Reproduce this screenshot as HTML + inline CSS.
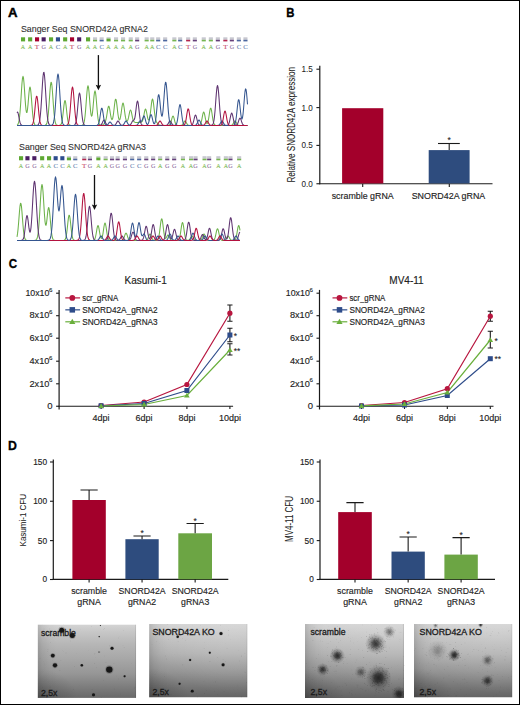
<!DOCTYPE html>
<html><head><meta charset="utf-8"><style>
html,body{margin:0;padding:0;background:#fff;}
svg{display:block;font-family:"Liberation Sans",sans-serif;}
</style></head><body>
<svg width="520" height="705" viewBox="0 0 520 705" font-family="Liberation Sans, sans-serif">
<defs><linearGradient id="bg" x1="0" x2="0" y1="0" y2="1"><stop offset="0" stop-color="rgb(212,212,212)"/><stop offset="0.1" stop-color="rgb(199,199,199)"/><stop offset="0.26" stop-color="rgb(183,183,183)"/><stop offset="0.48" stop-color="rgb(166,166,166)"/><stop offset="0.67" stop-color="rgb(150,150,150)"/><stop offset="0.88" stop-color="rgb(121,121,121)"/><stop offset="1" stop-color="rgb(105,105,105)"/></linearGradient><linearGradient id="vl" x1="0" x2="1" y1="0" y2="0"><stop offset="0" stop-color="#000" stop-opacity="0.14"/><stop offset="0.05" stop-color="#000" stop-opacity="0.07"/><stop offset="0.12" stop-color="#000" stop-opacity="0.02"/><stop offset="0.2" stop-color="#000" stop-opacity="0"/><stop offset="0.985" stop-color="#000" stop-opacity="0"/><stop offset="1" stop-color="#000" stop-opacity="0.15"/></linearGradient><radialGradient id="vbl" cx="0" cy="1" r="0.4"><stop offset="0" stop-color="#000" stop-opacity="0.2"/><stop offset="1" stop-color="#000" stop-opacity="0"/></radialGradient><radialGradient id="vr" cx="0.85" cy="0.2" r="0.75"><stop offset="0" stop-color="#fff" stop-opacity="0.12"/><stop offset="0.6" stop-color="#fff" stop-opacity="0.06"/><stop offset="1" stop-color="#fff" stop-opacity="0"/></radialGradient><filter id="blur1" x="-1" y="-1" width="3" height="3"><feGaussianBlur stdDeviation="1.6"/></filter><filter id="blur2" x="-1" y="-1" width="3" height="3"><feGaussianBlur stdDeviation="0.5"/></filter><linearGradient id="vb" x1="0" x2="0" y1="0" y2="1"><stop offset="0" stop-color="#fff" stop-opacity="0.25"/><stop offset="0.04" stop-color="#fff" stop-opacity="0"/><stop offset="0.93" stop-color="#000" stop-opacity="0"/><stop offset="1" stop-color="#000" stop-opacity="0.12"/></linearGradient><linearGradient id="bg2" x1="0" x2="0" y1="0" y2="1"><stop offset="0" stop-color="rgb(212,212,212)"/><stop offset="0.25" stop-color="rgb(190,190,190)"/><stop offset="0.4" stop-color="rgb(178,178,178)"/><stop offset="0.65" stop-color="rgb(148,148,148)"/><stop offset="0.88" stop-color="rgb(115,115,115)"/><stop offset="1" stop-color="rgb(100,100,100)"/></linearGradient><radialGradient id="col"><stop offset="0" stop-color="#1e1e1e" stop-opacity="0.95"/><stop offset="0.3" stop-color="#222" stop-opacity="0.8"/><stop offset="0.6" stop-color="#333" stop-opacity="0.35"/><stop offset="1" stop-color="#444" stop-opacity="0"/></radialGradient><filter id="blur3" x="-1" y="-1" width="3" height="3"><feGaussianBlur stdDeviation="1.0"/></filter><clipPath id="clip37"><rect x="37.6" y="624.4" width="98.6" height="73.5"/></clipPath><clipPath id="clip149"><rect x="149.1" y="623.9" width="98.4" height="73.6"/></clipPath><clipPath id="clip305"><rect x="305" y="624" width="99" height="74"/></clipPath><clipPath id="clip414"><rect x="414" y="624" width="98.4" height="73.5"/></clipPath></defs>
<rect x="0" y="0" width="520" height="705" fill="#fff"/>
<text x="8.1" y="17.3" font-size="13.2" font-weight="bold" fill="#000" stroke="#000" stroke-width="0.45" >A</text><text x="21" y="32.1" font-size="9.6" textLength="126.8" lengthAdjust="spacingAndGlyphs" fill="#303030" stroke="#303030" stroke-width="0.1" >Sanger Seq SNORD42A gRNA2</text><text x="19" y="150.1" font-size="9.6" textLength="127" lengthAdjust="spacingAndGlyphs" fill="#303030" stroke="#303030" stroke-width="0.1" >Sanger Seq SNORD42A gRNA3</text><rect x="21" y="37.3" width="4.1" height="4.1" fill="#5ea832"/><text x="23.05" y="48.7" font-family="Liberation Serif, serif" font-size="6.5" text-anchor="middle" textLength="4.4" lengthAdjust="spacingAndGlyphs" fill="#86c060" stroke="#86c060" stroke-width="0.12">A</text><rect x="28.1" y="37.3" width="4.1" height="4.1" fill="#5ea832"/><text x="30.150000000000002" y="48.7" font-family="Liberation Serif, serif" font-size="6.5" text-anchor="middle" textLength="4.4" lengthAdjust="spacingAndGlyphs" fill="#86c060" stroke="#86c060" stroke-width="0.12">A</text><rect x="35" y="37.3" width="4.1" height="4.1" fill="#a6002f"/><text x="37.05" y="48.7" font-family="Liberation Serif, serif" font-size="6.5" text-anchor="middle" textLength="4.4" lengthAdjust="spacingAndGlyphs" fill="#c8506e" stroke="#c8506e" stroke-width="0.12">T</text><rect x="41.6" y="37.3" width="4.1" height="4.1" fill="#4a1d63"/><text x="43.65" y="48.7" font-family="Liberation Serif, serif" font-size="6.5" text-anchor="middle" textLength="4.4" lengthAdjust="spacingAndGlyphs" fill="#8e6ea0" stroke="#8e6ea0" stroke-width="0.12">G</text><rect x="49" y="37.3" width="4.1" height="4.1" fill="#5ea832"/><text x="51.05" y="48.7" font-family="Liberation Serif, serif" font-size="6.5" text-anchor="middle" textLength="4.4" lengthAdjust="spacingAndGlyphs" fill="#86c060" stroke="#86c060" stroke-width="0.12">A</text><rect x="55.9" y="37.3" width="4.1" height="4.1" fill="#2d4c8e"/><text x="57.949999999999996" y="48.7" font-family="Liberation Serif, serif" font-size="6.5" text-anchor="middle" textLength="4.4" lengthAdjust="spacingAndGlyphs" fill="#6680b0" stroke="#6680b0" stroke-width="0.12">C</text><rect x="63.1" y="37.3" width="4.1" height="4.1" fill="#5ea832"/><text x="65.15" y="48.7" font-family="Liberation Serif, serif" font-size="6.5" text-anchor="middle" textLength="4.4" lengthAdjust="spacingAndGlyphs" fill="#86c060" stroke="#86c060" stroke-width="0.12">A</text><rect x="70" y="37.3" width="4.1" height="4.1" fill="#a6002f"/><text x="72.05" y="48.7" font-family="Liberation Serif, serif" font-size="6.5" text-anchor="middle" textLength="4.4" lengthAdjust="spacingAndGlyphs" fill="#c8506e" stroke="#c8506e" stroke-width="0.12">T</text><rect x="77.1" y="37.3" width="4.1" height="4.1" fill="#4a1d63"/><text x="79.14999999999999" y="48.7" font-family="Liberation Serif, serif" font-size="6.5" text-anchor="middle" textLength="4.4" lengthAdjust="spacingAndGlyphs" fill="#8e6ea0" stroke="#8e6ea0" stroke-width="0.12">G</text><rect x="86" y="37.3" width="4.1" height="4.1" fill="#5ea832"/><text x="88.05" y="48.7" font-family="Liberation Serif, serif" font-size="6.5" text-anchor="middle" textLength="4.4" lengthAdjust="spacingAndGlyphs" fill="#86c060" stroke="#86c060" stroke-width="0.12">A</text><rect x="93" y="37.3" width="4.1" height="2.5" fill="#c8c8d0"/><rect x="93" y="39.8" width="4.1" height="1.6" fill="#5ea832" opacity="0.85"/><text x="95.05" y="48.7" font-family="Liberation Serif, serif" font-size="6.5" text-anchor="middle" textLength="4.4" lengthAdjust="spacingAndGlyphs" fill="#86c060" stroke="#86c060" stroke-width="0.12">A</text><rect x="99.6" y="37.3" width="4.1" height="2.5" fill="#c8c8d0"/><rect x="99.6" y="39.8" width="4.1" height="1.6" fill="#2d4c8e" opacity="0.85"/><text x="101.64999999999999" y="48.7" font-family="Liberation Serif, serif" font-size="6.5" text-anchor="middle" textLength="4.4" lengthAdjust="spacingAndGlyphs" fill="#6680b0" stroke="#6680b0" stroke-width="0.12">C</text><rect x="106.5" y="37.3" width="4.1" height="1.3" fill="#c4c4cc"/><rect x="106.5" y="38.599999999999994" width="4.1" height="2.8" fill="#5ea832"/><text x="108.55" y="48.7" font-family="Liberation Serif, serif" font-size="6.5" text-anchor="middle" textLength="4.4" lengthAdjust="spacingAndGlyphs" fill="#86c060" stroke="#86c060" stroke-width="0.12">A</text><rect x="114" y="37.3" width="4.1" height="2.5" fill="#c8c8d0"/><rect x="114" y="39.8" width="4.1" height="1.6" fill="#5ea832" opacity="0.85"/><text x="116.05" y="48.7" font-family="Liberation Serif, serif" font-size="6.5" text-anchor="middle" textLength="4.4" lengthAdjust="spacingAndGlyphs" fill="#86c060" stroke="#86c060" stroke-width="0.12">A</text><rect x="121" y="37.3" width="4.1" height="2.5" fill="#c8c8d0"/><rect x="121" y="39.8" width="4.1" height="1.6" fill="#5ea832" opacity="0.85"/><text x="123.05" y="48.7" font-family="Liberation Serif, serif" font-size="6.5" text-anchor="middle" textLength="4.4" lengthAdjust="spacingAndGlyphs" fill="#86c060" stroke="#86c060" stroke-width="0.12">A</text><rect x="128.7" y="37.3" width="4.1" height="2.5" fill="#c8c8d0"/><rect x="128.7" y="39.8" width="4.1" height="1.6" fill="#5ea832" opacity="0.85"/><text x="130.75" y="48.7" font-family="Liberation Serif, serif" font-size="6.5" text-anchor="middle" textLength="4.4" lengthAdjust="spacingAndGlyphs" fill="#86c060" stroke="#86c060" stroke-width="0.12">A</text><rect x="135.1" y="37.3" width="4.1" height="2.5" fill="#c8c8d0"/><rect x="135.1" y="39.8" width="4.1" height="1.6" fill="#4a1d63" opacity="0.85"/><text x="137.15" y="48.7" font-family="Liberation Serif, serif" font-size="6.5" text-anchor="middle" textLength="4.4" lengthAdjust="spacingAndGlyphs" fill="#8e6ea0" stroke="#8e6ea0" stroke-width="0.12">G</text><rect x="144.6" y="37.3" width="4.1" height="2.5" fill="#c8c8d0"/><rect x="144.6" y="39.8" width="4.1" height="1.6" fill="#5ea832" opacity="0.85"/><text x="146.65" y="48.7" font-family="Liberation Serif, serif" font-size="6.5" text-anchor="middle" textLength="4.4" lengthAdjust="spacingAndGlyphs" fill="#86c060" stroke="#86c060" stroke-width="0.12">A</text><rect x="150.2" y="37.3" width="4.1" height="2.5" fill="#c8c8d0"/><rect x="150.2" y="39.8" width="4.1" height="1.6" fill="#5ea832" opacity="0.85"/><text x="152.25" y="48.7" font-family="Liberation Serif, serif" font-size="6.5" text-anchor="middle" textLength="4.4" lengthAdjust="spacingAndGlyphs" fill="#86c060" stroke="#86c060" stroke-width="0.12">A</text><rect x="156.1" y="37.3" width="4.1" height="2.5" fill="#c8c8d0"/><rect x="156.1" y="39.8" width="4.1" height="1.6" fill="#2d4c8e" opacity="0.85"/><text x="158.15" y="48.7" font-family="Liberation Serif, serif" font-size="6.5" text-anchor="middle" textLength="4.4" lengthAdjust="spacingAndGlyphs" fill="#6680b0" stroke="#6680b0" stroke-width="0.12">C</text><rect x="163.1" y="37.3" width="4.1" height="2.5" fill="#c8c8d0"/><rect x="163.1" y="39.8" width="4.1" height="1.6" fill="#2d4c8e" opacity="0.85"/><text x="165.15" y="48.7" font-family="Liberation Serif, serif" font-size="6.5" text-anchor="middle" textLength="4.4" lengthAdjust="spacingAndGlyphs" fill="#6680b0" stroke="#6680b0" stroke-width="0.12">C</text><rect x="172.3" y="37.3" width="4.1" height="2.5" fill="#c8c8d0"/><rect x="172.3" y="39.8" width="4.1" height="1.6" fill="#5ea832" opacity="0.85"/><text x="174.35000000000002" y="48.7" font-family="Liberation Serif, serif" font-size="6.5" text-anchor="middle" textLength="4.4" lengthAdjust="spacingAndGlyphs" fill="#86c060" stroke="#86c060" stroke-width="0.12">A</text><rect x="178.1" y="37.3" width="4.1" height="2.5" fill="#c8c8d0"/><rect x="178.1" y="39.8" width="4.1" height="1.6" fill="#2d4c8e" opacity="0.85"/><text x="180.15" y="48.7" font-family="Liberation Serif, serif" font-size="6.5" text-anchor="middle" textLength="4.4" lengthAdjust="spacingAndGlyphs" fill="#6680b0" stroke="#6680b0" stroke-width="0.12">C</text><rect x="186.1" y="37.3" width="4.1" height="2.5" fill="#c8c8d0"/><rect x="186.1" y="39.8" width="4.1" height="1.6" fill="#a6002f" opacity="0.85"/><text x="188.15" y="48.7" font-family="Liberation Serif, serif" font-size="6.5" text-anchor="middle" textLength="4.4" lengthAdjust="spacingAndGlyphs" fill="#c8506e" stroke="#c8506e" stroke-width="0.12">T</text><rect x="192.8" y="37.3" width="4.1" height="2.5" fill="#c8c8d0"/><rect x="192.8" y="39.8" width="4.1" height="1.6" fill="#4a1d63" opacity="0.85"/><text x="194.85000000000002" y="48.7" font-family="Liberation Serif, serif" font-size="6.5" text-anchor="middle" textLength="4.4" lengthAdjust="spacingAndGlyphs" fill="#8e6ea0" stroke="#8e6ea0" stroke-width="0.12">G</text><rect x="201.7" y="37.3" width="4.1" height="2.5" fill="#c8c8d0"/><rect x="201.7" y="39.8" width="4.1" height="1.6" fill="#5ea832" opacity="0.85"/><text x="203.75" y="48.7" font-family="Liberation Serif, serif" font-size="6.5" text-anchor="middle" textLength="4.4" lengthAdjust="spacingAndGlyphs" fill="#86c060" stroke="#86c060" stroke-width="0.12">A</text><rect x="208.8" y="37.3" width="4.1" height="2.5" fill="#c8c8d0"/><rect x="208.8" y="39.8" width="4.1" height="1.6" fill="#5ea832" opacity="0.85"/><text x="210.85000000000002" y="48.7" font-family="Liberation Serif, serif" font-size="6.5" text-anchor="middle" textLength="4.4" lengthAdjust="spacingAndGlyphs" fill="#86c060" stroke="#86c060" stroke-width="0.12">A</text><rect x="215.8" y="37.3" width="4.1" height="2.5" fill="#c8c8d0"/><rect x="215.8" y="39.8" width="4.1" height="1.6" fill="#4a1d63" opacity="0.85"/><text x="217.85000000000002" y="48.7" font-family="Liberation Serif, serif" font-size="6.5" text-anchor="middle" textLength="4.4" lengthAdjust="spacingAndGlyphs" fill="#8e6ea0" stroke="#8e6ea0" stroke-width="0.12">G</text><rect x="223.3" y="37.3" width="4.1" height="2.5" fill="#c8c8d0"/><rect x="223.3" y="39.8" width="4.1" height="1.6" fill="#a6002f" opacity="0.85"/><text x="225.35000000000002" y="48.7" font-family="Liberation Serif, serif" font-size="6.5" text-anchor="middle" textLength="4.4" lengthAdjust="spacingAndGlyphs" fill="#c8506e" stroke="#c8506e" stroke-width="0.12">T</text><rect x="229.8" y="37.3" width="4.1" height="2.5" fill="#c8c8d0"/><rect x="229.8" y="39.8" width="4.1" height="1.6" fill="#4a1d63" opacity="0.85"/><text x="231.85000000000002" y="48.7" font-family="Liberation Serif, serif" font-size="6.5" text-anchor="middle" textLength="4.4" lengthAdjust="spacingAndGlyphs" fill="#8e6ea0" stroke="#8e6ea0" stroke-width="0.12">G</text><rect x="236.8" y="37.3" width="4.1" height="2.5" fill="#c8c8d0"/><rect x="236.8" y="39.8" width="4.1" height="1.6" fill="#2d4c8e" opacity="0.85"/><text x="238.85000000000002" y="48.7" font-family="Liberation Serif, serif" font-size="6.5" text-anchor="middle" textLength="4.4" lengthAdjust="spacingAndGlyphs" fill="#6680b0" stroke="#6680b0" stroke-width="0.12">C</text><rect x="243.4" y="37.3" width="4.1" height="2.5" fill="#c8c8d0"/><rect x="243.4" y="39.8" width="4.1" height="1.6" fill="#2d4c8e" opacity="0.85"/><text x="245.45000000000002" y="48.7" font-family="Liberation Serif, serif" font-size="6.5" text-anchor="middle" textLength="4.4" lengthAdjust="spacingAndGlyphs" fill="#6680b0" stroke="#6680b0" stroke-width="0.12">C</text><rect x="19" y="156.2" width="4.1" height="4.1" fill="#5ea832"/><text x="21.05" y="167.7" font-family="Liberation Serif, serif" font-size="6.5" text-anchor="middle" textLength="4.4" lengthAdjust="spacingAndGlyphs" fill="#86c060" stroke="#86c060" stroke-width="0.12">A</text><rect x="25.4" y="156.2" width="4.1" height="4.1" fill="#4a1d63"/><text x="27.45" y="167.7" font-family="Liberation Serif, serif" font-size="6.5" text-anchor="middle" textLength="4.4" lengthAdjust="spacingAndGlyphs" fill="#8e6ea0" stroke="#8e6ea0" stroke-width="0.12">G</text><rect x="32.3" y="156.2" width="4.1" height="4.1" fill="#4a1d63"/><text x="34.349999999999994" y="167.7" font-family="Liberation Serif, serif" font-size="6.5" text-anchor="middle" textLength="4.4" lengthAdjust="spacingAndGlyphs" fill="#8e6ea0" stroke="#8e6ea0" stroke-width="0.12">G</text><rect x="40.1" y="156.2" width="4.1" height="4.1" fill="#5ea832"/><text x="42.15" y="167.7" font-family="Liberation Serif, serif" font-size="6.5" text-anchor="middle" textLength="4.4" lengthAdjust="spacingAndGlyphs" fill="#86c060" stroke="#86c060" stroke-width="0.12">A</text><rect x="47" y="156.2" width="4.1" height="4.1" fill="#5ea832"/><text x="49.05" y="167.7" font-family="Liberation Serif, serif" font-size="6.5" text-anchor="middle" textLength="4.4" lengthAdjust="spacingAndGlyphs" fill="#86c060" stroke="#86c060" stroke-width="0.12">A</text><rect x="53.6" y="156.2" width="4.1" height="4.1" fill="#2d4c8e"/><text x="55.65" y="167.7" font-family="Liberation Serif, serif" font-size="6.5" text-anchor="middle" textLength="4.4" lengthAdjust="spacingAndGlyphs" fill="#6680b0" stroke="#6680b0" stroke-width="0.12">C</text><rect x="60.3" y="156.2" width="4.1" height="4.1" fill="#2d4c8e"/><text x="62.349999999999994" y="167.7" font-family="Liberation Serif, serif" font-size="6.5" text-anchor="middle" textLength="4.4" lengthAdjust="spacingAndGlyphs" fill="#6680b0" stroke="#6680b0" stroke-width="0.12">C</text><rect x="66.9" y="156.2" width="4.1" height="1.3" fill="#c4c4cc"/><rect x="66.9" y="157.5" width="4.1" height="2.8" fill="#5ea832"/><text x="68.95" y="167.7" font-family="Liberation Serif, serif" font-size="6.5" text-anchor="middle" textLength="4.4" lengthAdjust="spacingAndGlyphs" fill="#86c060" stroke="#86c060" stroke-width="0.12">A</text><rect x="73.2" y="156.2" width="4.1" height="2.5" fill="#c8c8d0"/><rect x="73.2" y="158.7" width="4.1" height="1.6" fill="#2d4c8e" opacity="0.85"/><text x="75.25" y="167.7" font-family="Liberation Serif, serif" font-size="6.5" text-anchor="middle" textLength="4.4" lengthAdjust="spacingAndGlyphs" fill="#6680b0" stroke="#6680b0" stroke-width="0.12">C</text><rect x="82.2" y="156.2" width="4.1" height="2.5" fill="#c8c8d0"/><rect x="82.2" y="158.7" width="4.1" height="1.6" fill="#a6002f" opacity="0.85"/><text x="84.25" y="167.7" font-family="Liberation Serif, serif" font-size="6.5" text-anchor="middle" textLength="4.4" lengthAdjust="spacingAndGlyphs" fill="#c8506e" stroke="#c8506e" stroke-width="0.12">T</text><rect x="87.9" y="156.2" width="4.1" height="2.5" fill="#c8c8d0"/><rect x="87.9" y="158.7" width="4.1" height="1.6" fill="#4a1d63" opacity="0.85"/><text x="89.95" y="167.7" font-family="Liberation Serif, serif" font-size="6.5" text-anchor="middle" textLength="4.4" lengthAdjust="spacingAndGlyphs" fill="#8e6ea0" stroke="#8e6ea0" stroke-width="0.12">G</text><rect x="96.3" y="156.2" width="4.1" height="1.3" fill="#c4c4cc"/><rect x="96.3" y="157.5" width="4.1" height="2.8" fill="#5ea832"/><text x="98.35" y="167.7" font-family="Liberation Serif, serif" font-size="6.5" text-anchor="middle" textLength="4.4" lengthAdjust="spacingAndGlyphs" fill="#86c060" stroke="#86c060" stroke-width="0.12">A</text><rect x="103.6" y="156.2" width="4.1" height="2.5" fill="#c8c8d0"/><rect x="103.6" y="158.7" width="4.1" height="1.6" fill="#5ea832" opacity="0.85"/><text x="105.64999999999999" y="167.7" font-family="Liberation Serif, serif" font-size="6.5" text-anchor="middle" textLength="4.4" lengthAdjust="spacingAndGlyphs" fill="#86c060" stroke="#86c060" stroke-width="0.12">A</text><rect x="110" y="156.2" width="4.1" height="2.5" fill="#c8c8d0"/><rect x="110" y="158.7" width="4.1" height="1.6" fill="#4a1d63" opacity="0.85"/><text x="112.05" y="167.7" font-family="Liberation Serif, serif" font-size="6.5" text-anchor="middle" textLength="4.4" lengthAdjust="spacingAndGlyphs" fill="#8e6ea0" stroke="#8e6ea0" stroke-width="0.12">G</text><rect x="115.6" y="156.2" width="4.1" height="2.5" fill="#c8c8d0"/><rect x="115.6" y="158.7" width="4.1" height="1.6" fill="#4a1d63" opacity="0.85"/><text x="117.64999999999999" y="167.7" font-family="Liberation Serif, serif" font-size="6.5" text-anchor="middle" textLength="4.4" lengthAdjust="spacingAndGlyphs" fill="#8e6ea0" stroke="#8e6ea0" stroke-width="0.12">G</text><rect x="122.9" y="156.2" width="4.1" height="2.5" fill="#c8c8d0"/><rect x="122.9" y="158.7" width="4.1" height="1.6" fill="#4a1d63" opacity="0.85"/><text x="124.95" y="167.7" font-family="Liberation Serif, serif" font-size="6.5" text-anchor="middle" textLength="4.4" lengthAdjust="spacingAndGlyphs" fill="#8e6ea0" stroke="#8e6ea0" stroke-width="0.12">G</text><rect x="130.1" y="156.2" width="4.1" height="2.5" fill="#c8c8d0"/><rect x="130.1" y="158.7" width="4.1" height="1.6" fill="#2d4c8e" opacity="0.85"/><text x="132.15" y="167.7" font-family="Liberation Serif, serif" font-size="6.5" text-anchor="middle" textLength="4.4" lengthAdjust="spacingAndGlyphs" fill="#6680b0" stroke="#6680b0" stroke-width="0.12">C</text><rect x="137.1" y="156.2" width="4.1" height="2.5" fill="#c8c8d0"/><rect x="137.1" y="158.7" width="4.1" height="1.6" fill="#2d4c8e" opacity="0.85"/><text x="139.15" y="167.7" font-family="Liberation Serif, serif" font-size="6.5" text-anchor="middle" textLength="4.4" lengthAdjust="spacingAndGlyphs" fill="#6680b0" stroke="#6680b0" stroke-width="0.12">C</text><rect x="144.2" y="156.2" width="4.1" height="2.5" fill="#c8c8d0"/><rect x="144.2" y="158.7" width="4.1" height="1.6" fill="#4a1d63" opacity="0.85"/><text x="146.25" y="167.7" font-family="Liberation Serif, serif" font-size="6.5" text-anchor="middle" textLength="4.4" lengthAdjust="spacingAndGlyphs" fill="#8e6ea0" stroke="#8e6ea0" stroke-width="0.12">G</text><rect x="151.1" y="156.2" width="4.1" height="2.5" fill="#c8c8d0"/><rect x="151.1" y="158.7" width="4.1" height="1.6" fill="#4a1d63" opacity="0.85"/><text x="153.15" y="167.7" font-family="Liberation Serif, serif" font-size="6.5" text-anchor="middle" textLength="4.4" lengthAdjust="spacingAndGlyphs" fill="#8e6ea0" stroke="#8e6ea0" stroke-width="0.12">G</text><rect x="158.1" y="156.2" width="4.1" height="2.5" fill="#c8c8d0"/><rect x="158.1" y="158.7" width="4.1" height="1.6" fill="#5ea832" opacity="0.85"/><text x="160.15" y="167.7" font-family="Liberation Serif, serif" font-size="6.5" text-anchor="middle" textLength="4.4" lengthAdjust="spacingAndGlyphs" fill="#86c060" stroke="#86c060" stroke-width="0.12">A</text><rect x="165.2" y="156.2" width="4.1" height="2.5" fill="#c8c8d0"/><rect x="165.2" y="158.7" width="4.1" height="1.6" fill="#4a1d63" opacity="0.85"/><text x="167.25" y="167.7" font-family="Liberation Serif, serif" font-size="6.5" text-anchor="middle" textLength="4.4" lengthAdjust="spacingAndGlyphs" fill="#8e6ea0" stroke="#8e6ea0" stroke-width="0.12">G</text><rect x="172.1" y="156.2" width="4.1" height="2.5" fill="#c8c8d0"/><rect x="172.1" y="158.7" width="4.1" height="1.6" fill="#4a1d63" opacity="0.85"/><text x="174.15" y="167.7" font-family="Liberation Serif, serif" font-size="6.5" text-anchor="middle" textLength="4.4" lengthAdjust="spacingAndGlyphs" fill="#8e6ea0" stroke="#8e6ea0" stroke-width="0.12">G</text><rect x="180.9" y="156.2" width="4.1" height="2.5" fill="#c8c8d0"/><rect x="180.9" y="158.7" width="4.1" height="1.6" fill="#5ea832" opacity="0.85"/><text x="182.95000000000002" y="167.7" font-family="Liberation Serif, serif" font-size="6.5" text-anchor="middle" textLength="4.4" lengthAdjust="spacingAndGlyphs" fill="#86c060" stroke="#86c060" stroke-width="0.12">A</text><rect x="189" y="156.2" width="4.1" height="2.5" fill="#c8c8d0"/><rect x="189" y="158.7" width="4.1" height="1.6" fill="#5ea832" opacity="0.85"/><text x="191.05" y="167.7" font-family="Liberation Serif, serif" font-size="6.5" text-anchor="middle" textLength="4.4" lengthAdjust="spacingAndGlyphs" fill="#86c060" stroke="#86c060" stroke-width="0.12">A</text><rect x="193.5" y="156.2" width="4.1" height="2.5" fill="#c8c8d0"/><rect x="193.5" y="158.7" width="4.1" height="1.6" fill="#4a1d63" opacity="0.85"/><text x="195.55" y="167.7" font-family="Liberation Serif, serif" font-size="6.5" text-anchor="middle" textLength="4.4" lengthAdjust="spacingAndGlyphs" fill="#8e6ea0" stroke="#8e6ea0" stroke-width="0.12">G</text><rect x="202.5" y="156.2" width="4.1" height="2.5" fill="#c8c8d0"/><rect x="202.5" y="158.7" width="4.1" height="1.6" fill="#5ea832" opacity="0.85"/><text x="204.55" y="167.7" font-family="Liberation Serif, serif" font-size="6.5" text-anchor="middle" textLength="4.4" lengthAdjust="spacingAndGlyphs" fill="#86c060" stroke="#86c060" stroke-width="0.12">A</text><rect x="207.1" y="156.2" width="4.1" height="2.5" fill="#c8c8d0"/><rect x="207.1" y="158.7" width="4.1" height="1.6" fill="#4a1d63" opacity="0.85"/><text x="209.15" y="167.7" font-family="Liberation Serif, serif" font-size="6.5" text-anchor="middle" textLength="4.4" lengthAdjust="spacingAndGlyphs" fill="#8e6ea0" stroke="#8e6ea0" stroke-width="0.12">G</text><rect x="216.3" y="156.2" width="4.1" height="2.5" fill="#c8c8d0"/><rect x="216.3" y="158.7" width="4.1" height="1.6" fill="#5ea832" opacity="0.85"/><text x="218.35000000000002" y="167.7" font-family="Liberation Serif, serif" font-size="6.5" text-anchor="middle" textLength="4.4" lengthAdjust="spacingAndGlyphs" fill="#86c060" stroke="#86c060" stroke-width="0.12">A</text><rect x="223.8" y="156.2" width="4.1" height="2.5" fill="#c8c8d0"/><rect x="223.8" y="158.7" width="4.1" height="1.6" fill="#5ea832" opacity="0.85"/><text x="225.85000000000002" y="167.7" font-family="Liberation Serif, serif" font-size="6.5" text-anchor="middle" textLength="4.4" lengthAdjust="spacingAndGlyphs" fill="#86c060" stroke="#86c060" stroke-width="0.12">A</text><rect x="228.4" y="156.2" width="4.1" height="2.5" fill="#c8c8d0"/><rect x="228.4" y="158.7" width="4.1" height="1.6" fill="#4a1d63" opacity="0.85"/><text x="230.45000000000002" y="167.7" font-family="Liberation Serif, serif" font-size="6.5" text-anchor="middle" textLength="4.4" lengthAdjust="spacingAndGlyphs" fill="#8e6ea0" stroke="#8e6ea0" stroke-width="0.12">G</text><rect x="237.1" y="156.2" width="4.1" height="2.5" fill="#c8c8d0"/><rect x="237.1" y="158.7" width="4.1" height="1.6" fill="#5ea832" opacity="0.85"/><text x="239.15" y="167.7" font-family="Liberation Serif, serif" font-size="6.5" text-anchor="middle" textLength="4.4" lengthAdjust="spacingAndGlyphs" fill="#86c060" stroke="#86c060" stroke-width="0.12">A</text><polyline points="17.0,125.2 17.5,124.8 18.0,124.2 18.5,122.9 19.0,120.8 19.5,117.4 20.0,112.4 20.5,105.9 21.0,98.2 21.5,90.2 22.0,83.0 22.5,78.1 23.0,76.3 23.5,78.0 24.0,83.0 24.5,89.9 25.0,97.6 25.5,104.6 26.0,109.8 26.5,112.5 27.0,112.4 27.5,109.5 28.0,104.6 28.5,98.6 29.0,92.7 29.5,88.5 30.0,87.0 30.5,88.6 31.0,93.0 31.5,99.1 32.0,105.8 32.5,112.0 33.0,117.0 33.5,120.5 34.0,122.8 34.5,124.1 35.0,124.8 35.5,125.2 36.0,125.3 36.5,125.4 37.0,125.4 37.5,125.4 38.0,125.4 38.5,125.4 39.0,125.4 39.5,125.4 40.0,125.4 40.5,125.4 41.0,125.4 41.5,125.4 42.0,125.4 42.5,125.4 43.0,125.4 43.5,125.4 44.0,125.4 44.5,125.4 45.0,125.3 45.5,125.1 46.0,124.8 46.5,124.1 47.0,122.7 47.5,120.4 48.0,116.8 48.5,111.7 49.0,105.2 49.5,97.9 50.0,90.8 50.5,85.2 51.0,82.3 51.5,82.6 52.0,86.2 52.5,92.2 53.0,99.4 53.5,106.6 54.0,112.9 54.5,117.7 55.0,121.0 55.5,123.1 56.0,124.3 56.5,124.9 57.0,125.2 57.5,125.3 58.0,125.4 58.5,125.4 59.0,125.4 59.5,125.3 60.0,125.2 60.5,125.0 61.0,124.4 61.5,123.3 62.0,121.4 62.5,118.3 63.0,114.3 63.5,109.6 64.0,105.1 64.5,101.7 65.0,100.5 65.5,101.7 66.0,105.1 66.5,109.6 67.0,114.3 67.5,118.3 68.0,121.4 68.5,123.3 69.0,124.4 69.5,125.0 70.0,125.2 70.5,125.3 71.0,125.4 71.5,125.4 72.0,125.4 72.5,125.4 73.0,125.4 73.5,125.4 74.0,125.4 74.5,125.4 75.0,125.4 75.5,125.4 76.0,125.4 76.5,125.4 77.0,125.4 77.5,125.4 78.0,125.4 78.5,125.4 79.0,125.4 79.5,125.4 80.0,125.4 80.5,125.4 81.0,125.4 81.5,125.4 82.0,125.3 82.5,125.1 83.0,124.8 83.5,124.0 84.0,122.6 84.5,120.2 85.0,116.5 85.5,111.3 86.0,104.9 86.5,98.1 87.0,91.8 87.5,87.3 88.0,85.7 88.5,87.3 89.0,91.7 89.5,97.9 90.0,104.5 90.5,110.4 91.0,114.4 91.5,116.2 92.0,115.6 92.5,112.6 93.0,107.7 93.5,101.9 94.0,96.3 94.5,92.3 95.0,90.8 95.5,92.3 96.0,96.4 96.5,102.2 97.0,108.4 97.5,114.0 98.0,118.4 98.5,121.4 99.0,123.4 99.5,124.4 100.0,125.0 100.5,125.2 101.0,125.3 101.5,125.2 102.0,125.1 102.5,125.0 103.0,124.7 103.5,124.3 104.0,123.8 104.5,123.2 105.0,122.4 105.5,121.2 106.0,119.5 106.5,117.1 107.0,114.0 107.5,110.6 108.0,107.8 108.5,106.2 109.0,106.3 109.5,108.2 110.0,111.2 110.5,114.5 111.0,117.2 111.5,119.0 112.0,119.6 112.5,119.0 113.0,117.0 113.5,113.7 114.0,109.5 114.5,105.0 115.0,101.2 115.5,99.2 116.0,99.4 116.5,101.9 117.0,105.9 117.5,110.4 118.0,114.5 118.5,117.5 119.0,119.3 119.5,119.9 120.0,119.2 120.5,117.2 121.0,114.2 121.5,110.5 122.0,106.8 122.5,104.0 123.0,103.0 123.5,104.0 124.0,106.8 124.5,110.5 125.0,114.3 125.5,117.4 126.0,119.6 126.5,120.8 127.0,121.2 127.5,120.8 128.0,119.6 128.5,117.7 129.0,115.2 129.5,112.7 130.0,110.7" fill="none" stroke="#6db24a" stroke-width="1.05" stroke-linejoin="round"/><polyline points="17.0,112.8 17.5,112.0 18.0,112.8 18.5,114.8 19.0,117.6 19.5,120.2 20.0,122.4 20.5,123.8 21.0,124.7 21.5,125.1 22.0,125.3 22.5,125.4 23.0,125.4 23.5,125.4 24.0,125.4 24.5,125.4 25.0,125.4 25.5,125.4 26.0,125.4 26.5,125.4 27.0,125.4 27.5,125.4 28.0,125.4 28.5,125.4 29.0,125.4 29.5,125.4 30.0,125.4 30.5,125.4 31.0,125.4 31.5,125.4 32.0,125.4 32.5,125.4 33.0,125.4 33.5,125.4 34.0,125.4 34.5,125.4 35.0,125.4 35.5,125.4 36.0,125.4 36.5,125.4 37.0,125.3 37.5,125.2 38.0,124.9 38.5,124.4 39.0,123.3 39.5,121.4 40.0,118.4 40.5,113.8 41.0,107.6 41.5,100.0 42.0,91.5 42.5,83.3 43.0,76.6 43.5,72.7 44.0,72.3 44.5,75.5 45.0,81.8 45.5,89.8 46.0,98.3 46.5,106.2 47.0,112.7 47.5,117.6 48.0,120.9 48.5,123.0 49.0,124.2 49.5,124.8 50.0,125.2 50.5,125.3 51.0,125.4 51.5,125.4 52.0,125.4 52.5,125.4 53.0,125.4 53.5,125.4 54.0,125.4 54.5,125.4 55.0,125.4 55.5,125.4 56.0,125.4 56.5,125.4 57.0,125.4 57.5,125.4 58.0,125.4 58.5,125.4 59.0,125.4 59.5,125.4 60.0,125.4 60.5,125.4 61.0,125.4 61.5,125.4 62.0,125.4 62.5,125.4 63.0,125.4 63.5,125.4 64.0,125.4 64.5,125.4 65.0,125.4 65.5,125.4 66.0,125.4 66.5,125.4 67.0,125.4 67.5,125.4 68.0,125.4 68.5,125.4 69.0,125.4 69.5,125.4 70.0,125.4 70.5,125.4 71.0,125.4 71.5,125.4 72.0,125.4 72.5,125.4 73.0,125.4 73.5,125.4 74.0,125.3 74.5,125.1 75.0,124.6 75.5,123.6 76.0,121.9 76.5,119.1 77.0,115.0 77.5,109.8 78.0,103.9 78.5,98.4 79.0,94.4 79.5,93.0 80.0,94.4 80.5,98.4 81.0,103.9 81.5,109.8 82.0,115.0 82.5,119.1 83.0,121.9 83.5,123.6 84.0,124.6 84.5,125.1 85.0,125.3 85.5,125.4 86.0,125.4 86.5,125.4 87.0,125.4 87.5,125.4 88.0,125.4 88.5,125.4 89.0,125.4 89.5,125.4 90.0,125.4 90.5,125.4 91.0,125.4 91.5,125.4 92.0,125.4 92.5,125.4 93.0,125.4 93.5,125.4 94.0,125.4 94.5,125.4 95.0,125.4 95.5,125.4 96.0,125.4 96.5,125.4 97.0,125.4 97.5,125.4 98.0,125.4 98.5,125.4 99.0,125.4 99.5,125.4 100.0,125.3 100.5,125.2 101.0,124.9 101.5,124.4 102.0,123.6 102.5,122.5 103.0,121.3 103.5,120.4 104.0,120.0 104.5,120.4 105.0,121.3 105.5,122.5 106.0,123.6 106.5,124.4 107.0,124.9 107.5,125.2 108.0,125.3 108.5,125.4 109.0,125.4 109.5,125.4 110.0,125.4 110.5,125.4 111.0,125.4 111.5,125.4 112.0,125.4 112.5,125.4 113.0,125.4 113.5,125.4 114.0,125.3 114.5,125.2 115.0,125.0 115.5,124.6 116.0,123.9 116.5,123.0 117.0,122.1 117.5,121.3 118.0,121.0 118.5,121.3 119.0,122.1 119.5,123.0 120.0,123.9 120.5,124.6 121.0,125.0 121.5,125.2 122.0,125.3 122.5,125.4 123.0,125.4 123.5,125.4 124.0,125.4 124.5,125.4 125.0,125.4 125.5,125.4 126.0,125.4 126.5,125.4 127.0,125.4 127.5,125.4 128.0,125.4 128.5,125.4 129.0,125.3 129.5,125.2 130.0,125.0" fill="none" stroke="#5e3370" stroke-width="1.05" stroke-linejoin="round"/><polyline points="17.0,125.4 17.5,125.4 18.0,125.4 18.5,125.4 19.0,125.4 19.5,125.4 20.0,125.4 20.5,125.4 21.0,125.4 21.5,125.4 22.0,125.4 22.5,125.4 23.0,125.4 23.5,125.4 24.0,125.4 24.5,125.4 25.0,125.4 25.5,125.4 26.0,125.4 26.5,125.4 27.0,125.4 27.5,125.4 28.0,125.4 28.5,125.4 29.0,125.4 29.5,125.4 30.0,125.4 30.5,125.4 31.0,125.3 31.5,125.2 32.0,125.0 32.5,124.4 33.0,123.2 33.5,121.2 34.0,118.0 34.5,113.7 35.0,108.4 35.5,103.0 36.0,98.6 36.5,96.2 37.0,96.5 37.5,99.4 38.0,104.1 38.5,109.5 39.0,114.6 39.5,118.8 40.0,121.7 40.5,123.5 41.0,124.5 41.5,125.0 42.0,125.3 42.5,125.4 43.0,125.4 43.5,125.4 44.0,125.4 44.5,125.4 45.0,125.4 45.5,125.4 46.0,125.4 46.5,125.4 47.0,125.4 47.5,125.4 48.0,125.4 48.5,125.4 49.0,125.4 49.5,125.4 50.0,125.4 50.5,125.4 51.0,125.4 51.5,125.4 52.0,125.4 52.5,125.4 53.0,125.4 53.5,125.4 54.0,125.4 54.5,125.4 55.0,125.4 55.5,125.4 56.0,125.4 56.5,125.4 57.0,125.4 57.5,125.4 58.0,125.4 58.5,125.4 59.0,125.4 59.5,125.4 60.0,125.4 60.5,125.4 61.0,125.4 61.5,125.4 62.0,125.4 62.5,125.4 63.0,125.4 63.5,125.4 64.0,125.4 64.5,125.4 65.0,125.4 65.5,125.4 66.0,125.4 66.5,125.3 67.0,125.2 67.5,124.8 68.0,124.1 68.5,122.8 69.0,120.5 69.5,117.0 70.0,112.0 70.5,105.8 71.0,99.1 71.5,93.0 72.0,88.6 72.5,87.0 73.0,88.6 73.5,93.0 74.0,99.1 74.5,105.8 75.0,112.0 75.5,117.0 76.0,120.5 76.5,122.8 77.0,124.1 77.5,124.8 78.0,125.2 78.5,125.3 79.0,125.4 79.5,125.4 80.0,125.4 80.5,125.4 81.0,125.4 81.5,125.4 82.0,125.4 82.5,125.4 83.0,125.4 83.5,125.4 84.0,125.4 84.5,125.4 85.0,125.4 85.5,125.4 86.0,125.4 86.5,125.4 87.0,125.4 87.5,125.4 88.0,125.4 88.5,125.4 89.0,125.4 89.5,125.4 90.0,125.4 90.5,125.4 91.0,125.4 91.5,125.4 92.0,125.4 92.5,125.4 93.0,125.4 93.5,125.4 94.0,125.4 94.5,125.4 95.0,125.4 95.5,125.4 96.0,125.4 96.5,125.4 97.0,125.4 97.5,125.4 98.0,125.4 98.5,125.4 99.0,125.4 99.5,125.4 100.0,125.4 100.5,125.4 101.0,125.4 101.5,125.4 102.0,125.4 102.5,125.4 103.0,125.4 103.5,125.4 104.0,125.4 104.5,125.4 105.0,125.4 105.5,125.4 106.0,125.4 106.5,125.4 107.0,125.4 107.5,125.4 108.0,125.4 108.5,125.4 109.0,125.4 109.5,125.4 110.0,125.4 110.5,125.4 111.0,125.4 111.5,125.4 112.0,125.4 112.5,125.4 113.0,125.4 113.5,125.4 114.0,125.4 114.5,125.4 115.0,125.4 115.5,125.4 116.0,125.4 116.5,125.4 117.0,125.4 117.5,125.4 118.0,125.4 118.5,125.4 119.0,125.4 119.5,125.4 120.0,125.4 120.5,125.4 121.0,125.4 121.5,125.4 122.0,125.4 122.5,125.4 123.0,125.4 123.5,125.4 124.0,125.4 124.5,125.4 125.0,125.4 125.5,125.4 126.0,125.4 126.5,125.4 127.0,125.4 127.5,125.4 128.0,125.4 128.5,125.4 129.0,125.4 129.5,125.4 130.0,125.4" fill="none" stroke="#b3123f" stroke-width="1.05" stroke-linejoin="round"/><polyline points="17.0,125.4 17.5,125.4 18.0,125.4 18.5,125.4 19.0,125.4 19.5,125.4 20.0,125.4 20.5,125.4 21.0,125.4 21.5,125.4 22.0,125.4 22.5,125.4 23.0,125.4 23.5,125.4 24.0,125.4 24.5,125.4 25.0,125.4 25.5,125.4 26.0,125.4 26.5,125.4 27.0,125.4 27.5,125.4 28.0,125.4 28.5,125.4 29.0,125.4 29.5,125.4 30.0,125.4 30.5,125.4 31.0,125.4 31.5,125.4 32.0,125.4 32.5,125.4 33.0,125.4 33.5,125.4 34.0,125.4 34.5,125.4 35.0,125.4 35.5,125.4 36.0,125.4 36.5,125.4 37.0,125.4 37.5,125.4 38.0,125.4 38.5,125.4 39.0,125.4 39.5,125.4 40.0,125.4 40.5,125.4 41.0,125.4 41.5,125.4 42.0,125.4 42.5,125.4 43.0,125.4 43.5,125.4 44.0,125.4 44.5,125.4 45.0,125.4 45.5,125.4 46.0,125.4 46.5,125.4 47.0,125.4 47.5,125.4 48.0,125.4 48.5,125.4 49.0,125.4 49.5,125.4 50.0,125.4 50.5,125.4 51.0,125.4 51.5,125.3 52.0,125.1 52.5,124.7 53.0,124.0 53.5,122.6 54.0,120.2 54.5,116.6 55.0,111.3 55.5,104.5 56.0,96.5 56.5,88.2 57.0,80.9 57.5,75.8 58.0,74.0 58.5,75.8 59.0,80.9 59.5,88.2 60.0,96.5 60.5,104.5 61.0,111.3 61.5,116.6 62.0,120.2 62.5,122.6 63.0,124.0 63.5,124.7 64.0,125.1 64.5,125.3 65.0,125.4 65.5,125.4 66.0,125.4 66.5,125.4 67.0,125.4 67.5,125.4 68.0,125.4 68.5,125.4 69.0,125.4 69.5,125.4 70.0,125.4 70.5,125.4 71.0,125.4 71.5,125.4 72.0,125.4 72.5,125.4 73.0,125.4 73.5,125.4 74.0,125.4 74.5,125.4 75.0,125.4 75.5,125.4 76.0,125.4 76.5,125.4 77.0,125.4 77.5,125.4 78.0,125.4 78.5,125.4 79.0,125.4 79.5,125.4 80.0,125.4 80.5,125.4 81.0,125.4 81.5,125.4 82.0,125.4 82.5,125.4 83.0,125.4 83.5,125.4 84.0,125.4 84.5,125.4 85.0,125.4 85.5,125.4 86.0,125.4 86.5,125.4 87.0,125.4 87.5,125.4 88.0,125.4 88.5,125.4 89.0,125.4 89.5,125.4 90.0,125.4 90.5,125.4 91.0,125.4 91.5,125.4 92.0,125.4 92.5,125.4 93.0,125.4 93.5,125.4 94.0,125.4 94.5,125.4 95.0,125.4 95.5,125.4 96.0,125.4 96.5,125.4 97.0,125.3 97.5,125.1 98.0,124.7 98.5,123.9 99.0,122.4 99.5,120.1 100.0,117.0 100.5,113.5 101.0,110.3 101.5,108.3 102.0,108.2 102.5,109.8 103.0,112.8 103.5,116.3 104.0,119.5 104.5,122.0 105.0,123.7 105.5,124.6 106.0,125.0 106.5,125.2 107.0,125.1 107.5,124.8 108.0,124.3 108.5,123.6 109.0,122.8 109.5,122.2 110.0,122.0 110.5,122.2 111.0,122.8 111.5,123.6 112.0,124.3 112.5,124.8 113.0,125.1 113.5,125.3 114.0,125.4 114.5,125.4 115.0,125.4 115.5,125.4 116.0,125.4 116.5,125.4 117.0,125.4 117.5,125.4 118.0,125.4 118.5,125.4 119.0,125.4 119.5,125.4 120.0,125.4 120.5,125.4 121.0,125.4 121.5,125.4 122.0,125.3 122.5,125.2 123.0,125.0 123.5,124.6 124.0,123.9 124.5,123.0 125.0,122.1 125.5,121.3 126.0,121.0 126.5,121.3 127.0,122.1 127.5,123.0 128.0,123.9 128.5,124.6 129.0,125.0 129.5,125.2 130.0,125.3" fill="none" stroke="#34558f" stroke-width="1.05" stroke-linejoin="round"/><polyline points="130.0,110.7 130.5,110.0 131.0,110.7 131.5,112.7 132.0,115.2 132.5,117.7 133.0,119.7 133.5,121.0 134.0,121.8 134.5,122.1 135.0,122.3 135.5,122.4 136.0,122.4 136.5,122.4 137.0,122.4 137.5,122.4 138.0,122.4 138.5,122.4 139.0,122.4 139.5,122.4 140.0,122.4 140.5,122.4 141.0,122.3 141.5,122.1 142.0,121.7 142.5,120.8 143.0,119.4 143.5,117.2 144.0,114.6 144.5,111.8 145.0,109.8 145.5,109.0 146.0,109.8 146.5,111.8 147.0,114.5 147.5,117.1 148.0,119.0 148.5,120.0 149.0,119.8 149.5,118.4 150.0,115.8 150.5,112.1 151.0,107.7 151.5,103.4 152.0,100.2 152.5,99.0 153.0,100.2 153.5,103.4 154.0,107.7 154.5,112.2 155.0,116.0 155.5,118.9 156.0,120.8 156.5,122.0 157.0,122.7 157.5,123.3 158.0,123.9 158.5,124.3 159.0,124.7 159.5,125.0 160.0,125.2 160.5,125.3 161.0,125.3 161.5,125.4 162.0,125.4 162.5,125.4 163.0,125.4 163.5,125.4 164.0,125.4 164.5,125.4 165.0,125.4 165.5,125.4 166.0,125.4 166.5,125.4 167.0,125.4 167.5,125.4 168.0,125.4 168.5,125.3 169.0,125.2 169.5,125.0 170.0,124.4 170.5,123.5 171.0,122.0 171.5,120.1 172.0,118.1 172.5,116.6 173.0,116.0 173.5,116.6 174.0,118.1 174.5,120.1 175.0,122.0 175.5,123.5 176.0,124.4 176.5,125.0 177.0,125.2 177.5,125.3 178.0,125.4 178.5,125.4 179.0,125.4 179.5,125.4 180.0,125.4 180.5,125.4 181.0,125.3 181.5,125.2 182.0,125.0 182.5,124.6 183.0,123.9 183.5,123.0 184.0,122.1 184.5,121.3 185.0,121.0 185.5,121.3 186.0,122.1 186.5,123.0 187.0,123.9 187.5,124.6 188.0,125.0 188.5,125.2 189.0,125.3 189.5,125.4 190.0,125.4 190.5,125.4 191.0,125.4 191.5,125.4 192.0,125.4 192.5,125.4 193.0,125.4 193.5,125.4 194.0,125.4 194.5,125.4 195.0,125.4 195.5,125.4 196.0,125.4 196.5,125.4 197.0,125.4 197.5,125.4 198.0,125.4 198.5,125.4 199.0,125.3 199.5,125.2 200.0,124.9 200.5,124.2 201.0,123.0 201.5,121.2 202.0,118.7 202.5,115.9 203.0,113.5 203.5,112.1 204.0,112.3 204.5,113.9 205.0,116.4 205.5,119.2 206.0,121.5 206.5,123.0 207.0,123.6 207.5,123.2 208.0,121.9 208.5,119.5 209.0,116.3 209.5,112.8 210.0,109.8 210.5,108.2 211.0,108.3 211.5,110.3 212.0,113.5 212.5,117.0 213.0,120.1 213.5,122.4 214.0,123.9 214.5,124.7 215.0,125.1 215.5,125.3 216.0,125.4 216.5,125.4 217.0,125.4 217.5,125.4 218.0,125.4 218.5,125.4 219.0,125.4 219.5,125.4 220.0,125.4 220.5,125.4 221.0,125.4 221.5,125.4 222.0,125.4 222.5,125.4 223.0,125.4 223.5,125.4 224.0,125.4 224.5,125.4 225.0,125.4 225.5,125.4 226.0,125.4 226.5,125.4 227.0,125.4 227.5,125.4 228.0,125.4 228.5,125.4 229.0,125.4 229.5,125.4 230.0,125.4 230.5,125.4 231.0,125.3 231.5,125.2 232.0,125.0 232.5,124.6 233.0,123.9 233.5,123.0 234.0,122.1 234.5,121.3 235.0,121.0 235.5,121.3 236.0,122.1 236.5,123.0 237.0,123.9 237.5,124.6 238.0,125.0 238.5,125.2 239.0,125.3 239.5,125.4 240.0,125.4 240.5,125.4 241.0,125.4 241.5,125.4 242.0,125.4 242.5,125.4 243.0,125.4 243.5,125.4 244.0,125.4 244.5,125.4 245.0,125.4 245.5,125.4 246.0,125.4 246.5,125.4 247.0,125.4 247.5,125.4" fill="none" stroke="#6db24a" stroke-width="1.05" stroke-linejoin="round"/><polyline points="130.0,125.0 130.5,124.6 131.0,123.9 131.5,123.0 132.0,122.0 132.5,121.1 133.0,120.6 133.5,120.3 134.0,120.0 134.5,119.1 135.0,117.1 135.5,113.8 136.0,109.6 136.5,105.3 137.0,102.2 137.5,101.0 138.0,102.2 138.5,105.5 139.0,110.0 139.5,114.6 140.0,118.6 140.5,121.5 141.0,123.4 141.5,124.5 142.0,125.0 142.5,125.2 143.0,125.3 143.5,125.4 144.0,125.4 144.5,125.4 145.0,125.4 145.5,125.4 146.0,125.4 146.5,125.4 147.0,125.4 147.5,125.4 148.0,125.4 148.5,125.4 149.0,125.4 149.5,125.4 150.0,125.4 150.5,125.4 151.0,125.4 151.5,125.4 152.0,125.4 152.5,125.4 153.0,125.4 153.5,125.4 154.0,125.4 154.5,125.4 155.0,125.4 155.5,125.4 156.0,125.4 156.5,125.4 157.0,125.4 157.5,125.4 158.0,125.4 158.5,125.4 159.0,125.4 159.5,125.4 160.0,125.4 160.5,125.4 161.0,125.4 161.5,125.4 162.0,125.4 162.5,125.4 163.0,125.4 163.5,125.4 164.0,125.4 164.5,125.4 165.0,125.4 165.5,125.4 166.0,125.3 166.5,125.2 167.0,125.0 167.5,124.6 168.0,123.9 168.5,123.0 169.0,122.1 169.5,121.3 170.0,121.0 170.5,121.3 171.0,122.1 171.5,123.0 172.0,123.9 172.5,124.6 173.0,125.0 173.5,125.2 174.0,125.3 174.5,125.4 175.0,125.4 175.5,125.4 176.0,125.4 176.5,125.4 177.0,125.4 177.5,125.4 178.0,125.4 178.5,125.4 179.0,125.4 179.5,125.4 180.0,125.4 180.5,125.4 181.0,125.4 181.5,125.4 182.0,125.4 182.5,125.4 183.0,125.4 183.5,125.4 184.0,125.4 184.5,125.4 185.0,125.4 185.5,125.4 186.0,125.4 186.5,125.4 187.0,125.4 187.5,125.4 188.0,125.4 188.5,125.4 189.0,125.4 189.5,125.4 190.0,125.4 190.5,125.4 191.0,125.3 191.5,125.2 192.0,124.9 192.5,124.3 193.0,123.2 193.5,121.6 194.0,119.5 194.5,117.3 195.0,115.6 195.5,115.0 196.0,115.6 196.5,117.3 197.0,119.5 197.5,121.6 198.0,123.2 198.5,124.3 199.0,124.9 199.5,125.2 200.0,125.3 200.5,125.4 201.0,125.4 201.5,125.4 202.0,125.4 202.5,125.4 203.0,125.4 203.5,125.4 204.0,125.4 204.5,125.4 205.0,125.4 205.5,125.4 206.0,125.4 206.5,125.4 207.0,125.4 207.5,125.4 208.0,125.4 208.5,125.4 209.0,125.4 209.5,125.4 210.0,125.4 210.5,125.4 211.0,125.4 211.5,125.3 212.0,125.1 212.5,124.8 213.0,124.0 213.5,122.6 214.0,120.1 214.5,116.4 215.0,111.2 215.5,104.8 216.0,97.9 216.5,91.6 217.0,87.1 217.5,85.5 218.0,87.1 218.5,91.6 219.0,97.9 219.5,104.8 220.0,111.2 220.5,116.4 221.0,120.1 221.5,122.6 222.0,124.0 222.5,124.8 223.0,125.1 223.5,125.3 224.0,125.4 224.5,125.4 225.0,125.4 225.5,125.4 226.0,125.4 226.5,125.4 227.0,125.3 227.5,125.2 228.0,125.0 228.5,124.4 229.0,123.3 229.5,121.6 230.0,119.2 230.5,116.7 231.0,114.4 231.5,113.1 232.0,113.3 232.5,114.8 233.0,117.2 233.5,119.7 234.0,122.0 234.5,123.5 235.0,124.5 235.5,125.0 236.0,125.1 236.5,125.1 237.0,124.7 237.5,124.0 238.0,122.8 238.5,121.3 239.0,119.7 239.5,118.5 240.0,118.0 240.5,118.5 241.0,119.7 241.5,121.3 242.0,122.8 242.5,124.0 243.0,124.7 243.5,125.1 244.0,125.3 244.5,125.4 245.0,125.4 245.5,125.4 246.0,125.4 246.5,125.4 247.0,125.4 247.5,125.4" fill="none" stroke="#5e3370" stroke-width="1.05" stroke-linejoin="round"/><polyline points="130.0,125.3 130.5,125.4 131.0,125.4 131.5,125.4 132.0,125.4 132.5,125.4 133.0,125.4 133.5,125.4 134.0,125.4 134.5,125.4 135.0,125.4 135.5,125.4 136.0,125.3 136.5,125.2 137.0,125.0 137.5,124.6 138.0,123.9 138.5,123.0 139.0,122.0 139.5,121.2 140.0,120.8 140.5,120.9 141.0,121.1 141.5,121.1 142.0,120.5 142.5,119.3 143.0,117.7 143.5,116.4 144.0,115.9 144.5,116.6 145.0,118.1 145.5,120.1 146.0,122.0 146.5,123.4 147.0,124.2 147.5,124.5 148.0,124.1 148.5,123.0 149.0,121.3 149.5,119.2 150.0,116.9 150.5,115.2 151.0,114.5 151.5,115.2 152.0,116.9 152.5,119.1 153.0,121.3 153.5,122.9 154.0,123.7 154.5,123.7 155.0,122.8 155.5,120.7 156.0,117.4 156.5,112.8 157.0,107.3 157.5,101.8 158.0,97.2 158.5,94.7 159.0,95.0 159.5,97.9 160.0,102.6 160.5,107.9 161.0,112.5 161.5,115.5 162.0,116.3 162.5,114.7 163.0,110.7 163.5,104.8 164.0,97.8 164.5,90.8 165.0,85.2 165.5,82.3 166.0,82.6 166.5,86.2 167.0,92.2 167.5,99.4 168.0,106.6 168.5,112.9 169.0,117.7 169.5,121.0 170.0,123.1 170.5,124.3 171.0,124.9 171.5,125.2 172.0,125.3 172.5,125.4 173.0,125.4 173.5,125.4 174.0,125.4 174.5,125.4 175.0,125.3 175.5,125.1 176.0,124.7 176.5,123.9 177.0,122.3 177.5,119.9 178.0,116.5 178.5,112.5 179.0,108.5 179.5,105.6 180.0,104.5 180.5,105.6 181.0,108.5 181.5,112.5 182.0,116.5 182.5,119.9 183.0,122.3 183.5,123.9 184.0,124.7 184.5,125.1 185.0,125.3 185.5,125.4 186.0,125.4 186.5,125.4 187.0,125.4 187.5,125.4 188.0,125.4 188.5,125.4 189.0,125.4 189.5,125.4 190.0,125.4 190.5,125.4 191.0,125.4 191.5,125.4 192.0,125.4 192.5,125.4 193.0,125.4 193.5,125.4 194.0,125.4 194.5,125.4 195.0,125.3 195.5,125.2 196.0,124.9 196.5,124.4 197.0,123.6 197.5,122.5 198.0,121.3 198.5,120.4 199.0,120.0 199.5,120.4 200.0,121.3 200.5,122.5 201.0,123.6 201.5,124.4 202.0,124.9 202.5,125.2 203.0,125.3 203.5,125.4 204.0,125.4 204.5,125.4 205.0,125.4 205.5,125.4 206.0,125.4 206.5,125.4 207.0,125.4 207.5,125.4 208.0,125.4 208.5,125.4 209.0,125.4 209.5,125.4 210.0,125.4 210.5,125.4 211.0,125.4 211.5,125.4 212.0,125.4 212.5,125.4 213.0,125.4 213.5,125.4 214.0,125.4 214.5,125.4 215.0,125.4 215.5,125.4 216.0,125.4 216.5,125.4 217.0,125.4 217.5,125.4 218.0,125.3 218.5,125.2 219.0,125.0 219.5,124.6 220.0,123.9 220.5,123.0 221.0,122.1 221.5,121.3 222.0,121.0 222.5,121.3 223.0,122.1 223.5,123.0 224.0,123.9 224.5,124.6 225.0,125.0 225.5,125.2 226.0,125.3 226.5,125.4 227.0,125.4 227.5,125.4 228.0,125.4 228.5,125.4 229.0,125.4 229.5,125.4 230.0,125.4 230.5,125.4 231.0,125.4 231.5,125.4 232.0,125.4 232.5,125.4 233.0,125.4 233.5,125.3 234.0,125.1 234.5,124.6 235.0,123.7 235.5,122.0 236.0,119.3 236.5,115.5 237.0,110.8 237.5,106.0 238.0,101.9 238.5,99.7 239.0,99.9 239.5,102.5 240.0,106.8 240.5,111.5 241.0,115.5 241.5,118.2 242.0,119.0 242.5,117.6 243.0,114.3 243.5,109.2 244.0,103.0 244.5,96.7 245.0,91.7 245.5,88.9 246.0,89.3 246.5,92.5 247.0,98.0 247.5,104.4" fill="none" stroke="#34558f" stroke-width="1.05" stroke-linejoin="round"/><polyline points="130.0,125.4 130.5,125.4 131.0,125.4 131.5,125.4 132.0,125.4 132.5,125.4 133.0,125.4 133.5,125.4 134.0,125.4 134.5,125.4 135.0,125.4 135.5,125.4 136.0,125.4 136.5,125.4 137.0,125.4 137.5,125.4 138.0,125.4 138.5,125.4 139.0,125.4 139.5,125.4 140.0,125.4 140.5,125.4 141.0,125.4 141.5,125.4 142.0,125.4 142.5,125.4 143.0,125.4 143.5,125.4 144.0,125.4 144.5,125.4 145.0,125.4 145.5,125.4 146.0,125.4 146.5,125.4 147.0,125.4 147.5,125.4 148.0,125.4 148.5,125.4 149.0,125.4 149.5,125.4 150.0,125.4 150.5,125.4 151.0,125.4 151.5,125.4 152.0,125.4 152.5,125.4 153.0,125.4 153.5,125.4 154.0,125.4 154.5,125.4 155.0,125.4 155.5,125.4 156.0,125.3 156.5,125.2 157.0,125.0 157.5,124.6 158.0,123.9 158.5,123.0 159.0,122.1 159.5,121.3 160.0,121.0 160.5,121.3 161.0,122.1 161.5,123.0 162.0,123.9 162.5,124.6 163.0,125.0 163.5,125.2 164.0,125.3 164.5,125.4 165.0,125.4 165.5,125.4 166.0,125.4 166.5,125.4 167.0,125.4 167.5,125.4 168.0,125.4 168.5,125.4 169.0,125.4 169.5,125.4 170.0,125.4 170.5,125.4 171.0,125.4 171.5,125.4 172.0,125.4 172.5,125.4 173.0,125.4 173.5,125.4 174.0,125.4 174.5,125.4 175.0,125.4 175.5,125.4 176.0,125.4 176.5,125.4 177.0,125.4 177.5,125.4 178.0,125.4 178.5,125.4 179.0,125.4 179.5,125.4 180.0,125.4 180.5,125.4 181.0,125.4 181.5,125.4 182.0,125.4 182.5,125.4 183.0,125.4 183.5,125.3 184.0,125.1 184.5,124.7 185.0,123.8 185.5,122.2 186.0,119.8 186.5,116.7 187.0,113.4 187.5,110.5 188.0,108.9 188.5,109.0 189.0,111.0 189.5,114.0 190.0,117.4 190.5,120.4 191.0,122.6 191.5,124.0 192.0,124.8 192.5,125.1 193.0,125.3 193.5,125.4 194.0,125.4 194.5,125.4 195.0,125.4 195.5,125.4 196.0,125.4 196.5,125.4 197.0,125.4 197.5,125.4 198.0,125.4 198.5,125.4 199.0,125.4 199.5,125.4 200.0,125.4 200.5,125.4 201.0,125.4 201.5,125.4 202.0,125.4 202.5,125.4 203.0,125.3 203.5,125.2 204.0,125.0 204.5,124.6 205.0,123.9 205.5,123.0 206.0,122.1 206.5,121.3 207.0,121.0 207.5,121.3 208.0,122.1 208.5,123.0 209.0,123.9 209.5,124.6 210.0,125.0 210.5,125.2 211.0,125.3 211.5,125.4 212.0,125.4 212.5,125.4 213.0,125.4 213.5,125.4 214.0,125.4 214.5,125.4 215.0,125.4 215.5,125.4 216.0,125.4 216.5,125.4 217.0,125.4 217.5,125.4 218.0,125.4 218.5,125.4 219.0,125.4 219.5,125.4 220.0,125.4 220.5,125.3 221.0,125.1 221.5,124.6 222.0,123.7 222.5,122.1 223.0,119.8 223.5,116.9 224.0,114.0 224.5,111.8 225.0,111.0 225.5,111.8 226.0,114.0 226.5,116.9 227.0,119.8 227.5,122.1 228.0,123.7 228.5,124.6 229.0,125.1 229.5,125.3 230.0,125.4 230.5,125.4 231.0,125.4 231.5,125.4 232.0,125.4 232.5,125.4 233.0,125.4 233.5,125.4 234.0,125.4 234.5,125.4 235.0,125.4 235.5,125.4 236.0,125.4 236.5,125.4 237.0,125.4 237.5,125.4 238.0,125.4 238.5,125.4 239.0,125.4 239.5,125.4 240.0,125.4 240.5,125.4 241.0,125.4 241.5,125.4 242.0,125.4 242.5,125.4 243.0,125.4 243.5,125.4 244.0,125.4 244.5,125.4 245.0,125.4 245.5,125.4 246.0,125.4 246.5,125.4 247.0,125.4 247.5,125.4" fill="none" stroke="#b3123f" stroke-width="1.05" stroke-linejoin="round"/><polyline points="17.0,236.8 17.5,233.9 18.0,229.6 18.5,224.0 19.0,217.6 19.5,211.2 20.0,206.0 20.5,203.3 21.0,203.6 21.5,206.9 22.0,212.4 22.5,218.9 23.0,225.2 23.5,230.6 24.0,234.6 24.5,237.2 25.0,238.8 25.5,239.7 26.0,240.1 26.5,240.3 27.0,240.4 27.5,240.4 28.0,240.4 28.5,240.4 29.0,240.4 29.5,240.4 30.0,240.4 30.5,240.4 31.0,240.4 31.5,240.4 32.0,240.4 32.5,240.4 33.0,240.4 33.5,240.4 34.0,240.4 34.5,240.4 35.0,240.3 35.5,240.2 36.0,240.0 36.5,239.5 37.0,238.6 37.5,236.9 38.0,234.1 38.5,229.9 39.0,224.0 39.5,216.6 40.0,208.0 40.5,199.3 41.0,191.6 41.5,186.4 42.0,184.5 42.5,186.3 43.0,191.5 43.5,199.0 44.0,207.4 44.5,215.2 45.0,221.3 45.5,224.7 46.0,225.3 46.5,223.2 47.0,219.1 47.5,214.1 48.0,209.9 48.5,207.6 49.0,208.0 49.5,211.1 50.0,216.2 50.5,222.1 51.0,227.8 51.5,232.4 52.0,235.8 52.5,238.0 53.0,239.2 53.5,239.9 54.0,240.2 54.5,240.3 55.0,240.4 55.5,240.4 56.0,240.4 56.5,240.4 57.0,240.4 57.5,240.4 58.0,240.4 58.5,240.4 59.0,240.4 59.5,240.4 60.0,240.4 60.5,240.4 61.0,240.4 61.5,240.4 62.0,240.4 62.5,240.4 63.0,240.4 63.5,240.4 64.0,240.3 64.5,240.1 65.0,239.7 65.5,238.8 66.0,237.1 66.5,234.5 67.0,230.8 67.5,226.2 68.0,221.4 68.5,217.4 69.0,215.2 69.5,215.5 70.0,218.1 70.5,222.3 71.0,227.1 71.5,231.6 72.0,235.1 72.5,237.5 73.0,239.0 73.5,239.8 74.0,240.1 74.5,240.3 75.0,240.4 75.5,240.4 76.0,240.4 76.5,240.4 77.0,240.4 77.5,240.4 78.0,240.4 78.5,240.4 79.0,240.4 79.5,240.4 80.0,240.4 80.5,240.4 81.0,240.4 81.5,240.4 82.0,240.4 82.5,240.4 83.0,240.4 83.5,240.4 84.0,240.4 84.5,240.4 85.0,240.4 85.5,240.4 86.0,240.4 86.5,240.4 87.0,240.4 87.5,240.4 88.0,240.4 88.5,240.4 89.0,240.4 89.5,240.4 90.0,240.4 90.5,240.4 91.0,240.4 91.5,240.4 92.0,240.4 92.5,240.4 93.0,240.4 93.5,240.3 94.0,240.0 94.5,239.5 95.0,238.6 95.5,236.9 96.0,234.5 96.5,231.6 97.0,228.6 97.5,226.3 98.0,225.5 98.5,226.3 99.0,228.6 99.5,231.6 100.0,234.5 100.5,236.8 101.0,238.1 101.5,238.4 102.0,237.7 102.5,236.0 103.0,233.3 103.5,229.9 104.0,226.5 104.5,224.0 105.0,223.0 105.5,224.0 106.0,226.5 106.5,229.9 107.0,233.3 107.5,236.1 108.0,238.1 108.5,239.3 109.0,239.9 109.5,240.2 110.0,240.3 110.5,240.4 111.0,240.4 111.5,240.4 112.0,240.4 112.5,240.4 113.0,240.4 113.5,240.4 114.0,240.4 114.5,240.4 115.0,240.4 115.5,240.4 116.0,240.4 116.5,240.4 117.0,240.4 117.5,240.4 118.0,240.4 118.5,240.4 119.0,240.4 119.5,240.4 120.0,240.4 120.5,240.4 121.0,240.4 121.5,240.4 122.0,240.3 122.5,240.1 123.0,239.7 123.5,239.0 124.0,237.8 124.5,236.3 125.0,234.7 125.5,233.5 126.0,233.0 126.5,233.5 127.0,234.7 127.5,236.3 128.0,237.8 128.5,239.0 129.0,239.7 129.5,240.1 130.0,240.3" fill="none" stroke="#6db24a" stroke-width="1.05" stroke-linejoin="round"/><polyline points="17.0,240.4 17.5,240.4 18.0,240.4 18.5,240.4 19.0,240.4 19.5,240.4 20.0,240.4 20.5,240.4 21.0,240.4 21.5,240.3 22.0,240.2 22.5,240.0 23.0,239.4 23.5,238.3 24.0,236.4 24.5,233.3 25.0,229.3 25.5,224.6 26.0,220.0 26.5,216.7 27.0,215.5 27.5,216.6 28.0,219.8 28.5,224.1 29.0,228.2 29.5,231.1 30.0,232.2 30.5,231.1 31.0,227.6 31.5,221.8 32.0,214.2 32.5,205.3 33.0,196.3 33.5,188.5 34.0,183.1 34.5,181.2 35.0,183.1 35.5,188.5 36.0,196.3 36.5,205.4 37.0,214.3 37.5,222.2 38.0,228.6 38.5,233.2 39.0,236.3 39.5,238.2 40.0,239.3 40.5,239.9 41.0,240.2 41.5,240.3 42.0,240.4 42.5,240.4 43.0,240.4 43.5,240.4 44.0,240.4 44.5,240.4 45.0,240.4 45.5,240.4 46.0,240.4 46.5,240.4 47.0,240.4 47.5,240.4 48.0,240.4 48.5,240.4 49.0,240.4 49.5,240.4 50.0,240.4 50.5,240.4 51.0,240.4 51.5,240.4 52.0,240.4 52.5,240.4 53.0,240.4 53.5,240.4 54.0,240.4 54.5,240.4 55.0,240.4 55.5,240.4 56.0,240.4 56.5,240.4 57.0,240.4 57.5,240.4 58.0,240.4 58.5,240.4 59.0,240.4 59.5,240.4 60.0,240.4 60.5,240.4 61.0,240.4 61.5,240.4 62.0,240.4 62.5,240.4 63.0,240.4 63.5,240.4 64.0,240.4 64.5,240.4 65.0,240.4 65.5,240.4 66.0,240.4 66.5,240.4 67.0,240.4 67.5,240.4 68.0,240.4 68.5,240.4 69.0,240.4 69.5,240.4 70.0,240.4 70.5,240.4 71.0,240.4 71.5,240.4 72.0,240.4 72.5,240.4 73.0,240.4 73.5,240.4 74.0,240.4 74.5,240.4 75.0,240.4 75.5,240.4 76.0,240.4 76.5,240.4 77.0,240.4 77.5,240.4 78.0,240.4 78.5,240.4 79.0,240.4 79.5,240.4 80.0,240.4 80.5,240.4 81.0,240.4 81.5,240.4 82.0,240.4 82.5,240.4 83.0,240.4 83.5,240.3 84.0,240.2 84.5,240.0 85.0,239.5 85.5,238.4 86.0,236.5 86.5,233.5 87.0,229.2 87.5,223.6 88.0,217.5 88.5,211.8 89.0,207.7 89.5,206.2 90.0,207.7 90.5,211.8 91.0,217.5 91.5,223.6 92.0,229.2 92.5,233.5 93.0,236.5 93.5,238.4 94.0,239.5 94.5,240.0 95.0,240.2 95.5,240.3 96.0,240.4 96.5,240.4 97.0,240.4 97.5,240.4 98.0,240.4 98.5,240.4 99.0,240.4 99.5,240.4 100.0,240.4 100.5,240.4 101.0,240.4 101.5,240.4 102.0,240.4 102.5,240.4 103.0,240.4 103.5,240.4 104.0,240.4 104.5,240.4 105.0,240.4 105.5,240.4 106.0,240.3 106.5,240.0 107.0,239.5 107.5,238.5 108.0,236.7 108.5,233.8 109.0,229.7 109.5,224.8 110.0,219.7 110.5,215.5 111.0,213.2 111.5,213.5 112.0,216.2 112.5,220.7 113.0,225.8 113.5,230.6 114.0,234.5 114.5,237.1 115.0,238.8 115.5,239.7 116.0,240.1 116.5,240.3 117.0,240.4 117.5,240.4 118.0,240.3 118.5,240.2 119.0,240.0 119.5,239.6 120.0,238.9 120.5,238.0 121.0,237.1 121.5,236.3 122.0,236.0 122.5,236.3 123.0,237.1 123.5,238.0 124.0,238.9 124.5,239.6 125.0,240.0 125.5,240.2 126.0,240.3 126.5,240.4 127.0,240.4 127.5,240.4 128.0,240.4 128.5,240.4 129.0,240.3 129.5,240.0 130.0,239.6" fill="none" stroke="#5e3370" stroke-width="1.05" stroke-linejoin="round"/><polyline points="17.0,240.4 17.5,240.4 18.0,240.4 18.5,240.4 19.0,240.4 19.5,240.4 20.0,240.4 20.5,240.4 21.0,240.4 21.5,240.4 22.0,240.4 22.5,240.4 23.0,240.4 23.5,240.4 24.0,240.4 24.5,240.4 25.0,240.4 25.5,240.4 26.0,240.4 26.5,240.4 27.0,240.4 27.5,240.4 28.0,240.4 28.5,240.4 29.0,240.4 29.5,240.4 30.0,240.4 30.5,240.4 31.0,240.4 31.5,240.4 32.0,240.4 32.5,240.4 33.0,240.4 33.5,240.4 34.0,240.4 34.5,240.4 35.0,240.4 35.5,240.4 36.0,240.4 36.5,240.4 37.0,240.4 37.5,240.4 38.0,240.4 38.5,240.4 39.0,240.4 39.5,240.4 40.0,240.4 40.5,240.4 41.0,240.4 41.5,240.4 42.0,240.4 42.5,240.4 43.0,240.4 43.5,240.4 44.0,240.4 44.5,240.4 45.0,240.4 45.5,240.4 46.0,240.4 46.5,240.4 47.0,240.4 47.5,240.4 48.0,240.4 48.5,240.4 49.0,240.4 49.5,240.4 50.0,240.4 50.5,240.4 51.0,240.4 51.5,240.4 52.0,240.4 52.5,240.4 53.0,240.4 53.5,240.4 54.0,240.4 54.5,240.4 55.0,240.4 55.5,240.4 56.0,240.4 56.5,240.4 57.0,240.4 57.5,240.4 58.0,240.4 58.5,240.4 59.0,240.4 59.5,240.4 60.0,240.4 60.5,240.4 61.0,240.4 61.5,240.4 62.0,240.4 62.5,240.4 63.0,240.4 63.5,240.4 64.0,240.4 64.5,240.4 65.0,240.4 65.5,240.4 66.0,240.4 66.5,240.4 67.0,240.4 67.5,240.4 68.0,240.4 68.5,240.4 69.0,240.4 69.5,240.4 70.0,240.4 70.5,240.4 71.0,240.4 71.5,240.4 72.0,240.4 72.5,240.4 73.0,240.4 73.5,240.4 74.0,240.4 74.5,240.4 75.0,240.4 75.5,240.4 76.0,240.4 76.5,240.4 77.0,240.3 77.5,240.3 78.0,240.1 78.5,239.6 79.0,238.7 79.5,237.1 80.0,234.4 80.5,230.4 81.0,224.7 81.5,217.7 82.0,209.9 82.5,202.4 83.0,196.6 83.5,193.5 84.0,193.8 84.5,197.6 85.0,203.8 85.5,211.5 86.0,219.2 86.5,226.0 87.0,231.3 87.5,235.1 88.0,237.5 88.5,238.9 89.0,239.7 89.5,240.1 90.0,240.3 90.5,240.4 91.0,240.4 91.5,240.4 92.0,240.4 92.5,240.4 93.0,240.4 93.5,240.4 94.0,240.4 94.5,240.4 95.0,240.4 95.5,240.4 96.0,240.4 96.5,240.4 97.0,240.4 97.5,240.4 98.0,240.4 98.5,240.4 99.0,240.4 99.5,240.4 100.0,240.4 100.5,240.4 101.0,240.4 101.5,240.4 102.0,240.4 102.5,240.4 103.0,240.4 103.5,240.4 104.0,240.3 104.5,240.2 105.0,240.0 105.5,239.6 106.0,238.9 106.5,238.0 107.0,237.1 107.5,236.3 108.0,236.0 108.5,236.3 109.0,237.1 109.5,238.0 110.0,238.9 110.5,239.6 111.0,240.0 111.5,240.2 112.0,240.3 112.5,240.4 113.0,240.4 113.5,240.4 114.0,240.3 114.5,240.0 115.0,239.5 115.5,238.4 116.0,236.7 116.5,234.0 117.0,230.5 117.5,226.8 118.0,223.6 118.5,221.9 119.0,222.1 119.5,224.2 120.0,227.5 120.5,231.2 121.0,234.6 121.5,237.1 122.0,238.7 122.5,239.6 123.0,240.1 123.5,240.3 124.0,240.4 124.5,240.4 125.0,240.4 125.5,240.4 126.0,240.4 126.5,240.4 127.0,240.4 127.5,240.4 128.0,240.4 128.5,240.4 129.0,240.4 129.5,240.4 130.0,240.4" fill="none" stroke="#b3123f" stroke-width="1.05" stroke-linejoin="round"/><polyline points="17.0,240.4 17.5,240.4 18.0,240.4 18.5,240.4 19.0,240.4 19.5,240.4 20.0,240.4 20.5,240.4 21.0,240.4 21.5,240.4 22.0,240.4 22.5,240.4 23.0,240.4 23.5,240.4 24.0,240.4 24.5,240.4 25.0,240.4 25.5,240.4 26.0,240.4 26.5,240.4 27.0,240.4 27.5,240.4 28.0,240.4 28.5,240.4 29.0,240.4 29.5,240.4 30.0,240.4 30.5,240.4 31.0,240.4 31.5,240.4 32.0,240.4 32.5,240.4 33.0,240.4 33.5,240.4 34.0,240.4 34.5,240.4 35.0,240.4 35.5,240.4 36.0,240.4 36.5,240.4 37.0,240.4 37.5,240.4 38.0,240.4 38.5,240.4 39.0,240.4 39.5,240.4 40.0,240.4 40.5,240.4 41.0,240.4 41.5,240.4 42.0,240.4 42.5,240.4 43.0,240.4 43.5,240.4 44.0,240.4 44.5,240.4 45.0,240.4 45.5,240.4 46.0,240.4 46.5,240.4 47.0,240.4 47.5,240.4 48.0,240.3 48.5,240.3 49.0,240.1 49.5,239.7 50.0,239.0 50.5,237.6 51.0,235.4 51.5,231.9 52.0,226.7 52.5,219.9 53.0,211.4 53.5,202.0 54.0,192.6 54.5,184.4 55.0,178.9 55.5,176.8 56.0,178.6 56.5,183.6 57.0,190.9 57.5,198.7 58.0,205.4 58.5,209.8 59.0,211.0 59.5,208.8 60.0,203.9 60.5,197.6 61.0,191.3 61.5,186.9 62.0,185.4 62.5,187.4 63.0,192.7 63.5,200.3 64.0,208.9 64.5,217.3 65.0,224.6 65.5,230.3 66.0,234.4 66.5,237.1 67.0,238.7 67.5,239.6 68.0,240.0 68.5,240.2 69.0,240.3 69.5,240.2 70.0,239.9 70.5,239.4 71.0,238.3 71.5,236.4 72.0,233.3 72.5,228.7 73.0,222.6 73.5,215.3 74.0,207.7 74.5,200.8 75.0,195.9 75.5,194.2 76.0,195.9 76.5,200.8 77.0,207.7 77.5,215.3 78.0,222.6 78.5,228.7 79.0,233.3 79.5,236.4 80.0,238.3 80.5,239.4 81.0,239.9 81.5,240.2 82.0,240.3 82.5,240.4 83.0,240.4 83.5,240.4 84.0,240.4 84.5,240.4 85.0,240.4 85.5,240.4 86.0,240.4 86.5,240.4 87.0,240.4 87.5,240.4 88.0,240.4 88.5,240.4 89.0,240.4 89.5,240.4 90.0,240.4 90.5,240.4 91.0,240.4 91.5,240.4 92.0,240.4 92.5,240.4 93.0,240.4 93.5,240.4 94.0,240.4 94.5,240.4 95.0,240.4 95.5,240.4 96.0,240.4 96.5,240.4 97.0,240.3 97.5,240.2 98.0,240.0 98.5,239.6 99.0,238.9 99.5,238.0 100.0,237.1 100.5,236.3 101.0,236.0 101.5,236.3 102.0,237.1 102.5,238.0 103.0,238.9 103.5,239.6 104.0,240.0 104.5,240.2 105.0,240.3 105.5,240.4 106.0,240.4 106.5,240.4 107.0,240.4 107.5,240.4 108.0,240.4 108.5,240.4 109.0,240.4 109.5,240.4 110.0,240.4 110.5,240.4 111.0,240.3 111.5,240.2 112.0,240.0 112.5,239.6 113.0,238.9 113.5,238.0 114.0,237.1 114.5,236.3 115.0,236.0 115.5,236.3 116.0,237.1 116.5,238.0 117.0,238.9 117.5,239.6 118.0,240.0 118.5,240.2 119.0,240.3 119.5,240.4 120.0,240.4 120.5,240.4 121.0,240.4 121.5,240.4 122.0,240.4 122.5,240.4 123.0,240.4 123.5,240.4 124.0,240.4 124.5,240.4 125.0,240.4 125.5,240.4 126.0,240.4 126.5,240.4 127.0,240.4 127.5,240.3 128.0,240.2 128.5,239.9 129.0,239.3 129.5,238.1 130.0,236.1" fill="none" stroke="#34558f" stroke-width="1.05" stroke-linejoin="round"/><polyline points="130.0,240.3 130.5,240.4 131.0,240.4 131.5,240.4 132.0,240.4 132.5,240.4 133.0,240.4 133.5,240.4 134.0,240.4 134.5,240.4 135.0,240.4 135.5,240.4 136.0,240.4 136.5,240.4 137.0,240.4 137.5,240.4 138.0,240.4 138.5,240.4 139.0,240.4 139.5,240.4 140.0,240.4 140.5,240.4 141.0,240.4 141.5,240.4 142.0,240.4 142.5,240.4 143.0,240.4 143.5,240.4 144.0,240.4 144.5,240.4 145.0,240.4 145.5,240.4 146.0,240.3 146.5,240.2 147.0,239.8 147.5,239.2 148.0,238.2 148.5,236.9 149.0,235.5 149.5,234.4 150.0,234.0 150.5,234.4 151.0,235.5 151.5,236.9 152.0,238.2 152.5,239.2 153.0,239.8 153.5,240.2 154.0,240.3 154.5,240.4 155.0,240.4 155.5,240.4 156.0,240.4 156.5,240.3 157.0,240.2 157.5,239.9 158.0,239.2 158.5,237.9 159.0,235.7 159.5,232.6 160.0,228.6 160.5,224.4 161.0,220.8 161.5,218.9 162.0,219.1 162.5,221.4 163.0,225.2 163.5,229.4 164.0,233.2 164.5,236.1 165.0,237.8 165.5,238.4 166.0,238.1 166.5,237.3 167.0,236.2 167.5,235.3 168.0,235.0 168.5,235.4 169.0,236.3 169.5,237.5 170.0,238.6 170.5,239.4 171.0,239.9 171.5,240.2 172.0,240.3 172.5,240.4 173.0,240.4 173.5,240.4 174.0,240.4 174.5,240.4 175.0,240.4 175.5,240.4 176.0,240.4 176.5,240.4 177.0,240.4 177.5,240.3 178.0,240.2 178.5,239.9 179.0,239.2 179.5,238.0 180.0,236.0 180.5,233.1 181.0,229.6 181.5,226.1 182.0,223.5 182.5,222.5 183.0,223.5 183.5,226.1 184.0,229.6 184.5,233.1 185.0,236.0 185.5,238.0 186.0,239.2 186.5,239.9 187.0,240.2 187.5,240.3 188.0,240.3 188.5,240.2 189.0,240.0 189.5,239.6 190.0,238.9 190.5,238.0 191.0,237.1 191.5,236.3 192.0,236.0 192.5,236.3 193.0,237.1 193.5,238.0 194.0,238.9 194.5,239.6 195.0,240.0 195.5,240.2 196.0,240.3 196.5,240.4 197.0,240.4 197.5,240.4 198.0,240.4 198.5,240.4 199.0,240.4 199.5,240.4 200.0,240.3 200.5,240.2 201.0,239.8 201.5,239.2 202.0,238.2 202.5,236.9 203.0,235.5 203.5,234.4 204.0,234.0 204.5,234.4 205.0,235.5 205.5,236.9 206.0,238.2 206.5,239.2 207.0,239.8 207.5,240.2 208.0,240.3 208.5,240.4 209.0,240.4 209.5,240.4 210.0,240.4 210.5,240.4 211.0,240.4 211.5,240.4 212.0,240.4 212.5,240.4 213.0,240.3 213.5,240.2 214.0,239.8 214.5,239.1 215.0,237.9 215.5,236.0 216.0,233.7 216.5,231.2 217.0,229.4 217.5,228.7 218.0,229.4 218.5,231.2 219.0,233.7 219.5,236.0 220.0,237.9 220.5,239.1 221.0,239.8 221.5,240.2 222.0,240.3 222.5,240.4 223.0,240.4 223.5,240.4 224.0,240.3 224.5,240.2 225.0,240.0 225.5,239.6 226.0,238.9 226.5,238.0 227.0,237.1 227.5,236.3 228.0,236.0 228.5,236.3 229.0,237.1 229.5,238.0 230.0,238.9 230.5,239.6 231.0,240.0 231.5,240.2 232.0,240.3 232.5,240.4 233.0,240.4 233.5,240.4 234.0,240.3 234.5,240.2 235.0,239.8 235.5,239.0 236.0,237.7 236.5,235.6 237.0,232.8 237.5,229.8 238.0,227.1 238.5,225.6 239.0,225.8 239.5,227.6 240.0,230.4" fill="none" stroke="#6db24a" stroke-width="1.05" stroke-linejoin="round"/><polyline points="130.0,239.6 130.5,238.7 131.0,237.4 131.5,235.7 132.0,233.9 132.5,232.5 133.0,232.0 133.5,232.5 134.0,233.9 134.5,235.7 135.0,237.4 135.5,238.7 136.0,239.6 136.5,240.0 137.0,240.3 137.5,240.4 138.0,240.4 138.5,240.4 139.0,240.4 139.5,240.4 140.0,240.4 140.5,240.4 141.0,240.4 141.5,240.3 142.0,240.2 142.5,239.8 143.0,239.1 143.5,237.9 144.0,235.9 144.5,233.2 145.0,230.3 145.5,227.7 146.0,226.3 146.5,226.5 147.0,228.2 147.5,230.9 148.0,233.8 148.5,236.2 149.0,237.9 149.5,238.6 150.0,238.4 150.5,237.2 151.0,235.1 151.5,232.2 152.0,229.0 152.5,226.2 153.0,224.6 153.5,224.8 154.0,226.7 154.5,229.6 155.0,232.8 155.5,235.7 156.0,237.8 156.5,239.1 157.0,239.8 157.5,240.2 158.0,240.3 158.5,240.4 159.0,240.4 159.5,240.4 160.0,240.4 160.5,240.4 161.0,240.4 161.5,240.4 162.0,240.4 162.5,240.3 163.0,240.2 163.5,240.0 164.0,239.4 164.5,238.4 165.0,236.6 165.5,234.1 166.0,230.9 166.5,227.8 167.0,225.4 167.5,224.5 168.0,225.4 168.5,227.8 169.0,230.9 169.5,234.0 170.0,236.5 170.5,238.2 171.0,238.9 171.5,238.8 172.0,237.9 172.5,236.2 173.0,234.0 173.5,231.6 174.0,229.9 174.5,229.2 175.0,229.9 175.5,231.6 176.0,234.0 176.5,236.2 177.0,238.0 177.5,239.2 178.0,239.9 178.5,240.2 179.0,240.3 179.5,240.4 180.0,240.4 180.5,240.4 181.0,240.4 181.5,240.4 182.0,240.4 182.5,240.4 183.0,240.4 183.5,240.4 184.0,240.3 184.5,240.0 185.0,239.5 185.5,238.5 186.0,236.7 186.5,234.1 187.0,230.7 187.5,227.0 188.0,223.9 188.5,222.2 189.0,222.4 189.5,224.4 190.0,227.7 190.5,231.4 191.0,234.7 191.5,237.2 192.0,238.8 192.5,239.6 193.0,240.1 193.5,240.3 194.0,240.4 194.5,240.4 195.0,240.4 195.5,240.4 196.0,240.4 196.5,240.4 197.0,240.4 197.5,240.4 198.0,240.4 198.5,240.3 199.0,240.2 199.5,239.9 200.0,239.3 200.5,238.4 201.0,237.2 201.5,235.9 202.0,234.9 202.5,234.5 203.0,234.9 203.5,235.9 204.0,237.2 204.5,238.4 205.0,239.2 205.5,239.6 206.0,239.6 206.5,239.0 207.0,237.7 207.5,235.8 208.0,233.3 208.5,230.8 209.0,228.9 209.5,228.2 210.0,228.9 210.5,230.8 211.0,233.3 211.5,235.8 212.0,237.7 212.5,239.0 213.0,239.8 213.5,240.2 214.0,240.3 214.5,240.4 215.0,240.4 215.5,240.4 216.0,240.4 216.5,240.4 217.0,240.4 217.5,240.4 218.0,240.4 218.5,240.3 219.0,240.2 219.5,240.0 220.0,239.4 220.5,238.4 221.0,236.8 221.5,234.6 222.0,232.2 222.5,230.0 223.0,228.8 223.5,229.0 224.0,230.4 224.5,232.7 225.0,235.1 225.5,237.1 226.0,238.5 226.5,239.0 227.0,238.7 227.5,237.5 228.0,235.3 228.5,232.0 229.0,227.8 229.5,223.4 230.0,219.7 230.5,217.7 231.0,217.9 231.5,220.3 232.0,224.3 232.5,228.7 233.0,232.8 233.5,235.9 234.0,238.0 234.5,239.3 235.0,239.9 235.5,240.2 236.0,240.2 236.5,240.0 237.0,239.6 237.5,238.7 238.0,237.4 238.5,235.7 239.0,233.9 239.5,232.5 240.0,232.0" fill="none" stroke="#5e3370" stroke-width="1.05" stroke-linejoin="round"/><polyline points="130.0,236.1 130.5,233.3 131.0,229.9 131.5,226.5 132.0,224.0 132.5,223.0 133.0,223.9 133.5,226.5 134.0,229.8 134.5,233.1 135.0,235.6 135.5,236.9 136.0,236.9 136.5,235.5 137.0,232.9 137.5,229.5 138.0,226.1 138.5,223.5 139.0,222.5 139.5,223.4 140.0,226.0 140.5,229.3 141.0,232.5 141.5,234.8 142.0,235.8 142.5,235.7 143.0,235.0 143.5,234.2 144.0,233.9 144.5,234.4 145.0,235.5 145.5,236.9 146.0,238.2 146.5,239.2 147.0,239.8 147.5,240.2 148.0,240.3 148.5,240.4 149.0,240.4 149.5,240.4 150.0,240.4 150.5,240.4 151.0,240.4 151.5,240.4 152.0,240.4 152.5,240.4 153.0,240.4 153.5,240.4 154.0,240.3 154.5,240.2 155.0,240.0 155.5,239.6 156.0,238.9 156.5,238.0 157.0,237.1 157.5,236.3 158.0,236.0 158.5,236.3 159.0,237.1 159.5,238.0 160.0,238.9 160.5,239.6 161.0,240.0 161.5,240.2 162.0,240.3 162.5,240.4 163.0,240.4 163.5,240.4 164.0,240.4 164.5,240.4 165.0,240.4 165.5,240.4 166.0,240.3 166.5,240.2 167.0,239.8 167.5,239.2 168.0,238.2 168.5,236.9 169.0,235.5 169.5,234.4 170.0,234.0 170.5,234.4 171.0,235.5 171.5,236.9 172.0,238.2 172.5,239.2 173.0,239.8 173.5,240.1 174.0,240.3 174.5,240.2 175.0,240.0 175.5,239.6 176.0,238.9 176.5,238.0 177.0,237.1 177.5,236.3 178.0,236.0 178.5,236.3 179.0,237.1 179.5,238.0 180.0,238.9 180.5,239.6 181.0,240.0 181.5,240.2 182.0,240.3 182.5,240.4 183.0,240.4 183.5,240.4 184.0,240.4 184.5,240.4 185.0,240.4 185.5,240.4 186.0,240.4 186.5,240.4 187.0,240.4 187.5,240.4 188.0,240.4 188.5,240.4 189.0,240.3 189.5,240.1 190.0,239.7 190.5,239.0 191.0,237.8 191.5,236.3 192.0,234.7 192.5,233.5 193.0,233.0 193.5,233.5 194.0,234.7 194.5,236.3 195.0,237.8 195.5,239.0 196.0,239.7 196.5,240.1 197.0,240.3 197.5,240.4 198.0,240.4 198.5,240.4 199.0,240.4 199.5,240.4 200.0,240.4 200.5,240.4 201.0,240.3 201.5,240.2 202.0,240.0 202.5,239.6 203.0,238.9 203.5,238.0 204.0,237.1 204.5,236.3 205.0,236.0 205.5,236.3 206.0,237.1 206.5,238.0 207.0,238.9 207.5,239.6 208.0,240.0 208.5,240.2 209.0,240.3 209.5,240.4 210.0,240.4 210.5,240.4 211.0,240.4 211.5,240.4 212.0,240.4 212.5,240.4 213.0,240.4 213.5,240.4 214.0,240.4 214.5,240.4 215.0,240.4 215.5,240.4 216.0,240.4 216.5,240.4 217.0,240.4 217.5,240.4 218.0,240.3 218.5,240.2 219.0,239.8 219.5,239.2 220.0,238.2 220.5,236.9 221.0,235.5 221.5,234.4 222.0,234.0 222.5,234.4 223.0,235.5 223.5,236.9 224.0,238.2 224.5,239.2 225.0,239.8 225.5,240.2 226.0,240.3 226.5,240.4 227.0,240.4 227.5,240.4 228.0,240.4 228.5,240.4 229.0,240.4 229.5,240.4 230.0,240.4 230.5,240.4 231.0,240.4 231.5,240.4 232.0,240.3 232.5,240.2 233.0,240.0 233.5,239.6 234.0,238.9 234.5,238.0 235.0,237.1 235.5,236.3 236.0,236.0 236.5,236.3 237.0,237.1 237.5,238.0 238.0,238.9 238.5,239.6 239.0,240.0 239.5,240.2 240.0,240.3" fill="none" stroke="#34558f" stroke-width="1.05" stroke-linejoin="round"/><polyline points="130.0,240.4 130.5,240.4 131.0,240.4 131.5,240.4 132.0,240.4 132.5,240.4 133.0,240.3 133.5,240.2 134.0,240.0 134.5,239.6 135.0,238.9 135.5,238.0 136.0,237.1 136.5,236.3 137.0,236.0 137.5,236.3 138.0,237.1 138.5,238.0 139.0,238.9 139.5,239.6 140.0,240.0 140.5,240.2 141.0,240.3 141.5,240.4 142.0,240.4 142.5,240.4 143.0,240.4 143.5,240.4 144.0,240.4 144.5,240.4 145.0,240.4 145.5,240.4 146.0,240.4 146.5,240.4 147.0,240.4 147.5,240.4 148.0,240.4 148.5,240.4 149.0,240.3 149.5,240.2 150.0,240.0 150.5,239.6 151.0,238.9 151.5,238.0 152.0,237.1 152.5,236.3 153.0,236.0 153.5,236.3 154.0,237.1 154.5,238.0 155.0,238.9 155.5,239.6 156.0,240.0 156.5,240.1 157.0,240.0 157.5,239.6 158.0,238.9 158.5,238.0 159.0,237.1 159.5,236.3 160.0,236.0 160.5,236.3 161.0,237.1 161.5,238.0 162.0,238.9 162.5,239.6 163.0,240.0 163.5,240.2 164.0,240.3 164.5,240.4 165.0,240.4 165.5,240.4 166.0,240.4 166.5,240.4 167.0,240.4 167.5,240.4 168.0,240.4 168.5,240.4 169.0,240.4 169.5,240.4 170.0,240.4 170.5,240.4 171.0,240.4 171.5,240.4 172.0,240.4 172.5,240.4 173.0,240.4 173.5,240.4 174.0,240.4 174.5,240.4 175.0,240.4 175.5,240.4 176.0,240.4 176.5,240.4 177.0,240.3 177.5,240.2 178.0,240.0 178.5,239.6 179.0,238.9 179.5,238.0 180.0,237.1 180.5,236.3 181.0,236.0 181.5,236.3 182.0,237.1 182.5,238.0 183.0,238.9 183.5,239.6 184.0,240.0 184.5,240.2 185.0,240.3 185.5,240.4 186.0,240.4 186.5,240.4 187.0,240.4 187.5,240.4 188.0,240.4 188.5,240.4 189.0,240.4 189.5,240.4 190.0,240.4 190.5,240.4 191.0,240.4 191.5,240.3 192.0,240.2 192.5,240.0 193.0,239.4 193.5,238.3 194.0,236.6 194.5,234.4 195.0,231.8 195.5,229.6 196.0,228.3 196.5,228.5 197.0,230.0 197.5,232.3 198.0,234.8 198.5,237.0 199.0,238.6 199.5,239.5 200.0,240.0 200.5,240.3 201.0,240.4 201.5,240.4 202.0,240.4 202.5,240.4 203.0,240.4 203.5,240.4 204.0,240.4 204.5,240.4 205.0,240.4 205.5,240.4 206.0,240.3 206.5,240.2 207.0,240.0 207.5,239.6 208.0,238.9 208.5,238.0 209.0,237.1 209.5,236.3 210.0,236.0 210.5,236.3 211.0,237.1 211.5,238.0 212.0,238.9 212.5,239.6 213.0,240.0 213.5,240.2 214.0,240.3 214.5,240.4 215.0,240.4 215.5,240.4 216.0,240.3 216.5,240.2 217.0,240.0 217.5,239.6 218.0,238.9 218.5,238.0 219.0,237.1 219.5,236.3 220.0,236.0 220.5,236.3 221.0,237.1 221.5,238.0 222.0,238.9 222.5,239.6 223.0,240.0 223.5,240.2 224.0,240.3 224.5,240.4 225.0,240.4 225.5,240.4 226.0,240.4 226.5,240.4 227.0,240.4 227.5,240.4 228.0,240.4 228.5,240.4 229.0,240.4 229.5,240.4 230.0,240.4 230.5,240.4 231.0,240.4 231.5,240.4 232.0,240.4 232.5,240.4 233.0,240.4 233.5,240.4 234.0,240.4 234.5,240.4 235.0,240.4 235.5,240.4 236.0,240.4 236.5,240.4 237.0,240.4 237.5,240.4 238.0,240.4 238.5,240.4 239.0,240.4 239.5,240.4 240.0,240.4" fill="none" stroke="#b3123f" stroke-width="1.05" stroke-linejoin="round"/><line x1="98.4" y1="55.1" x2="98.4" y2="87.2" stroke="#111" stroke-width="1.3"/><path d="M95.7,84.7 L98.4,85.7 L101.10000000000001,84.7 L98.4,90.2 Z" fill="#111"/><line x1="94.5" y1="175" x2="94.5" y2="207" stroke="#111" stroke-width="1.3"/><path d="M91.8,204.5 L94.5,205.5 L97.2,204.5 L94.5,210 Z" fill="#111"/><text x="286.3" y="17.4" font-size="13.2" font-weight="bold" textLength="8.2" lengthAdjust="spacingAndGlyphs" fill="#000" stroke="#000" stroke-width="0.35" >B</text><line x1="319.8" y1="65.8" x2="319.8" y2="184.35" stroke="#1a1a1a" stroke-width="1.2"/><line x1="316.40000000000003" y1="69.2" x2="319.8" y2="69.2" stroke="#1a1a1a" stroke-width="1.1"/><text x="312.8" y="72.12400000000001" font-size="8.6" text-anchor="end" textLength="11.3" lengthAdjust="spacingAndGlyphs" fill="#222" stroke="#222" stroke-width="0.05" >1.5</text><line x1="316.40000000000003" y1="107.6" x2="319.8" y2="107.6" stroke="#1a1a1a" stroke-width="1.1"/><text x="312.8" y="110.524" font-size="8.6" text-anchor="end" textLength="11.3" lengthAdjust="spacingAndGlyphs" fill="#222" stroke="#222" stroke-width="0.05" >1.0</text><line x1="316.40000000000003" y1="145.4" x2="319.8" y2="145.4" stroke="#1a1a1a" stroke-width="1.1"/><text x="312.8" y="148.324" font-size="8.6" text-anchor="end" textLength="11.3" lengthAdjust="spacingAndGlyphs" fill="#222" stroke="#222" stroke-width="0.05" >0.5</text><line x1="316.40000000000003" y1="183.75" x2="319.8" y2="183.75" stroke="#1a1a1a" stroke-width="1.1"/><text x="312.8" y="186.674" font-size="8.6" text-anchor="end" textLength="11.3" lengthAdjust="spacingAndGlyphs" fill="#222" stroke="#222" stroke-width="0.05" >0.0</text><line x1="319.2" y1="183.75" x2="492.5" y2="183.75" stroke="#1a1a1a" stroke-width="1.2"/><line x1="362.7" y1="183.75" x2="362.7" y2="187" stroke="#1a1a1a" stroke-width="1.1"/><line x1="449.3" y1="183.75" x2="449.3" y2="187" stroke="#1a1a1a" stroke-width="1.1"/><rect x="342.1" y="108.2" width="41.2" height="75.2" fill="#a3002b"/><rect x="428.7" y="150.1" width="40.9" height="33.3" fill="#2e4c7e"/><line x1="449.2" y1="143.5" x2="449.2" y2="150.1" stroke="#1a1a1a" stroke-width="1.1"/><line x1="438" y1="143.5" x2="459.8" y2="143.5" stroke="#1a1a1a" stroke-width="1.1"/><text x="449.2" y="142.6" font-size="8.4" text-anchor="middle" fill="#222" stroke="#222" stroke-width="0.1" >*</text><text x="295.3" y="124.8" font-size="10.8" text-anchor="middle" textLength="115.5" lengthAdjust="spacingAndGlyphs" fill="#222" stroke="#222" stroke-width="0.05" transform="rotate(-90 295.3 124.8)">Relative SNORD42A expression</text><text x="362.7" y="198.6" font-size="9" text-anchor="middle" textLength="62" lengthAdjust="spacingAndGlyphs" fill="#222" stroke="#222" stroke-width="0.14" >scramble gRNA</text><text x="448.5" y="198.6" font-size="9" text-anchor="middle" textLength="73.6" lengthAdjust="spacingAndGlyphs" fill="#222" stroke="#222" stroke-width="0.14" >SNORD42A gRNA</text><text x="8.8" y="268.1" font-size="13.6" font-weight="bold" textLength="8.4" lengthAdjust="spacingAndGlyphs" fill="#000" stroke="#000" stroke-width="0.35" >C</text><line x1="59.1" y1="289.9" x2="59.1" y2="409.5" stroke="#1a1a1a" stroke-width="1.2"/><line x1="56.1" y1="293.2" x2="59.1" y2="293.2" stroke="#1a1a1a" stroke-width="1.1"/><text x="49.4" y="295.9" font-size="9.5" text-anchor="end" textLength="24" lengthAdjust="spacingAndGlyphs" fill="#222" stroke="#222" stroke-width="0.14" >10x10</text><text x="49.0" y="291.7" font-size="6.2" fill="#222" stroke="#222" stroke-width="0.1" >6</text><line x1="56.1" y1="315.7" x2="59.1" y2="315.7" stroke="#1a1a1a" stroke-width="1.1"/><text x="49.4" y="318.4" font-size="9.5" text-anchor="end" textLength="19.9" lengthAdjust="spacingAndGlyphs" fill="#222" stroke="#222" stroke-width="0.14" >8x10</text><text x="49.0" y="314.2" font-size="6.2" fill="#222" stroke="#222" stroke-width="0.1" >6</text><line x1="56.1" y1="338.2" x2="59.1" y2="338.2" stroke="#1a1a1a" stroke-width="1.1"/><text x="49.4" y="340.9" font-size="9.5" text-anchor="end" textLength="19.9" lengthAdjust="spacingAndGlyphs" fill="#222" stroke="#222" stroke-width="0.14" >6x10</text><text x="49.0" y="336.7" font-size="6.2" fill="#222" stroke="#222" stroke-width="0.1" >6</text><line x1="56.1" y1="361.2" x2="59.1" y2="361.2" stroke="#1a1a1a" stroke-width="1.1"/><text x="49.4" y="363.9" font-size="9.5" text-anchor="end" textLength="19.9" lengthAdjust="spacingAndGlyphs" fill="#222" stroke="#222" stroke-width="0.14" >4x10</text><text x="49.0" y="359.7" font-size="6.2" fill="#222" stroke="#222" stroke-width="0.1" >6</text><line x1="56.1" y1="383.8" x2="59.1" y2="383.8" stroke="#1a1a1a" stroke-width="1.1"/><text x="49.4" y="386.5" font-size="9.5" text-anchor="end" textLength="19.9" lengthAdjust="spacingAndGlyphs" fill="#222" stroke="#222" stroke-width="0.14" >2x10</text><text x="49.0" y="382.3" font-size="6.2" fill="#222" stroke="#222" stroke-width="0.1" >6</text><line x1="56.1" y1="406.25" x2="59.1" y2="406.25" stroke="#1a1a1a" stroke-width="1.1"/><text x="52.6" y="409.15" font-size="9.5" text-anchor="end" fill="#222" stroke="#222" stroke-width="0.14" >0</text><line x1="58.5" y1="406.25" x2="233.1" y2="406.25" stroke="#1a1a1a" stroke-width="1.2"/><line x1="101.1" y1="406.25" x2="101.1" y2="409" stroke="#1a1a1a" stroke-width="1.1"/><text x="101.1" y="420.5" font-size="9" text-anchor="middle" fill="#222" stroke="#222" stroke-width="0.14" >4dpi</text><line x1="144.1" y1="406.25" x2="144.1" y2="409" stroke="#1a1a1a" stroke-width="1.1"/><text x="144.1" y="420.5" font-size="9" text-anchor="middle" fill="#222" stroke="#222" stroke-width="0.14" >6dpi</text><line x1="186.9" y1="406.25" x2="186.9" y2="409" stroke="#1a1a1a" stroke-width="1.1"/><text x="186.9" y="420.5" font-size="9" text-anchor="middle" fill="#222" stroke="#222" stroke-width="0.14" >8dpi</text><line x1="229.9" y1="406.25" x2="229.9" y2="409" stroke="#1a1a1a" stroke-width="1.1"/><text x="229.9" y="420.5" font-size="9" text-anchor="middle" fill="#222" stroke="#222" stroke-width="0.14" >10dpi</text><text x="145.6" y="283.75" font-size="10" text-anchor="middle" fill="#222" stroke="#222" stroke-width="0.14" >Kasumi-1</text><polyline points="101.1,405.5 144.1,402 186.9,384.5 229.9,313.2" fill="none" stroke="#b8163f" stroke-width="1.2"/><polyline points="101.1,405.8 144.1,403.5 186.9,390.5 229.9,335" fill="none" stroke="#2e4c8a" stroke-width="1.2"/><polyline points="101.1,406 144.1,404.5 186.9,395.5 229.9,350" fill="none" stroke="#6aaf3c" stroke-width="1.2"/><path d="M229.9,305 V321.3 M227.3,305 H232.5 M227.3,321.3 H232.5" stroke="#1a1a1a" stroke-width="1.1" fill="none"/><path d="M229.9,328.3 V341.8 M227.3,328.3 H232.5 M227.3,341.8 H232.5" stroke="#1a1a1a" stroke-width="1.1" fill="none"/><path d="M229.9,343.8 V355 M227.3,343.8 H232.5 M227.3,355 H232.5" stroke="#1a1a1a" stroke-width="1.1" fill="none"/><circle cx="101.1" cy="405.5" r="2.6" fill="#b8163f"/><circle cx="144.1" cy="402" r="2.6" fill="#b8163f"/><circle cx="186.9" cy="384.5" r="2.6" fill="#b8163f"/><circle cx="229.9" cy="313.2" r="2.6" fill="#b8163f"/><rect x="98.6" y="403.3" width="5.0" height="5.0" fill="#2e4c8a"/><rect x="141.6" y="401.0" width="5.0" height="5.0" fill="#2e4c8a"/><rect x="184.4" y="388.0" width="5.0" height="5.0" fill="#2e4c8a"/><rect x="227.4" y="332.5" width="5.0" height="5.0" fill="#2e4c8a"/><path d="M101.1,403.2 L103.89999999999999,408.1 L98.3,408.1 Z" fill="#6aaf3c"/><path d="M144.1,401.7 L146.9,406.6 L141.29999999999998,406.6 Z" fill="#6aaf3c"/><path d="M186.9,392.7 L189.70000000000002,397.6 L184.1,397.6 Z" fill="#6aaf3c"/><path d="M229.9,347.2 L232.70000000000002,352.1 L227.1,352.1 Z" fill="#6aaf3c"/><text x="233.8" y="338.7" font-size="8.4" fill="#222" stroke="#222" stroke-width="0.1" >*</text><text x="233.8" y="353.7" font-size="8.4" fill="#222" stroke="#222" stroke-width="0.1" >**</text><line x1="65.3" y1="297.9" x2="80.1" y2="297.9" stroke="#b8163f" stroke-width="1.2"/><circle cx="72.3" cy="297.9" r="2.8600000000000003" fill="#b8163f"/><text x="82.19999999999999" y="300.79999999999995" font-size="8.3" textLength="36" lengthAdjust="spacingAndGlyphs" fill="#222" stroke="#222" stroke-width="0.14" >scr_gRNA</text><line x1="65.3" y1="309.84999999999997" x2="80.1" y2="309.84999999999997" stroke="#2e4c8a" stroke-width="1.2"/><rect x="69.55" y="307.09999999999997" width="5.5" height="5.5" fill="#2e4c8a"/><text x="82.19999999999999" y="312.74999999999994" font-size="8.3" textLength="75.5" lengthAdjust="spacingAndGlyphs" fill="#222" stroke="#222" stroke-width="0.14" >SNORD42A_gRNA2</text><line x1="65.3" y1="321.79999999999995" x2="80.1" y2="321.79999999999995" stroke="#6aaf3c" stroke-width="1.2"/><path d="M72.3,318.71999999999997 L75.38,324.10999999999996 L69.22,324.10999999999996 Z" fill="#6aaf3c"/><text x="82.19999999999999" y="324.69999999999993" font-size="8.3" textLength="75.5" lengthAdjust="spacingAndGlyphs" fill="#222" stroke="#222" stroke-width="0.14" >SNORD42A_gRNA3</text><line x1="319.5" y1="289.9" x2="319.5" y2="409.5" stroke="#1a1a1a" stroke-width="1.2"/><line x1="316.5" y1="293.2" x2="319.5" y2="293.2" stroke="#1a1a1a" stroke-width="1.1"/><text x="309.8" y="295.9" font-size="9.5" text-anchor="end" textLength="24" lengthAdjust="spacingAndGlyphs" fill="#222" stroke="#222" stroke-width="0.14" >10x10</text><text x="309.4" y="291.7" font-size="6.2" fill="#222" stroke="#222" stroke-width="0.1" >6</text><line x1="316.5" y1="315.7" x2="319.5" y2="315.7" stroke="#1a1a1a" stroke-width="1.1"/><text x="309.8" y="318.4" font-size="9.5" text-anchor="end" textLength="19.9" lengthAdjust="spacingAndGlyphs" fill="#222" stroke="#222" stroke-width="0.14" >8x10</text><text x="309.4" y="314.2" font-size="6.2" fill="#222" stroke="#222" stroke-width="0.1" >6</text><line x1="316.5" y1="338.2" x2="319.5" y2="338.2" stroke="#1a1a1a" stroke-width="1.1"/><text x="309.8" y="340.9" font-size="9.5" text-anchor="end" textLength="19.9" lengthAdjust="spacingAndGlyphs" fill="#222" stroke="#222" stroke-width="0.14" >6x10</text><text x="309.4" y="336.7" font-size="6.2" fill="#222" stroke="#222" stroke-width="0.1" >6</text><line x1="316.5" y1="361.2" x2="319.5" y2="361.2" stroke="#1a1a1a" stroke-width="1.1"/><text x="309.8" y="363.9" font-size="9.5" text-anchor="end" textLength="19.9" lengthAdjust="spacingAndGlyphs" fill="#222" stroke="#222" stroke-width="0.14" >4x10</text><text x="309.4" y="359.7" font-size="6.2" fill="#222" stroke="#222" stroke-width="0.1" >6</text><line x1="316.5" y1="383.8" x2="319.5" y2="383.8" stroke="#1a1a1a" stroke-width="1.1"/><text x="309.8" y="386.5" font-size="9.5" text-anchor="end" textLength="19.9" lengthAdjust="spacingAndGlyphs" fill="#222" stroke="#222" stroke-width="0.14" >2x10</text><text x="309.4" y="382.3" font-size="6.2" fill="#222" stroke="#222" stroke-width="0.1" >6</text><line x1="316.5" y1="406.25" x2="319.5" y2="406.25" stroke="#1a1a1a" stroke-width="1.1"/><text x="313.0" y="409.15" font-size="9.5" text-anchor="end" fill="#222" stroke="#222" stroke-width="0.14" >0</text><line x1="318.9" y1="406.25" x2="493.5" y2="406.25" stroke="#1a1a1a" stroke-width="1.2"/><line x1="361.5" y1="406.25" x2="361.5" y2="409" stroke="#1a1a1a" stroke-width="1.1"/><text x="361.5" y="420.5" font-size="9" text-anchor="middle" fill="#222" stroke="#222" stroke-width="0.14" >4dpi</text><line x1="404.5" y1="406.25" x2="404.5" y2="409" stroke="#1a1a1a" stroke-width="1.1"/><text x="404.5" y="420.5" font-size="9" text-anchor="middle" fill="#222" stroke="#222" stroke-width="0.14" >6dpi</text><line x1="447.3" y1="406.25" x2="447.3" y2="409" stroke="#1a1a1a" stroke-width="1.1"/><text x="447.3" y="420.5" font-size="9" text-anchor="middle" fill="#222" stroke="#222" stroke-width="0.14" >8dpi</text><line x1="490.3" y1="406.25" x2="490.3" y2="409" stroke="#1a1a1a" stroke-width="1.1"/><text x="490.3" y="420.5" font-size="9" text-anchor="middle" fill="#222" stroke="#222" stroke-width="0.14" >10dpi</text><text x="406.5" y="283.75" font-size="10" text-anchor="middle" fill="#222" stroke="#222" stroke-width="0.14" >MV4-11</text><polyline points="361.5,405.5 404.5,402.5 447.3,388.7 490.3,316.2" fill="none" stroke="#b8163f" stroke-width="1.2"/><polyline points="361.5,406 404.5,405 447.3,395.5 490.3,358.7" fill="none" stroke="#2e4c8a" stroke-width="1.2"/><polyline points="361.5,405.8 404.5,404 447.3,392.5 490.3,340" fill="none" stroke="#6aaf3c" stroke-width="1.2"/><path d="M490.3,311.2 V321.2 M487.7,311.2 H492.90000000000003 M487.7,321.2 H492.90000000000003" stroke="#1a1a1a" stroke-width="1.1" fill="none"/><path d="M490.3,331.2 V348 M487.7,331.2 H492.90000000000003 M487.7,348 H492.90000000000003" stroke="#1a1a1a" stroke-width="1.1" fill="none"/><circle cx="361.5" cy="405.5" r="2.6" fill="#b8163f"/><circle cx="404.5" cy="402.5" r="2.6" fill="#b8163f"/><circle cx="447.3" cy="388.7" r="2.6" fill="#b8163f"/><circle cx="490.3" cy="316.2" r="2.6" fill="#b8163f"/><rect x="359.0" y="403.5" width="5.0" height="5.0" fill="#2e4c8a"/><rect x="402.0" y="402.5" width="5.0" height="5.0" fill="#2e4c8a"/><rect x="444.8" y="393.0" width="5.0" height="5.0" fill="#2e4c8a"/><rect x="487.8" y="356.2" width="5.0" height="5.0" fill="#2e4c8a"/><path d="M361.5,403.0 L364.3,407.90000000000003 L358.7,407.90000000000003 Z" fill="#6aaf3c"/><path d="M404.5,401.2 L407.3,406.1 L401.7,406.1 Z" fill="#6aaf3c"/><path d="M447.3,389.7 L450.1,394.6 L444.5,394.6 Z" fill="#6aaf3c"/><path d="M490.3,337.2 L493.1,342.1 L487.5,342.1 Z" fill="#6aaf3c"/><text x="494.5" y="343.7" font-size="8.4" fill="#222" stroke="#222" stroke-width="0.1" >*</text><text x="494.5" y="362.2" font-size="8.4" fill="#222" stroke="#222" stroke-width="0.1" >**</text><line x1="332.5" y1="297.9" x2="347.3" y2="297.9" stroke="#b8163f" stroke-width="1.2"/><circle cx="339.5" cy="297.9" r="2.8600000000000003" fill="#b8163f"/><text x="349.4" y="300.79999999999995" font-size="8.3" textLength="36" lengthAdjust="spacingAndGlyphs" fill="#222" stroke="#222" stroke-width="0.14" >scr_gRNA</text><line x1="332.5" y1="309.84999999999997" x2="347.3" y2="309.84999999999997" stroke="#2e4c8a" stroke-width="1.2"/><rect x="336.75" y="307.09999999999997" width="5.5" height="5.5" fill="#2e4c8a"/><text x="349.4" y="312.74999999999994" font-size="8.3" textLength="75.5" lengthAdjust="spacingAndGlyphs" fill="#222" stroke="#222" stroke-width="0.14" >SNORD42A_gRNA2</text><line x1="332.5" y1="321.79999999999995" x2="347.3" y2="321.79999999999995" stroke="#6aaf3c" stroke-width="1.2"/><path d="M339.5,318.71999999999997 L342.58,324.10999999999996 L336.42,324.10999999999996 Z" fill="#6aaf3c"/><text x="349.4" y="324.69999999999993" font-size="8.3" textLength="75.5" lengthAdjust="spacingAndGlyphs" fill="#222" stroke="#222" stroke-width="0.14" >SNORD42A_gRNA3</text><text x="8.0" y="450.3" font-size="13.2" font-weight="bold" textLength="8.9" lengthAdjust="spacingAndGlyphs" fill="#000" stroke="#000" stroke-width="0.3" >D</text><line x1="53.3" y1="459.5" x2="53.3" y2="580" stroke="#1a1a1a" stroke-width="1.2"/><line x1="50.0" y1="462" x2="53.3" y2="462" stroke="#1a1a1a" stroke-width="1.1"/><text x="47.099999999999994" y="464.9" font-size="8.4" text-anchor="end" textLength="13.9" lengthAdjust="spacingAndGlyphs" fill="#222" stroke="#222" stroke-width="0.14" >150</text><line x1="50.0" y1="501.25" x2="53.3" y2="501.25" stroke="#1a1a1a" stroke-width="1.1"/><text x="47.099999999999994" y="504.15" font-size="8.4" text-anchor="end" textLength="13.9" lengthAdjust="spacingAndGlyphs" fill="#222" stroke="#222" stroke-width="0.14" >100</text><line x1="50.0" y1="540.6" x2="53.3" y2="540.6" stroke="#1a1a1a" stroke-width="1.1"/><text x="47.099999999999994" y="543.5" font-size="8.4" text-anchor="end" textLength="9.3" lengthAdjust="spacingAndGlyphs" fill="#222" stroke="#222" stroke-width="0.14" >50</text><line x1="50.0" y1="579.5" x2="53.3" y2="579.5" stroke="#1a1a1a" stroke-width="1.1"/><text x="47.099999999999994" y="582.4" font-size="8.4" text-anchor="end" textLength="4.6" lengthAdjust="spacingAndGlyphs" fill="#222" stroke="#222" stroke-width="0.14" >0</text><line x1="52.699999999999996" y1="579.3" x2="228.3" y2="579.3" stroke="#1a1a1a" stroke-width="1.2"/><text x="26.2" y="520.2" font-size="9.8" text-anchor="middle" textLength="52.5" lengthAdjust="spacingAndGlyphs" fill="#222" stroke="#222" stroke-width="0.05" transform="rotate(-90 26.2 520.2)">Kasumi-1 CFU</text><rect x="72.4" y="500" width="33.39999999999999" height="79.29999999999995" fill="#a3002b"/><path d="M89.1,500 V490 M80.5,490 H97.69999999999999" stroke="#1a1a1a" stroke-width="1.1" fill="none"/><line x1="89.1" y1="579.3" x2="89.1" y2="582.5" stroke="#1a1a1a" stroke-width="1.1"/><text x="89.1" y="594.1" font-size="9.2" text-anchor="middle" textLength="35.8" lengthAdjust="spacingAndGlyphs" fill="#222" stroke="#222" stroke-width="0.14" >scramble</text><text x="89.1" y="604.8" font-size="9.2" text-anchor="middle" textLength="23.7" lengthAdjust="spacingAndGlyphs" fill="#222" stroke="#222" stroke-width="0.14" >gRNA</text><rect x="125.4" y="539.2" width="33.29999999999998" height="40.09999999999991" fill="#2e4c7e"/><path d="M142.05,539.2 V536 M133.45000000000002,536 H150.65" stroke="#1a1a1a" stroke-width="1.1" fill="none"/><line x1="142.05" y1="579.3" x2="142.05" y2="582.5" stroke="#1a1a1a" stroke-width="1.1"/><text x="142.05" y="536.2" font-size="8.4" text-anchor="middle" fill="#222" stroke="#222" stroke-width="0.1" >*</text><text x="142.05" y="594.1" font-size="9.2" text-anchor="middle" textLength="47" lengthAdjust="spacingAndGlyphs" fill="#222" stroke="#222" stroke-width="0.14" >SNORD42A</text><text x="142.05" y="604.8" font-size="9.2" text-anchor="middle" textLength="28.2" lengthAdjust="spacingAndGlyphs" fill="#222" stroke="#222" stroke-width="0.14" >gRNA2</text><rect x="178.3" y="533.3" width="33.69999999999999" height="46.0" fill="#6ca544"/><path d="M195.15,533.3 V523.5 M186.55,523.5 H203.75" stroke="#1a1a1a" stroke-width="1.1" fill="none"/><line x1="195.15" y1="579.3" x2="195.15" y2="582.5" stroke="#1a1a1a" stroke-width="1.1"/><text x="195.15" y="523.7" font-size="8.4" text-anchor="middle" fill="#222" stroke="#222" stroke-width="0.1" >*</text><text x="195.15" y="594.1" font-size="9.2" text-anchor="middle" textLength="47" lengthAdjust="spacingAndGlyphs" fill="#222" stroke="#222" stroke-width="0.14" >SNORD42A</text><text x="195.15" y="604.8" font-size="9.2" text-anchor="middle" textLength="28.2" lengthAdjust="spacingAndGlyphs" fill="#222" stroke="#222" stroke-width="0.14" >gRNA3</text><line x1="320" y1="459.5" x2="320" y2="580" stroke="#1a1a1a" stroke-width="1.2"/><line x1="316.7" y1="462" x2="320" y2="462" stroke="#1a1a1a" stroke-width="1.1"/><text x="313.8" y="464.9" font-size="8.4" text-anchor="end" textLength="13.9" lengthAdjust="spacingAndGlyphs" fill="#222" stroke="#222" stroke-width="0.14" >150</text><line x1="316.7" y1="501.25" x2="320" y2="501.25" stroke="#1a1a1a" stroke-width="1.1"/><text x="313.8" y="504.15" font-size="8.4" text-anchor="end" textLength="13.9" lengthAdjust="spacingAndGlyphs" fill="#222" stroke="#222" stroke-width="0.14" >100</text><line x1="316.7" y1="540.6" x2="320" y2="540.6" stroke="#1a1a1a" stroke-width="1.1"/><text x="313.8" y="543.5" font-size="8.4" text-anchor="end" textLength="9.3" lengthAdjust="spacingAndGlyphs" fill="#222" stroke="#222" stroke-width="0.14" >50</text><line x1="316.7" y1="579.5" x2="320" y2="579.5" stroke="#1a1a1a" stroke-width="1.1"/><text x="313.8" y="582.4" font-size="8.4" text-anchor="end" textLength="4.6" lengthAdjust="spacingAndGlyphs" fill="#222" stroke="#222" stroke-width="0.14" >0</text><line x1="319.4" y1="579.3" x2="495" y2="579.3" stroke="#1a1a1a" stroke-width="1.2"/><text x="292.5" y="519.0" font-size="10.6" text-anchor="middle" textLength="46.0" lengthAdjust="spacingAndGlyphs" fill="#222" stroke="#222" stroke-width="0.05" transform="rotate(-90 292.5 519.0)">MV4-11 CFU</text><rect x="338.2" y="512.1" width="33.60000000000002" height="67.19999999999993" fill="#a3002b"/><path d="M355.0,512.1 V502.6 M346.4,502.6 H363.6" stroke="#1a1a1a" stroke-width="1.1" fill="none"/><line x1="355.0" y1="579.3" x2="355.0" y2="582.5" stroke="#1a1a1a" stroke-width="1.1"/><text x="355.0" y="594.1" font-size="9.2" text-anchor="middle" textLength="35.8" lengthAdjust="spacingAndGlyphs" fill="#222" stroke="#222" stroke-width="0.14" >scramble</text><text x="355.0" y="604.8" font-size="9.2" text-anchor="middle" textLength="23.7" lengthAdjust="spacingAndGlyphs" fill="#222" stroke="#222" stroke-width="0.14" >gRNA</text><rect x="391.5" y="551.6" width="33.30000000000001" height="27.699999999999932" fill="#2e4c7e"/><path d="M408.15,551.6 V537 M399.54999999999995,537 H416.75" stroke="#1a1a1a" stroke-width="1.1" fill="none"/><line x1="408.15" y1="579.3" x2="408.15" y2="582.5" stroke="#1a1a1a" stroke-width="1.1"/><text x="408.15" y="537.2" font-size="8.4" text-anchor="middle" fill="#222" stroke="#222" stroke-width="0.1" >*</text><text x="408.15" y="594.1" font-size="9.2" text-anchor="middle" textLength="47" lengthAdjust="spacingAndGlyphs" fill="#222" stroke="#222" stroke-width="0.14" >SNORD42A</text><text x="408.15" y="604.8" font-size="9.2" text-anchor="middle" textLength="28.2" lengthAdjust="spacingAndGlyphs" fill="#222" stroke="#222" stroke-width="0.14" >gRNA2</text><rect x="444.4" y="554.6" width="33.400000000000034" height="24.699999999999932" fill="#6ca544"/><path d="M461.1,554.6 V537.6 M452.5,537.6 H469.70000000000005" stroke="#1a1a1a" stroke-width="1.1" fill="none"/><line x1="461.1" y1="579.3" x2="461.1" y2="582.5" stroke="#1a1a1a" stroke-width="1.1"/><text x="461.1" y="537.8000000000001" font-size="8.4" text-anchor="middle" fill="#222" stroke="#222" stroke-width="0.1" >*</text><text x="461.1" y="594.1" font-size="9.2" text-anchor="middle" textLength="47" lengthAdjust="spacingAndGlyphs" fill="#222" stroke="#222" stroke-width="0.14" >SNORD42A</text><text x="461.1" y="604.8" font-size="9.2" text-anchor="middle" textLength="28.2" lengthAdjust="spacingAndGlyphs" fill="#222" stroke="#222" stroke-width="0.14" >gRNA3</text><g clip-path="url(#clip37)"><rect x="37.6" y="624.4" width="98.6" height="73.5" fill="url(#bg)"/><rect x="37.6" y="624.4" width="98.6" height="73.5" fill="url(#vl)"/><rect x="37.6" y="624.4" width="98.6" height="73.5" fill="url(#vbl)"/><circle cx="61.7" cy="630.2" r="3.375" fill="#555" opacity="0.35" filter="url(#blur2)"/><circle cx="61.7" cy="630.2" r="2.5" fill="#141414" filter="url(#blur2)"/><circle cx="72.3" cy="635.5" r="3.375" fill="#555" opacity="0.35" filter="url(#blur2)"/><circle cx="72.3" cy="635.5" r="2.5" fill="#141414" filter="url(#blur2)"/><circle cx="52.8" cy="655.6" r="2.565" fill="#555" opacity="0.35" filter="url(#blur2)"/><circle cx="52.8" cy="655.6" r="1.9" fill="#141414" filter="url(#blur2)"/><circle cx="55" cy="665.3" r="2.8350000000000004" fill="#555" opacity="0.35" filter="url(#blur2)"/><circle cx="55" cy="665.3" r="2.1" fill="#141414" filter="url(#blur2)"/><circle cx="81.8" cy="665.3" r="1.62" fill="#555" opacity="0.35" filter="url(#blur2)"/><circle cx="81.8" cy="665.3" r="1.2" fill="#141414" filter="url(#blur2)"/><circle cx="112" cy="648.2" r="2.0250000000000004" fill="#555" opacity="0.35" filter="url(#blur2)"/><circle cx="112" cy="648.2" r="1.5" fill="#141414" filter="url(#blur2)"/><circle cx="109.3" cy="669.6" r="4.32" fill="#555" opacity="0.35" filter="url(#blur2)"/><circle cx="109.3" cy="669.6" r="3.2" fill="#141414" filter="url(#blur2)"/><circle cx="124.6" cy="676.3" r="1.35" fill="#555" opacity="0.35" filter="url(#blur2)"/><circle cx="124.6" cy="676.3" r="1" fill="#141414" filter="url(#blur2)"/><circle cx="93.5" cy="694.8" r="2.0250000000000004" fill="#555" opacity="0.35" filter="url(#blur2)"/><circle cx="93.5" cy="694.8" r="1.5" fill="#141414" filter="url(#blur2)"/><circle cx="99.2" cy="636.6" r="0.945" fill="#555" opacity="0.35" filter="url(#blur2)"/><circle cx="99.2" cy="636.6" r="0.7" fill="#141414" filter="url(#blur2)"/><circle cx="100.4" cy="625.6" r="0.675" fill="#555" opacity="0.35" filter="url(#blur2)"/><circle cx="100.4" cy="625.6" r="0.5" fill="#141414" filter="url(#blur2)"/><circle cx="99" cy="652" r="0.675" fill="#555" opacity="0.35" filter="url(#blur2)"/><circle cx="99" cy="652" r="0.5" fill="#141414" filter="url(#blur2)"/></g><text x="40.9" y="635.8" font-size="8.6" textLength="35" lengthAdjust="spacingAndGlyphs" fill="#1a1a1a" stroke="#1a1a1a" stroke-width="0.3" >scramble</text><text x="40.9" y="695.6" font-size="8.8" textLength="16.5" lengthAdjust="spacingAndGlyphs" fill="#1a1a1a" stroke="#1a1a1a" stroke-width="0.3" >2,5x</text><path d="M69.5,635.5h0.5v0.5h-0.5zM44.7,663.8h0.4v0.4h-0.4zM43.3,661.7h0.3v0.3h-0.3zM80.4,629.5h0.3v0.3h-0.3zM79.5,685.2h0.3v0.3h-0.3zM59.6,670.5h0.6v0.6h-0.6zM94.5,653.6h0.6v0.6h-0.6zM42.2,687.5h0.4v0.4h-0.4zM51.8,633.1h0.4v0.4h-0.4zM118.1,637.7h0.5v0.5h-0.5zM100.6,651.8h0.5v0.5h-0.5zM43.8,628.8h0.4v0.4h-0.4zM104.7,655.8h0.4v0.4h-0.4zM95.3,657.7h0.4v0.4h-0.4zM115.9,675.8h0.4v0.4h-0.4zM94.2,663.0h0.6v0.6h-0.6zM109.5,645.6h0.6v0.6h-0.6zM49.2,655.1h0.5v0.5h-0.5zM52.6,660.3h0.3v0.3h-0.3zM103.5,680.6h0.5v0.5h-0.5zM123.9,647.5h0.5v0.5h-0.5zM96.2,667.0h0.4v0.4h-0.4zM120.4,693.8h0.4v0.4h-0.4zM103.1,628.9h0.5v0.5h-0.5zM101.4,697.4h0.5v0.5h-0.5zM65.7,652.8h0.5v0.5h-0.5zM39.8,658.3h0.4v0.4h-0.4zM49.1,628.7h0.5v0.5h-0.5zM50.4,642.6h0.4v0.4h-0.4zM123.5,630.3h0.4v0.4h-0.4zM91.8,689.3h0.5v0.5h-0.5zM122.8,644.9h0.4v0.4h-0.4zM73.0,689.4h0.6v0.6h-0.6zM52.5,637.4h0.4v0.4h-0.4zM60.6,660.0h0.5v0.5h-0.5zM63.5,624.7h0.4v0.4h-0.4zM74.0,666.0h0.6v0.6h-0.6zM105.7,662.3h0.5v0.5h-0.5zM104.3,628.4h0.6v0.6h-0.6zM114.5,688.7h0.5v0.5h-0.5zM76.3,653.7h0.3v0.3h-0.3zM100.1,629.0h0.3v0.3h-0.3zM58.2,636.3h0.4v0.4h-0.4zM42.8,624.4h0.3v0.3h-0.3zM47.6,651.1h0.3v0.3h-0.3zM123.8,669.5h0.3v0.3h-0.3zM62.5,649.9h0.4v0.4h-0.4zM49.7,686.8h0.6v0.6h-0.6zM83.5,660.0h0.3v0.3h-0.3zM47.7,649.6h0.4v0.4h-0.4zM119.3,636.3h0.3v0.3h-0.3zM131.4,663.2h0.3v0.3h-0.3zM91.2,626.4h0.5v0.5h-0.5zM134.1,687.9h0.5v0.5h-0.5zM63.3,651.4h0.4v0.4h-0.4zM113.7,663.5h0.5v0.5h-0.5zM70.1,640.8h0.5v0.5h-0.5zM134.7,687.1h0.5v0.5h-0.5zM118.3,678.8h0.4v0.4h-0.4zM88.6,650.5h0.3v0.3h-0.3z" fill="#333" opacity="0.25"/><g clip-path="url(#clip149)"><rect x="149.1" y="623.9" width="98.4" height="73.6" fill="url(#bg2)"/><rect x="149.1" y="623.9" width="98.4" height="73.6" fill="url(#vl)"/><rect x="149.1" y="623.9" width="98.4" height="73.6" fill="url(#vbl)"/><rect x="149.1" y="623.9" width="98.4" height="73.6" fill="url(#vr)"/><circle cx="221" cy="633.6" r="2.0250000000000004" fill="#555" opacity="0.35" filter="url(#blur2)"/><circle cx="221" cy="633.6" r="1.5" fill="#141414" filter="url(#blur2)"/><circle cx="177.7" cy="636.8" r="1.62" fill="#555" opacity="0.35" filter="url(#blur2)"/><circle cx="177.7" cy="636.8" r="1.2" fill="#141414" filter="url(#blur2)"/><circle cx="209.8" cy="652.7" r="1.35" fill="#555" opacity="0.35" filter="url(#blur2)"/><circle cx="209.8" cy="652.7" r="1" fill="#141414" filter="url(#blur2)"/><circle cx="190.1" cy="660" r="1.4850000000000003" fill="#555" opacity="0.35" filter="url(#blur2)"/><circle cx="190.1" cy="660" r="1.1" fill="#141414" filter="url(#blur2)"/><circle cx="223.1" cy="664.7" r="2.0250000000000004" fill="#555" opacity="0.35" filter="url(#blur2)"/><circle cx="223.1" cy="664.7" r="1.5" fill="#141414" filter="url(#blur2)"/><circle cx="179.6" cy="683.8" r="1.4850000000000003" fill="#555" opacity="0.35" filter="url(#blur2)"/><circle cx="179.6" cy="683.8" r="1.1" fill="#141414" filter="url(#blur2)"/><circle cx="192.3" cy="691.2" r="1.89" fill="#555" opacity="0.35" filter="url(#blur2)"/><circle cx="192.3" cy="691.2" r="1.4" fill="#141414" filter="url(#blur2)"/></g><text x="152.4" y="635.3" font-size="8.6" textLength="62.3" lengthAdjust="spacingAndGlyphs" fill="#1a1a1a" stroke="#1a1a1a" stroke-width="0.3" >SNORD42A KO</text><text x="152.4" y="695.1" font-size="8.8" textLength="16.5" lengthAdjust="spacingAndGlyphs" fill="#1a1a1a" stroke="#1a1a1a" stroke-width="0.3" >2,5x</text><path d="M151.8,644.5h0.4v0.4h-0.4zM217.2,694.3h0.4v0.4h-0.4zM241.3,696.6h0.6v0.6h-0.6zM185.0,640.1h0.4v0.4h-0.4zM168.5,638.9h0.5v0.5h-0.5zM237.7,685.8h0.4v0.4h-0.4zM213.4,682.8h0.3v0.3h-0.3zM214.1,690.9h0.5v0.5h-0.5zM222.9,659.1h0.4v0.4h-0.4zM226.8,648.4h0.5v0.5h-0.5zM244.7,653.0h0.4v0.4h-0.4zM242.3,677.2h0.4v0.4h-0.4zM161.6,635.0h0.6v0.6h-0.6zM228.5,634.7h0.5v0.5h-0.5zM245.6,672.3h0.4v0.4h-0.4zM203.1,633.5h0.3v0.3h-0.3zM244.6,671.7h0.5v0.5h-0.5zM241.0,655.8h0.6v0.6h-0.6zM230.4,639.4h0.4v0.4h-0.4zM177.9,641.6h0.5v0.5h-0.5zM174.6,654.7h0.3v0.3h-0.3zM238.6,649.9h0.4v0.4h-0.4zM206.5,690.5h0.4v0.4h-0.4zM239.4,660.8h0.5v0.5h-0.5zM200.6,625.3h0.4v0.4h-0.4zM167.1,624.2h0.5v0.5h-0.5zM166.1,658.7h0.5v0.5h-0.5zM203.9,647.9h0.5v0.5h-0.5zM203.8,681.6h0.3v0.3h-0.3zM204.2,642.2h0.4v0.4h-0.4zM225.1,661.3h0.5v0.5h-0.5zM223.9,691.1h0.4v0.4h-0.4zM209.4,661.1h0.5v0.5h-0.5zM217.3,657.2h0.5v0.5h-0.5zM196.1,693.2h0.5v0.5h-0.5zM235.4,693.2h0.4v0.4h-0.4zM204.2,693.3h0.6v0.6h-0.6zM162.6,632.9h0.4v0.4h-0.4zM156.2,641.6h0.3v0.3h-0.3zM215.0,681.6h0.6v0.6h-0.6zM164.3,676.6h0.5v0.5h-0.5zM163.2,688.9h0.6v0.6h-0.6zM170.7,694.0h0.4v0.4h-0.4zM197.0,696.8h0.5v0.5h-0.5zM165.0,655.7h0.5v0.5h-0.5zM182.5,638.3h0.4v0.4h-0.4zM220.2,625.3h0.5v0.5h-0.5zM192.4,625.2h0.4v0.4h-0.4zM210.5,661.6h0.3v0.3h-0.3zM246.0,681.9h0.6v0.6h-0.6zM159.4,643.4h0.3v0.3h-0.3zM225.8,643.8h0.3v0.3h-0.3zM190.6,691.0h0.5v0.5h-0.5zM174.5,634.9h0.6v0.6h-0.6zM205.2,675.5h0.3v0.3h-0.3zM154.8,674.6h0.4v0.4h-0.4zM156.2,693.0h0.5v0.5h-0.5zM228.0,630.1h0.6v0.6h-0.6zM155.7,687.4h0.4v0.4h-0.4zM182.5,664.6h0.6v0.6h-0.6z" fill="#333" opacity="0.25"/><g clip-path="url(#clip305)"><rect x="305" y="624" width="99" height="74" fill="url(#bg2)"/><rect x="305" y="624" width="99" height="74" fill="url(#vl)"/><rect x="305" y="624" width="99" height="74" fill="url(#vbl)"/><rect x="305" y="624" width="99" height="74" fill="url(#vr)"/><circle cx="337.3" cy="655.7" r="7.800000000000001" fill="url(#col)" opacity="0.9"/><path d="M336.9,659.0h0.4v0.4h-0.4zM340.0,657.9h0.4v0.4h-0.4zM338.3,656.0h0.5v0.5h-0.5zM337.5,652.5h0.5v0.5h-0.5zM335.7,655.7h0.4v0.4h-0.4zM337.3,658.9h0.4v0.4h-0.4zM337.0,653.3h0.5v0.5h-0.5zM338.0,655.4h0.4v0.4h-0.4zM339.0,651.9h0.6v0.6h-0.6zM335.8,656.9h0.5v0.5h-0.5zM335.9,652.4h0.6v0.6h-0.6zM337.2,655.3h0.6v0.6h-0.6zM336.7,656.1h0.4v0.4h-0.4zM338.3,656.2h0.6v0.6h-0.6zM337.3,656.5h0.6v0.6h-0.6zM338.3,654.7h0.6v0.6h-0.6zM337.3,655.9h0.5v0.5h-0.5zM339.1,658.4h0.5v0.5h-0.5zM336.5,665.8h0.5v0.5h-0.5zM337.4,658.2h0.7v0.7h-0.7zM337.3,655.8h0.5v0.5h-0.5zM337.2,655.7h0.5v0.5h-0.5zM337.4,656.1h0.4v0.4h-0.4zM337.3,655.7h0.5v0.5h-0.5zM340.5,656.6h0.4v0.4h-0.4zM336.9,655.5h0.5v0.5h-0.5zM337.3,652.3h0.7v0.7h-0.7zM333.3,659.0h0.5v0.5h-0.5zM341.0,655.3h0.6v0.6h-0.6zM342.2,657.1h0.6v0.6h-0.6zM340.7,652.9h0.6v0.6h-0.6zM340.2,659.2h0.5v0.5h-0.5zM333.7,655.6h0.6v0.6h-0.6zM332.1,652.6h0.7v0.7h-0.7zM336.9,654.8h0.4v0.4h-0.4zM339.1,657.7h0.5v0.5h-0.5zM339.3,657.3h0.6v0.6h-0.6zM334.3,652.7h0.6v0.6h-0.6zM330.3,656.2h0.6v0.6h-0.6zM337.2,655.7h0.5v0.5h-0.5zM334.2,650.8h0.4v0.4h-0.4zM339.6,656.9h0.4v0.4h-0.4zM337.1,653.9h0.7v0.7h-0.7zM331.2,655.9h0.5v0.5h-0.5zM334.6,656.1h0.6v0.6h-0.6zM333.5,650.9h0.4v0.4h-0.4zM337.4,655.8h0.5v0.5h-0.5zM331.4,653.0h0.4v0.4h-0.4zM337.9,656.0h0.6v0.6h-0.6zM334.7,650.5h0.5v0.5h-0.5zM333.1,655.3h0.4v0.4h-0.4zM338.1,655.1h0.4v0.4h-0.4zM338.0,655.6h0.5v0.5h-0.5zM337.4,655.4h0.7v0.7h-0.7zM337.0,655.8h0.7v0.7h-0.7zM337.9,658.3h0.6v0.6h-0.6zM343.3,663.1h0.4v0.4h-0.4zM337.9,654.4h0.5v0.5h-0.5zM337.9,655.2h0.7v0.7h-0.7zM334.6,655.9h0.4v0.4h-0.4zM341.6,655.8h0.5v0.5h-0.5zM337.4,655.9h0.5v0.5h-0.5zM337.3,655.8h0.6v0.6h-0.6zM337.4,655.5h0.4v0.4h-0.4zM339.0,654.8h0.5v0.5h-0.5zM331.6,661.6h0.5v0.5h-0.5zM340.4,655.7h0.5v0.5h-0.5zM337.0,657.6h0.4v0.4h-0.4zM338.6,656.7h0.7v0.7h-0.7zM337.3,658.5h0.4v0.4h-0.4zM335.9,655.6h0.7v0.7h-0.7zM339.9,653.4h0.6v0.6h-0.6zM331.9,649.9h0.5v0.5h-0.5zM336.4,651.0h0.4v0.4h-0.4zM336.6,649.5h0.6v0.6h-0.6zM336.9,657.6h0.4v0.4h-0.4zM340.1,654.3h0.5v0.5h-0.5zM336.4,658.7h0.6v0.6h-0.6zM337.7,655.6h0.5v0.5h-0.5zM332.0,653.7h0.5v0.5h-0.5zM338.0,656.9h0.7v0.7h-0.7zM335.0,655.7h0.4v0.4h-0.4zM340.8,653.3h0.4v0.4h-0.4zM337.3,655.8h0.4v0.4h-0.4zM336.0,657.7h0.4v0.4h-0.4zM335.9,655.0h0.7v0.7h-0.7zM337.3,652.3h0.5v0.5h-0.5zM335.8,657.2h0.5v0.5h-0.5zM338.9,656.4h0.4v0.4h-0.4zM327.2,655.5h0.6v0.6h-0.6zM337.7,655.2h0.4v0.4h-0.4zM334.9,657.5h0.5v0.5h-0.5zM341.7,654.4h0.4v0.4h-0.4zM343.6,657.0h0.6v0.6h-0.6zM341.4,652.6h0.4v0.4h-0.4zM336.6,656.2h0.7v0.7h-0.7zM340.2,650.0h0.4v0.4h-0.4zM343.7,660.9h0.4v0.4h-0.4zM333.5,655.2h0.6v0.6h-0.6zM332.2,648.9h0.6v0.6h-0.6zM336.3,656.0h0.6v0.6h-0.6zM337.3,656.1h0.7v0.7h-0.7zM336.9,655.2h0.4v0.4h-0.4zM336.0,654.2h0.6v0.6h-0.6zM340.6,658.5h0.6v0.6h-0.6zM335.7,657.0h0.4v0.4h-0.4zM334.6,653.7h0.5v0.5h-0.5zM337.5,655.6h0.6v0.6h-0.6zM339.4,653.8h0.4v0.4h-0.4zM337.7,655.6h0.6v0.6h-0.6zM335.7,659.9h0.6v0.6h-0.6zM336.8,656.0h0.4v0.4h-0.4zM336.1,653.5h0.4v0.4h-0.4zM336.6,656.8h0.5v0.5h-0.5zM336.4,653.7h0.6v0.6h-0.6zM330.7,655.5h0.4v0.4h-0.4zM340.0,655.2h0.4v0.4h-0.4zM338.5,662.3h0.6v0.6h-0.6zM336.1,659.9h0.4v0.4h-0.4zM337.5,657.0h0.5v0.5h-0.5zM336.2,653.9h0.5v0.5h-0.5zM337.5,656.4h0.7v0.7h-0.7zM338.1,656.7h0.5v0.5h-0.5zM337.7,655.4h0.7v0.7h-0.7zM336.3,646.7h0.5v0.5h-0.5zM337.4,655.8h0.7v0.7h-0.7zM337.2,650.1h0.5v0.5h-0.5zM336.5,656.5h0.5v0.5h-0.5zM338.8,658.5h0.5v0.5h-0.5zM337.4,655.7h0.4v0.4h-0.4zM338.2,655.5h0.6v0.6h-0.6zM338.8,652.5h0.5v0.5h-0.5zM340.8,656.8h0.7v0.7h-0.7zM337.5,656.3h0.5v0.5h-0.5zM340.4,653.3h0.6v0.6h-0.6zM337.4,654.9h0.4v0.4h-0.4zM345.2,657.5h0.4v0.4h-0.4zM337.2,652.3h0.7v0.7h-0.7zM336.6,656.9h0.6v0.6h-0.6zM336.6,665.4h0.6v0.6h-0.6zM337.3,655.7h0.6v0.6h-0.6zM337.6,655.5h0.6v0.6h-0.6zM339.9,654.7h0.5v0.5h-0.5zM337.7,655.6h0.7v0.7h-0.7z" fill="#222" opacity="0.405"/><circle cx="322.6" cy="669.5" r="6.5" fill="url(#col)" opacity="0.8"/><path d="M322.6,669.5h0.5v0.5h-0.5zM325.7,668.0h0.4v0.4h-0.4zM322.7,669.1h0.6v0.6h-0.6zM317.9,665.7h0.5v0.5h-0.5zM321.0,672.8h0.4v0.4h-0.4zM324.0,673.6h0.6v0.6h-0.6zM322.6,670.3h0.5v0.5h-0.5zM322.4,669.8h0.7v0.7h-0.7zM324.5,667.8h0.4v0.4h-0.4zM322.8,669.6h0.5v0.5h-0.5zM322.0,667.3h0.5v0.5h-0.5zM322.0,669.0h0.6v0.6h-0.6zM322.6,666.8h0.4v0.4h-0.4zM324.7,666.2h0.5v0.5h-0.5zM319.2,668.0h0.4v0.4h-0.4zM322.7,673.3h0.4v0.4h-0.4zM324.4,672.1h0.5v0.5h-0.5zM320.3,671.2h0.7v0.7h-0.7zM321.9,669.5h0.6v0.6h-0.6zM328.5,669.2h0.4v0.4h-0.4zM320.0,669.9h0.7v0.7h-0.7zM328.1,670.9h0.5v0.5h-0.5zM325.0,671.7h0.6v0.6h-0.6zM329.9,666.1h0.5v0.5h-0.5zM324.2,667.7h0.6v0.6h-0.6zM323.3,669.2h0.4v0.4h-0.4zM321.2,668.6h0.5v0.5h-0.5zM323.6,670.7h0.4v0.4h-0.4zM322.5,673.3h0.4v0.4h-0.4zM325.4,669.7h0.5v0.5h-0.5zM322.1,668.5h0.4v0.4h-0.4zM323.3,667.0h0.5v0.5h-0.5zM325.0,670.5h0.5v0.5h-0.5zM321.4,668.0h0.4v0.4h-0.4zM323.2,670.5h0.4v0.4h-0.4zM321.5,672.4h0.7v0.7h-0.7zM321.5,672.1h0.5v0.5h-0.5zM323.4,668.6h0.7v0.7h-0.7zM321.5,670.8h0.4v0.4h-0.4zM327.6,669.7h0.7v0.7h-0.7zM321.3,670.2h0.7v0.7h-0.7zM319.7,670.2h0.4v0.4h-0.4zM327.0,669.9h0.7v0.7h-0.7zM323.9,670.3h0.6v0.6h-0.6zM321.3,670.8h0.4v0.4h-0.4zM322.5,669.5h0.7v0.7h-0.7zM327.1,673.2h0.7v0.7h-0.7zM322.7,669.8h0.4v0.4h-0.4zM326.1,668.2h0.4v0.4h-0.4zM323.1,669.2h0.5v0.5h-0.5zM326.2,667.0h0.4v0.4h-0.4zM323.5,665.4h0.4v0.4h-0.4zM319.7,671.5h0.4v0.4h-0.4zM323.6,674.4h0.5v0.5h-0.5zM321.4,669.4h0.4v0.4h-0.4zM322.4,668.4h0.7v0.7h-0.7zM327.5,670.8h0.4v0.4h-0.4zM323.7,667.7h0.4v0.4h-0.4zM319.1,667.0h0.5v0.5h-0.5zM321.4,670.2h0.6v0.6h-0.6zM320.9,670.4h0.5v0.5h-0.5zM325.5,669.9h0.6v0.6h-0.6zM322.1,669.5h0.6v0.6h-0.6zM317.3,670.9h0.4v0.4h-0.4zM321.3,669.7h0.5v0.5h-0.5zM323.5,670.1h0.5v0.5h-0.5zM318.1,669.2h0.4v0.4h-0.4zM322.5,668.3h0.6v0.6h-0.6zM319.0,669.2h0.5v0.5h-0.5zM323.8,669.1h0.4v0.4h-0.4zM325.9,665.4h0.6v0.6h-0.6zM322.6,669.6h0.7v0.7h-0.7zM315.6,669.9h0.4v0.4h-0.4zM323.1,667.6h0.7v0.7h-0.7zM325.6,670.8h0.4v0.4h-0.4zM326.1,666.8h0.4v0.4h-0.4zM323.6,667.3h0.7v0.7h-0.7zM323.4,672.4h0.4v0.4h-0.4zM322.2,669.5h0.4v0.4h-0.4zM323.0,670.2h0.7v0.7h-0.7zM321.9,668.1h0.6v0.6h-0.6zM323.5,670.3h0.5v0.5h-0.5zM319.8,666.3h0.5v0.5h-0.5zM318.1,667.0h0.7v0.7h-0.7zM326.2,672.3h0.5v0.5h-0.5zM322.7,669.3h0.4v0.4h-0.4zM325.3,669.3h0.6v0.6h-0.6zM321.3,670.0h0.4v0.4h-0.4zM322.4,663.8h0.4v0.4h-0.4zM321.4,668.1h0.7v0.7h-0.7zM321.4,668.8h0.4v0.4h-0.4zM325.0,670.0h0.4v0.4h-0.4zM320.0,667.1h0.7v0.7h-0.7zM323.7,670.7h0.4v0.4h-0.4zM322.5,669.3h0.5v0.5h-0.5zM322.6,669.5h0.5v0.5h-0.5zM323.2,673.2h0.4v0.4h-0.4zM321.1,668.0h0.5v0.5h-0.5zM324.1,671.2h0.4v0.4h-0.4zM323.4,670.0h0.6v0.6h-0.6z" fill="#222" opacity="0.36000000000000004"/><circle cx="375.5" cy="643.6" r="10.4" fill="url(#col)" opacity="0.8"/><path d="M376.2,642.8h0.4v0.4h-0.4zM380.7,644.0h0.6v0.6h-0.6zM371.4,641.9h0.5v0.5h-0.5zM381.1,641.3h0.6v0.6h-0.6zM375.5,644.9h0.5v0.5h-0.5zM374.8,644.1h0.4v0.4h-0.4zM375.6,643.7h0.5v0.5h-0.5zM376.3,643.3h0.4v0.4h-0.4zM377.0,648.2h0.6v0.6h-0.6zM377.0,640.0h0.4v0.4h-0.4zM375.3,644.1h0.7v0.7h-0.7zM375.8,642.1h0.6v0.6h-0.6zM380.3,643.8h0.5v0.5h-0.5zM375.1,636.5h0.5v0.5h-0.5zM375.9,646.5h0.4v0.4h-0.4zM374.3,645.6h0.6v0.6h-0.6zM373.9,639.2h0.4v0.4h-0.4zM369.1,641.4h0.5v0.5h-0.5zM376.5,639.7h0.6v0.6h-0.6zM376.1,643.5h0.4v0.4h-0.4zM378.4,640.8h0.4v0.4h-0.4zM375.5,643.2h0.7v0.7h-0.7zM375.4,638.6h0.5v0.5h-0.5zM376.1,653.1h0.7v0.7h-0.7zM373.7,641.6h0.7v0.7h-0.7zM368.4,645.0h0.6v0.6h-0.6zM374.4,640.3h0.6v0.6h-0.6zM371.6,641.7h0.5v0.5h-0.5zM375.9,645.1h0.7v0.7h-0.7zM376.4,644.7h0.4v0.4h-0.4zM378.9,646.3h0.4v0.4h-0.4zM377.5,644.0h0.4v0.4h-0.4zM373.6,638.6h0.6v0.6h-0.6zM381.0,646.0h0.6v0.6h-0.6zM372.9,646.6h0.7v0.7h-0.7zM383.5,647.1h0.7v0.7h-0.7zM377.5,642.4h0.4v0.4h-0.4zM376.1,644.1h0.4v0.4h-0.4zM377.1,641.3h0.6v0.6h-0.6zM370.9,638.6h0.5v0.5h-0.5zM381.3,647.8h0.4v0.4h-0.4zM373.4,648.2h0.5v0.5h-0.5zM375.7,643.6h0.6v0.6h-0.6zM372.6,646.7h0.5v0.5h-0.5zM385.4,641.3h0.6v0.6h-0.6zM375.7,643.6h0.5v0.5h-0.5zM374.9,643.9h0.6v0.6h-0.6zM370.9,642.5h0.4v0.4h-0.4zM380.7,637.4h0.4v0.4h-0.4zM380.7,643.6h0.4v0.4h-0.4zM375.5,643.1h0.5v0.5h-0.5zM375.4,643.6h0.6v0.6h-0.6zM377.4,648.0h0.6v0.6h-0.6zM375.5,643.8h0.7v0.7h-0.7zM375.1,645.3h0.5v0.5h-0.5zM381.6,648.6h0.6v0.6h-0.6zM377.2,644.5h0.6v0.6h-0.6zM370.1,638.0h0.5v0.5h-0.5zM368.5,648.6h0.4v0.4h-0.4zM380.6,639.3h0.4v0.4h-0.4zM375.8,644.5h0.5v0.5h-0.5zM367.4,651.3h0.7v0.7h-0.7zM376.1,649.8h0.6v0.6h-0.6zM375.5,642.0h0.6v0.6h-0.6zM374.7,644.7h0.6v0.6h-0.6zM374.1,641.3h0.6v0.6h-0.6zM379.5,650.9h0.6v0.6h-0.6zM377.9,646.0h0.5v0.5h-0.5zM375.7,643.4h0.5v0.5h-0.5zM374.5,640.4h0.6v0.6h-0.6zM376.7,645.4h0.5v0.5h-0.5zM372.3,643.1h0.4v0.4h-0.4zM373.0,648.2h0.6v0.6h-0.6zM386.0,651.4h0.7v0.7h-0.7zM384.5,650.2h0.6v0.6h-0.6zM374.5,633.7h0.5v0.5h-0.5zM376.0,645.1h0.4v0.4h-0.4zM374.1,644.8h0.4v0.4h-0.4zM373.9,644.8h0.5v0.5h-0.5zM370.3,637.9h0.5v0.5h-0.5zM378.1,646.9h0.6v0.6h-0.6zM378.2,641.8h0.5v0.5h-0.5zM375.5,643.6h0.4v0.4h-0.4zM374.6,638.2h0.7v0.7h-0.7zM376.0,640.5h0.6v0.6h-0.6zM369.4,636.1h0.5v0.5h-0.5zM374.9,645.1h0.5v0.5h-0.5zM375.8,641.9h0.6v0.6h-0.6zM375.5,643.6h0.5v0.5h-0.5zM371.6,639.8h0.5v0.5h-0.5zM374.1,640.9h0.6v0.6h-0.6zM375.7,642.2h0.5v0.5h-0.5zM374.1,643.7h0.5v0.5h-0.5zM375.6,643.8h0.6v0.6h-0.6zM377.7,642.7h0.6v0.6h-0.6zM375.2,643.5h0.6v0.6h-0.6zM369.3,643.1h0.5v0.5h-0.5zM369.2,647.6h0.7v0.7h-0.7zM376.0,645.6h0.6v0.6h-0.6zM378.9,646.9h0.7v0.7h-0.7zM373.1,646.7h0.5v0.5h-0.5zM376.9,643.7h0.5v0.5h-0.5zM374.1,644.3h0.4v0.4h-0.4zM376.2,648.1h0.6v0.6h-0.6zM378.8,642.3h0.6v0.6h-0.6zM375.0,644.0h0.4v0.4h-0.4zM376.6,644.7h0.6v0.6h-0.6zM366.3,645.4h0.5v0.5h-0.5zM376.2,648.3h0.6v0.6h-0.6zM376.0,642.6h0.6v0.6h-0.6zM373.7,644.0h0.4v0.4h-0.4zM378.7,638.1h0.5v0.5h-0.5zM375.8,643.2h0.4v0.4h-0.4zM371.0,645.8h0.4v0.4h-0.4zM376.2,643.6h0.4v0.4h-0.4zM374.2,647.5h0.5v0.5h-0.5zM371.0,645.8h0.5v0.5h-0.5zM380.7,641.1h0.6v0.6h-0.6zM380.5,645.5h0.6v0.6h-0.6zM381.8,651.3h0.6v0.6h-0.6zM375.0,643.0h0.7v0.7h-0.7zM375.5,643.5h0.4v0.4h-0.4zM377.4,645.0h0.6v0.6h-0.6zM373.8,646.0h0.4v0.4h-0.4zM376.2,643.1h0.7v0.7h-0.7zM373.1,641.7h0.6v0.6h-0.6zM372.0,637.3h0.6v0.6h-0.6zM377.3,649.0h0.6v0.6h-0.6zM375.2,643.5h0.7v0.7h-0.7zM370.3,641.7h0.4v0.4h-0.4zM375.9,647.5h0.4v0.4h-0.4zM370.9,644.6h0.4v0.4h-0.4zM369.0,644.0h0.7v0.7h-0.7zM375.6,643.6h0.6v0.6h-0.6zM368.5,645.0h0.6v0.6h-0.6zM373.4,645.7h0.5v0.5h-0.5zM381.9,642.0h0.6v0.6h-0.6zM378.8,644.2h0.6v0.6h-0.6zM373.8,639.7h0.7v0.7h-0.7zM373.6,643.5h0.5v0.5h-0.5zM382.0,638.7h0.6v0.6h-0.6zM374.6,645.1h0.7v0.7h-0.7zM371.3,648.3h0.6v0.6h-0.6zM375.7,644.6h0.5v0.5h-0.5zM367.4,647.9h0.5v0.5h-0.5zM377.0,640.7h0.5v0.5h-0.5zM374.7,643.6h0.7v0.7h-0.7zM372.0,638.5h0.6v0.6h-0.6zM374.6,645.2h0.6v0.6h-0.6zM372.9,640.6h0.6v0.6h-0.6zM377.3,644.1h0.5v0.5h-0.5zM385.7,646.9h0.5v0.5h-0.5zM379.8,643.8h0.6v0.6h-0.6zM369.5,634.5h0.6v0.6h-0.6zM380.1,640.6h0.6v0.6h-0.6zM374.0,639.2h0.6v0.6h-0.6zM374.7,642.0h0.5v0.5h-0.5zM376.1,636.1h0.4v0.4h-0.4zM379.2,651.5h0.7v0.7h-0.7zM374.3,641.9h0.5v0.5h-0.5zM376.2,642.2h0.4v0.4h-0.4zM373.4,649.8h0.5v0.5h-0.5zM372.7,649.7h0.7v0.7h-0.7zM378.5,644.7h0.5v0.5h-0.5zM382.2,645.3h0.6v0.6h-0.6zM381.1,640.4h0.5v0.5h-0.5zM380.8,644.1h0.7v0.7h-0.7zM380.0,643.1h0.5v0.5h-0.5zM370.4,646.7h0.4v0.4h-0.4zM378.1,647.2h0.4v0.4h-0.4zM376.6,643.6h0.7v0.7h-0.7zM377.6,644.9h0.7v0.7h-0.7zM381.2,649.6h0.4v0.4h-0.4zM375.4,642.7h0.4v0.4h-0.4zM376.7,644.0h0.6v0.6h-0.6zM374.5,635.5h0.4v0.4h-0.4zM374.5,642.5h0.7v0.7h-0.7zM375.4,649.2h0.7v0.7h-0.7zM375.3,642.7h0.6v0.6h-0.6zM375.5,643.5h0.4v0.4h-0.4zM375.3,644.0h0.7v0.7h-0.7zM372.4,643.9h0.4v0.4h-0.4zM372.1,647.3h0.6v0.6h-0.6zM377.1,645.6h0.6v0.6h-0.6zM372.6,647.0h0.5v0.5h-0.5zM371.1,647.4h0.6v0.6h-0.6zM376.9,643.1h0.5v0.5h-0.5zM381.6,646.0h0.7v0.7h-0.7zM374.9,641.5h0.6v0.6h-0.6zM379.6,643.0h0.6v0.6h-0.6zM373.9,642.4h0.7v0.7h-0.7zM371.8,647.2h0.6v0.6h-0.6zM369.5,639.1h0.4v0.4h-0.4zM381.2,643.7h0.4v0.4h-0.4zM368.3,647.4h0.7v0.7h-0.7zM380.3,644.9h0.6v0.6h-0.6zM377.2,639.4h0.4v0.4h-0.4zM378.5,639.6h0.6v0.6h-0.6zM373.9,639.8h0.4v0.4h-0.4zM373.2,642.8h0.6v0.6h-0.6zM375.5,643.6h0.4v0.4h-0.4zM366.1,636.1h0.6v0.6h-0.6zM374.5,643.8h0.6v0.6h-0.6zM376.5,639.9h0.5v0.5h-0.5zM378.2,645.2h0.4v0.4h-0.4zM368.1,639.6h0.7v0.7h-0.7zM379.9,639.7h0.6v0.6h-0.6zM375.8,644.4h0.4v0.4h-0.4zM376.1,645.0h0.5v0.5h-0.5zM371.7,646.3h0.5v0.5h-0.5zM385.6,657.4h0.5v0.5h-0.5zM379.4,646.6h0.6v0.6h-0.6zM376.4,639.8h0.5v0.5h-0.5zM369.7,642.9h0.4v0.4h-0.4zM385.7,645.8h0.5v0.5h-0.5zM374.9,643.3h0.4v0.4h-0.4zM377.5,632.5h0.6v0.6h-0.6zM377.9,638.5h0.7v0.7h-0.7zM375.4,647.0h0.4v0.4h-0.4zM376.2,644.0h0.4v0.4h-0.4zM371.8,642.2h0.7v0.7h-0.7zM379.0,641.4h0.4v0.4h-0.4zM373.8,642.4h0.7v0.7h-0.7zM375.4,645.2h0.5v0.5h-0.5zM370.8,637.8h0.5v0.5h-0.5zM373.5,644.3h0.4v0.4h-0.4zM379.1,642.8h0.4v0.4h-0.4zM375.5,643.8h0.5v0.5h-0.5zM382.2,638.9h0.4v0.4h-0.4zM376.8,638.2h0.6v0.6h-0.6zM374.4,642.2h0.4v0.4h-0.4zM375.5,643.4h0.7v0.7h-0.7zM374.6,641.7h0.6v0.6h-0.6zM380.7,647.7h0.5v0.5h-0.5zM375.3,647.8h0.4v0.4h-0.4zM375.8,647.8h0.4v0.4h-0.4zM371.9,636.2h0.4v0.4h-0.4zM376.1,643.7h0.7v0.7h-0.7zM377.3,653.0h0.7v0.7h-0.7zM378.2,646.8h0.5v0.5h-0.5zM382.9,648.8h0.6v0.6h-0.6zM371.4,644.9h0.5v0.5h-0.5zM378.7,637.1h0.4v0.4h-0.4zM375.7,644.6h0.4v0.4h-0.4zM374.9,640.9h0.7v0.7h-0.7zM375.4,644.6h0.5v0.5h-0.5zM376.2,644.7h0.5v0.5h-0.5zM380.4,652.2h0.5v0.5h-0.5zM374.6,645.5h0.7v0.7h-0.7zM376.9,644.1h0.7v0.7h-0.7zM374.8,642.4h0.5v0.5h-0.5zM375.2,649.3h0.4v0.4h-0.4zM363.4,657.4h0.7v0.7h-0.7zM376.3,644.2h0.5v0.5h-0.5zM381.7,638.8h0.5v0.5h-0.5zM378.4,643.2h0.4v0.4h-0.4z" fill="#222" opacity="0.36000000000000004"/><circle cx="378.5" cy="677.9" r="13.0" fill="url(#col)" opacity="0.95"/><path d="M379.2,676.1h0.4v0.4h-0.4zM380.0,675.3h0.5v0.5h-0.5zM383.7,690.0h0.4v0.4h-0.4zM373.4,675.4h0.4v0.4h-0.4zM379.1,679.1h0.4v0.4h-0.4zM387.4,682.8h0.4v0.4h-0.4zM374.5,674.6h0.4v0.4h-0.4zM378.4,677.8h0.6v0.6h-0.6zM379.9,674.4h0.4v0.4h-0.4zM378.3,675.7h0.5v0.5h-0.5zM376.5,666.9h0.5v0.5h-0.5zM380.7,674.5h0.7v0.7h-0.7zM364.3,678.5h0.5v0.5h-0.5zM379.5,676.9h0.4v0.4h-0.4zM379.7,680.7h0.4v0.4h-0.4zM374.8,681.8h0.6v0.6h-0.6zM385.5,678.1h0.5v0.5h-0.5zM379.1,678.5h0.6v0.6h-0.6zM380.0,674.4h0.6v0.6h-0.6zM375.4,680.8h0.6v0.6h-0.6zM388.9,682.1h0.5v0.5h-0.5zM367.0,676.9h0.5v0.5h-0.5zM362.1,674.0h0.4v0.4h-0.4zM379.4,679.9h0.4v0.4h-0.4zM378.5,678.6h0.4v0.4h-0.4zM378.0,676.5h0.4v0.4h-0.4zM385.4,678.7h0.5v0.5h-0.5zM377.0,673.1h0.4v0.4h-0.4zM378.8,677.6h0.4v0.4h-0.4zM376.6,678.0h0.5v0.5h-0.5zM377.6,682.6h0.4v0.4h-0.4zM374.6,675.4h0.7v0.7h-0.7zM384.3,685.6h0.4v0.4h-0.4zM380.7,673.7h0.7v0.7h-0.7zM370.1,684.9h0.5v0.5h-0.5zM373.8,681.5h0.7v0.7h-0.7zM378.9,675.4h0.5v0.5h-0.5zM374.7,679.5h0.7v0.7h-0.7zM381.9,668.3h0.6v0.6h-0.6zM384.4,680.0h0.5v0.5h-0.5zM382.9,676.7h0.5v0.5h-0.5zM377.2,676.4h0.5v0.5h-0.5zM372.3,676.7h0.5v0.5h-0.5zM381.4,678.3h0.4v0.4h-0.4zM381.0,677.4h0.6v0.6h-0.6zM384.0,663.9h0.7v0.7h-0.7zM385.3,671.9h0.4v0.4h-0.4zM377.6,676.1h0.4v0.4h-0.4zM370.7,675.8h0.4v0.4h-0.4zM374.4,677.4h0.5v0.5h-0.5zM379.7,677.5h0.6v0.6h-0.6zM382.4,681.6h0.6v0.6h-0.6zM383.4,676.5h0.5v0.5h-0.5zM378.1,677.8h0.4v0.4h-0.4zM381.1,680.5h0.5v0.5h-0.5zM377.6,681.8h0.4v0.4h-0.4zM388.6,684.1h0.6v0.6h-0.6zM375.3,676.4h0.6v0.6h-0.6zM379.0,679.6h0.5v0.5h-0.5zM373.2,673.3h0.5v0.5h-0.5zM378.4,678.1h0.5v0.5h-0.5zM375.1,681.0h0.6v0.6h-0.6zM386.3,678.5h0.4v0.4h-0.4zM368.8,674.3h0.5v0.5h-0.5zM377.3,683.2h0.6v0.6h-0.6zM378.7,678.3h0.4v0.4h-0.4zM380.0,676.3h0.5v0.5h-0.5zM377.7,678.2h0.6v0.6h-0.6zM380.5,679.5h0.6v0.6h-0.6zM387.7,691.3h0.5v0.5h-0.5zM376.1,681.2h0.6v0.6h-0.6zM382.0,670.7h0.5v0.5h-0.5zM378.5,677.4h0.5v0.5h-0.5zM380.9,667.2h0.6v0.6h-0.6zM386.4,673.2h0.4v0.4h-0.4zM379.4,668.5h0.6v0.6h-0.6zM370.3,678.0h0.5v0.5h-0.5zM378.9,676.0h0.7v0.7h-0.7zM374.4,674.7h0.5v0.5h-0.5zM377.7,673.1h0.5v0.5h-0.5zM373.8,681.7h0.5v0.5h-0.5zM379.0,675.8h0.6v0.6h-0.6zM374.6,677.9h0.5v0.5h-0.5zM379.4,679.0h0.6v0.6h-0.6zM367.7,671.8h0.5v0.5h-0.5zM382.7,671.5h0.6v0.6h-0.6zM380.4,677.4h0.7v0.7h-0.7zM385.1,678.3h0.4v0.4h-0.4zM365.1,672.1h0.6v0.6h-0.6zM378.3,677.8h0.7v0.7h-0.7zM368.7,676.8h0.5v0.5h-0.5zM377.8,678.7h0.6v0.6h-0.6zM373.0,685.3h0.5v0.5h-0.5zM381.1,679.7h0.5v0.5h-0.5zM372.1,682.5h0.7v0.7h-0.7zM381.6,677.2h0.5v0.5h-0.5zM364.2,683.5h0.5v0.5h-0.5zM363.5,675.0h0.6v0.6h-0.6zM382.1,684.5h0.6v0.6h-0.6zM362.2,676.6h0.4v0.4h-0.4zM382.0,675.2h0.7v0.7h-0.7zM387.0,670.7h0.5v0.5h-0.5zM379.6,679.5h0.5v0.5h-0.5zM381.4,684.9h0.4v0.4h-0.4zM375.2,674.4h0.7v0.7h-0.7zM376.1,675.1h0.4v0.4h-0.4zM377.4,678.6h0.6v0.6h-0.6zM383.9,678.0h0.5v0.5h-0.5zM383.0,671.0h0.4v0.4h-0.4zM373.5,678.0h0.5v0.5h-0.5zM378.0,682.7h0.7v0.7h-0.7zM372.8,675.0h0.5v0.5h-0.5zM382.9,682.1h0.4v0.4h-0.4zM385.9,683.3h0.4v0.4h-0.4zM374.6,677.3h0.6v0.6h-0.6zM385.9,681.0h0.4v0.4h-0.4zM379.1,673.4h0.5v0.5h-0.5zM383.0,686.0h0.4v0.4h-0.4zM384.2,682.0h0.5v0.5h-0.5zM373.9,679.4h0.5v0.5h-0.5zM384.8,680.1h0.7v0.7h-0.7zM373.4,679.9h0.6v0.6h-0.6zM378.6,692.4h0.6v0.6h-0.6zM376.9,681.7h0.7v0.7h-0.7zM379.7,675.2h0.7v0.7h-0.7zM370.2,678.1h0.7v0.7h-0.7zM378.9,685.9h0.4v0.4h-0.4zM376.1,684.1h0.7v0.7h-0.7zM377.2,678.0h0.4v0.4h-0.4zM375.6,681.5h0.4v0.4h-0.4zM380.6,677.5h0.4v0.4h-0.4zM370.6,676.2h0.5v0.5h-0.5zM376.0,679.6h0.6v0.6h-0.6zM377.7,679.0h0.4v0.4h-0.4zM378.9,678.8h0.4v0.4h-0.4zM376.1,673.9h0.5v0.5h-0.5zM378.9,678.6h0.4v0.4h-0.4zM379.9,675.5h0.4v0.4h-0.4zM372.8,680.0h0.4v0.4h-0.4zM372.4,685.9h0.6v0.6h-0.6zM375.4,680.9h0.7v0.7h-0.7zM377.4,677.9h0.4v0.4h-0.4zM371.9,679.9h0.4v0.4h-0.4zM384.5,673.5h0.6v0.6h-0.6zM378.4,678.1h0.4v0.4h-0.4zM384.7,671.5h0.4v0.4h-0.4zM373.5,677.5h0.6v0.6h-0.6zM377.5,678.8h0.6v0.6h-0.6zM376.3,676.9h0.4v0.4h-0.4zM381.2,683.3h0.6v0.6h-0.6zM377.8,679.4h0.5v0.5h-0.5zM376.8,679.9h0.5v0.5h-0.5zM377.0,682.8h0.4v0.4h-0.4zM380.1,679.5h0.6v0.6h-0.6zM376.1,689.3h0.6v0.6h-0.6zM384.5,672.4h0.7v0.7h-0.7zM378.7,678.1h0.6v0.6h-0.6zM377.7,676.6h0.5v0.5h-0.5zM373.9,680.7h0.4v0.4h-0.4zM383.3,670.9h0.5v0.5h-0.5zM377.6,676.9h0.7v0.7h-0.7zM378.2,675.0h0.6v0.6h-0.6zM382.1,678.8h0.4v0.4h-0.4zM378.2,678.8h0.5v0.5h-0.5zM381.9,678.7h0.4v0.4h-0.4zM383.1,670.6h0.5v0.5h-0.5zM378.5,677.7h0.6v0.6h-0.6zM374.5,683.5h0.4v0.4h-0.4zM378.9,677.1h0.4v0.4h-0.4zM381.7,673.7h0.6v0.6h-0.6zM378.6,677.9h0.6v0.6h-0.6zM379.3,681.0h0.7v0.7h-0.7zM378.5,669.3h0.5v0.5h-0.5zM378.4,672.7h0.6v0.6h-0.6zM375.9,690.9h0.5v0.5h-0.5zM386.1,674.3h0.6v0.6h-0.6zM378.2,673.5h0.5v0.5h-0.5zM386.0,680.6h0.6v0.6h-0.6zM365.1,684.4h0.4v0.4h-0.4zM378.6,676.8h0.4v0.4h-0.4zM378.0,676.2h0.5v0.5h-0.5zM383.2,677.0h0.6v0.6h-0.6zM378.5,677.9h0.5v0.5h-0.5zM376.6,679.1h0.4v0.4h-0.4zM376.0,684.1h0.6v0.6h-0.6zM379.1,685.6h0.4v0.4h-0.4zM364.2,676.5h0.5v0.5h-0.5zM376.9,682.8h0.7v0.7h-0.7zM381.9,682.1h0.6v0.6h-0.6zM376.3,677.2h0.6v0.6h-0.6zM380.6,681.7h0.5v0.5h-0.5zM379.3,670.3h0.6v0.6h-0.6zM379.6,678.9h0.4v0.4h-0.4zM384.0,680.1h0.4v0.4h-0.4zM379.2,679.9h0.4v0.4h-0.4zM375.5,683.9h0.5v0.5h-0.5zM377.7,678.8h0.4v0.4h-0.4zM380.7,677.8h0.6v0.6h-0.6zM381.7,679.8h0.5v0.5h-0.5zM392.3,689.2h0.5v0.5h-0.5zM375.7,679.1h0.4v0.4h-0.4zM385.1,674.2h0.6v0.6h-0.6zM372.5,671.7h0.4v0.4h-0.4zM378.6,681.6h0.4v0.4h-0.4zM380.4,678.2h0.5v0.5h-0.5zM383.3,689.2h0.6v0.6h-0.6zM380.5,675.0h0.6v0.6h-0.6zM379.3,676.4h0.6v0.6h-0.6zM376.3,682.2h0.5v0.5h-0.5zM371.0,686.1h0.5v0.5h-0.5zM376.9,679.6h0.4v0.4h-0.4zM374.7,676.2h0.6v0.6h-0.6zM380.1,674.4h0.7v0.7h-0.7zM364.9,678.4h0.5v0.5h-0.5zM379.9,680.1h0.4v0.4h-0.4zM375.4,670.3h0.4v0.4h-0.4zM375.9,678.9h0.4v0.4h-0.4zM378.0,678.1h0.4v0.4h-0.4zM376.4,665.6h0.6v0.6h-0.6zM378.6,677.7h0.5v0.5h-0.5zM377.6,681.9h0.5v0.5h-0.5zM375.0,683.5h0.5v0.5h-0.5zM375.2,672.3h0.4v0.4h-0.4zM375.0,689.9h0.5v0.5h-0.5zM376.2,676.9h0.4v0.4h-0.4zM376.9,681.0h0.5v0.5h-0.5zM389.3,675.9h0.7v0.7h-0.7zM385.4,676.2h0.6v0.6h-0.6zM381.9,669.5h0.6v0.6h-0.6zM377.5,681.3h0.5v0.5h-0.5zM387.4,675.2h0.5v0.5h-0.5zM377.9,678.8h0.7v0.7h-0.7zM382.1,678.5h0.5v0.5h-0.5zM386.3,682.5h0.6v0.6h-0.6zM374.4,682.1h0.5v0.5h-0.5zM375.5,676.6h0.5v0.5h-0.5zM382.9,681.7h0.5v0.5h-0.5zM387.9,685.9h0.7v0.7h-0.7zM378.4,684.5h0.4v0.4h-0.4zM374.0,678.2h0.5v0.5h-0.5zM378.9,680.7h0.5v0.5h-0.5zM377.3,677.2h0.4v0.4h-0.4zM373.3,681.3h0.7v0.7h-0.7zM375.5,676.9h0.6v0.6h-0.6zM379.1,663.0h0.6v0.6h-0.6zM389.0,685.7h0.6v0.6h-0.6zM372.4,682.8h0.5v0.5h-0.5zM380.8,663.6h0.4v0.4h-0.4zM379.2,673.5h0.5v0.5h-0.5zM380.2,678.1h0.6v0.6h-0.6zM379.2,681.0h0.5v0.5h-0.5zM385.9,671.7h0.6v0.6h-0.6zM387.8,668.3h0.7v0.7h-0.7zM381.3,682.8h0.6v0.6h-0.6zM378.0,678.6h0.6v0.6h-0.6zM385.5,684.7h0.5v0.5h-0.5zM377.7,668.1h0.4v0.4h-0.4zM375.8,675.9h0.4v0.4h-0.4zM377.5,677.6h0.7v0.7h-0.7zM377.1,675.2h0.4v0.4h-0.4zM382.6,688.9h0.6v0.6h-0.6zM381.6,680.6h0.4v0.4h-0.4zM379.5,678.7h0.5v0.5h-0.5zM377.5,681.7h0.6v0.6h-0.6zM372.5,683.5h0.5v0.5h-0.5zM374.6,668.2h0.6v0.6h-0.6zM384.1,676.0h0.4v0.4h-0.4zM378.0,677.9h0.7v0.7h-0.7zM379.8,674.1h0.6v0.6h-0.6zM378.1,677.1h0.5v0.5h-0.5zM371.7,678.9h0.5v0.5h-0.5zM385.8,670.4h0.6v0.6h-0.6zM380.4,678.9h0.7v0.7h-0.7zM375.1,675.8h0.4v0.4h-0.4zM380.8,682.0h0.6v0.6h-0.6zM374.2,681.5h0.5v0.5h-0.5zM383.6,678.1h0.4v0.4h-0.4zM375.8,678.6h0.7v0.7h-0.7zM384.2,679.6h0.4v0.4h-0.4zM377.4,685.5h0.5v0.5h-0.5zM378.0,685.1h0.7v0.7h-0.7zM381.8,677.7h0.4v0.4h-0.4zM376.9,677.3h0.6v0.6h-0.6zM369.7,668.2h0.6v0.6h-0.6zM377.0,679.6h0.7v0.7h-0.7zM389.0,673.6h0.6v0.6h-0.6zM378.2,678.7h0.5v0.5h-0.5zM371.5,669.9h0.5v0.5h-0.5zM376.7,677.3h0.5v0.5h-0.5zM377.9,679.0h0.7v0.7h-0.7zM375.3,678.3h0.4v0.4h-0.4zM376.4,680.8h0.4v0.4h-0.4zM383.4,678.1h0.5v0.5h-0.5zM373.8,675.7h0.5v0.5h-0.5zM381.0,682.3h0.5v0.5h-0.5zM378.2,675.7h0.5v0.5h-0.5zM385.8,674.9h0.6v0.6h-0.6zM389.3,683.9h0.4v0.4h-0.4zM373.2,675.0h0.6v0.6h-0.6zM378.1,678.1h0.7v0.7h-0.7zM391.1,683.6h0.4v0.4h-0.4zM378.4,679.3h0.4v0.4h-0.4zM379.1,678.9h0.4v0.4h-0.4zM370.4,683.8h0.4v0.4h-0.4zM373.6,674.2h0.4v0.4h-0.4zM377.8,670.9h0.7v0.7h-0.7zM370.1,671.7h0.7v0.7h-0.7zM375.4,682.7h0.4v0.4h-0.4zM383.4,689.8h0.6v0.6h-0.6zM381.2,676.5h0.4v0.4h-0.4zM378.5,677.9h0.5v0.5h-0.5zM374.4,669.4h0.5v0.5h-0.5zM380.1,678.5h0.6v0.6h-0.6zM378.0,678.8h0.5v0.5h-0.5zM378.2,677.7h0.4v0.4h-0.4zM385.0,674.6h0.5v0.5h-0.5zM386.9,677.2h0.6v0.6h-0.6zM377.0,680.6h0.4v0.4h-0.4zM382.4,683.7h0.4v0.4h-0.4zM381.9,669.9h0.5v0.5h-0.5zM371.7,676.2h0.6v0.6h-0.6zM375.0,675.3h0.5v0.5h-0.5zM378.5,677.4h0.6v0.6h-0.6zM380.2,667.8h0.5v0.5h-0.5zM379.5,670.9h0.4v0.4h-0.4zM377.5,677.8h0.7v0.7h-0.7zM383.5,683.3h0.6v0.6h-0.6zM378.6,677.5h0.5v0.5h-0.5zM380.0,677.8h0.4v0.4h-0.4zM389.2,679.8h0.4v0.4h-0.4zM386.2,681.0h0.4v0.4h-0.4zM378.6,677.9h0.5v0.5h-0.5zM381.3,681.7h0.7v0.7h-0.7zM383.5,686.0h0.4v0.4h-0.4zM378.7,677.1h0.5v0.5h-0.5zM366.4,664.0h0.5v0.5h-0.5zM380.2,672.6h0.7v0.7h-0.7zM379.6,678.8h0.6v0.6h-0.6zM382.2,679.5h0.7v0.7h-0.7zM383.4,679.8h0.5v0.5h-0.5zM367.0,685.2h0.6v0.6h-0.6zM379.7,685.4h0.4v0.4h-0.4zM378.2,682.2h0.4v0.4h-0.4zM378.6,676.0h0.6v0.6h-0.6zM377.1,682.2h0.5v0.5h-0.5zM378.6,678.0h0.7v0.7h-0.7zM379.3,677.0h0.6v0.6h-0.6zM376.3,688.5h0.5v0.5h-0.5zM375.5,678.2h0.6v0.6h-0.6zM376.5,676.5h0.5v0.5h-0.5zM375.6,676.3h0.7v0.7h-0.7zM376.6,680.2h0.6v0.6h-0.6zM382.0,673.8h0.7v0.7h-0.7zM375.0,689.2h0.4v0.4h-0.4zM379.2,678.5h0.7v0.7h-0.7zM378.6,678.0h0.6v0.6h-0.6zM382.4,680.7h0.4v0.4h-0.4zM373.9,685.2h0.7v0.7h-0.7zM375.7,664.8h0.4v0.4h-0.4zM379.7,690.1h0.6v0.6h-0.6zM375.7,670.9h0.4v0.4h-0.4zM376.9,678.7h0.4v0.4h-0.4zM384.1,678.6h0.7v0.7h-0.7zM378.7,678.1h0.5v0.5h-0.5zM380.9,680.7h0.6v0.6h-0.6zM379.6,679.3h0.6v0.6h-0.6zM373.9,677.9h0.5v0.5h-0.5zM381.9,676.0h0.5v0.5h-0.5zM381.4,690.8h0.6v0.6h-0.6zM378.1,680.6h0.4v0.4h-0.4zM378.3,679.6h0.5v0.5h-0.5zM377.8,678.3h0.5v0.5h-0.5zM372.1,685.4h0.6v0.6h-0.6zM377.9,677.7h0.5v0.5h-0.5zM373.7,665.7h0.6v0.6h-0.6zM377.3,678.8h0.5v0.5h-0.5zM373.0,681.0h0.5v0.5h-0.5zM377.6,678.5h0.4v0.4h-0.4zM387.4,677.8h0.7v0.7h-0.7zM378.5,678.2h0.6v0.6h-0.6zM378.3,678.1h0.4v0.4h-0.4zM380.9,674.3h0.6v0.6h-0.6zM386.5,672.7h0.5v0.5h-0.5zM376.6,675.5h0.5v0.5h-0.5zM378.4,678.2h0.6v0.6h-0.6zM378.5,677.9h0.5v0.5h-0.5zM374.5,675.3h0.6v0.6h-0.6zM378.5,677.7h0.5v0.5h-0.5zM377.0,671.8h0.6v0.6h-0.6zM376.3,673.5h0.5v0.5h-0.5zM375.4,674.7h0.6v0.6h-0.6zM378.4,679.1h0.7v0.7h-0.7zM377.1,678.1h0.5v0.5h-0.5zM379.9,685.5h0.4v0.4h-0.4zM385.5,674.5h0.5v0.5h-0.5zM379.1,676.6h0.4v0.4h-0.4zM380.0,680.7h0.6v0.6h-0.6zM381.5,672.2h0.7v0.7h-0.7zM382.6,673.4h0.6v0.6h-0.6zM379.2,676.3h0.4v0.4h-0.4z" fill="#222" opacity="0.4275"/><circle cx="360.8" cy="672" r="6.5" fill="url(#col)" opacity="0.5"/><path d="M360.8,672.0h0.5v0.5h-0.5zM361.3,670.6h0.5v0.5h-0.5zM358.1,672.8h0.7v0.7h-0.7zM360.2,670.4h0.5v0.5h-0.5zM359.2,672.2h0.4v0.4h-0.4zM358.6,667.3h0.5v0.5h-0.5zM360.6,672.0h0.5v0.5h-0.5zM358.5,674.1h0.4v0.4h-0.4zM361.1,673.0h0.4v0.4h-0.4zM360.7,671.5h0.4v0.4h-0.4zM360.7,672.3h0.4v0.4h-0.4zM356.8,667.4h0.7v0.7h-0.7zM362.3,676.9h0.6v0.6h-0.6zM358.9,673.9h0.4v0.4h-0.4zM357.6,673.2h0.5v0.5h-0.5zM357.6,674.1h0.6v0.6h-0.6zM361.5,670.2h0.6v0.6h-0.6zM363.1,670.8h0.4v0.4h-0.4zM361.5,671.9h0.6v0.6h-0.6zM359.3,674.7h0.4v0.4h-0.4zM360.9,669.1h0.5v0.5h-0.5zM363.0,670.4h0.6v0.6h-0.6zM363.8,672.5h0.5v0.5h-0.5zM361.9,670.3h0.5v0.5h-0.5zM358.1,672.4h0.5v0.5h-0.5zM358.6,671.8h0.6v0.6h-0.6zM360.7,671.8h0.4v0.4h-0.4zM359.4,669.0h0.5v0.5h-0.5zM360.8,671.8h0.4v0.4h-0.4zM362.2,672.8h0.6v0.6h-0.6zM364.5,674.8h0.5v0.5h-0.5zM363.5,673.0h0.6v0.6h-0.6zM360.5,670.9h0.6v0.6h-0.6zM360.7,672.1h0.6v0.6h-0.6zM363.5,672.0h0.4v0.4h-0.4zM357.8,677.2h0.5v0.5h-0.5zM363.4,672.1h0.4v0.4h-0.4zM360.7,672.2h0.4v0.4h-0.4zM363.1,669.2h0.5v0.5h-0.5zM362.1,672.4h0.5v0.5h-0.5zM362.2,670.5h0.4v0.4h-0.4zM362.6,677.8h0.4v0.4h-0.4zM358.3,671.4h0.5v0.5h-0.5zM358.6,670.7h0.5v0.5h-0.5zM361.5,669.9h0.5v0.5h-0.5zM367.4,674.2h0.5v0.5h-0.5zM357.4,671.3h0.5v0.5h-0.5zM360.5,674.2h0.6v0.6h-0.6zM360.4,673.4h0.6v0.6h-0.6zM355.4,673.6h0.7v0.7h-0.7zM360.0,672.3h0.5v0.5h-0.5zM360.3,671.4h0.4v0.4h-0.4zM363.4,669.0h0.4v0.4h-0.4zM362.5,671.1h0.5v0.5h-0.5zM362.3,667.4h0.6v0.6h-0.6zM360.8,672.1h0.4v0.4h-0.4zM363.1,668.2h0.4v0.4h-0.4zM365.4,675.4h0.4v0.4h-0.4zM361.5,668.9h0.6v0.6h-0.6zM360.8,673.0h0.7v0.7h-0.7zM360.6,671.4h0.6v0.6h-0.6zM361.7,672.2h0.6v0.6h-0.6zM360.7,672.4h0.5v0.5h-0.5zM356.8,670.4h0.4v0.4h-0.4zM363.2,670.5h0.4v0.4h-0.4zM362.5,666.7h0.7v0.7h-0.7zM358.4,674.0h0.6v0.6h-0.6zM360.9,672.6h0.5v0.5h-0.5zM365.1,674.8h0.5v0.5h-0.5zM360.3,671.0h0.4v0.4h-0.4zM363.3,667.3h0.7v0.7h-0.7zM365.5,670.1h0.5v0.5h-0.5zM360.0,675.0h0.5v0.5h-0.5zM364.8,670.1h0.4v0.4h-0.4zM357.9,672.3h0.5v0.5h-0.5zM363.6,673.7h0.4v0.4h-0.4zM360.1,676.9h0.4v0.4h-0.4zM364.3,670.2h0.4v0.4h-0.4zM358.4,670.3h0.7v0.7h-0.7zM360.5,671.5h0.4v0.4h-0.4zM359.6,674.0h0.6v0.6h-0.6zM361.1,672.7h0.6v0.6h-0.6zM359.7,675.6h0.4v0.4h-0.4zM359.1,671.4h0.6v0.6h-0.6zM360.1,671.5h0.5v0.5h-0.5zM361.0,672.1h0.6v0.6h-0.6zM362.6,674.0h0.5v0.5h-0.5zM360.1,670.8h0.4v0.4h-0.4zM362.1,674.4h0.6v0.6h-0.6zM361.5,671.3h0.5v0.5h-0.5zM364.1,676.5h0.4v0.4h-0.4zM357.1,672.1h0.5v0.5h-0.5zM362.2,673.3h0.5v0.5h-0.5zM360.4,672.0h0.5v0.5h-0.5zM361.4,673.7h0.4v0.4h-0.4zM360.9,673.2h0.7v0.7h-0.7zM360.4,672.0h0.7v0.7h-0.7zM360.4,672.0h0.6v0.6h-0.6zM360.0,671.6h0.6v0.6h-0.6zM362.0,673.8h0.4v0.4h-0.4z" fill="#222" opacity="0.225"/><circle cx="389.3" cy="631.8" r="6.5" fill="url(#col)" opacity="0.45"/><path d="M392.3,632.4h0.5v0.5h-0.5zM391.2,630.2h0.4v0.4h-0.4zM388.9,631.6h0.6v0.6h-0.6zM388.2,627.6h0.4v0.4h-0.4zM389.5,639.3h0.4v0.4h-0.4zM385.3,628.1h0.6v0.6h-0.6zM390.6,628.8h0.5v0.5h-0.5zM393.7,629.4h0.4v0.4h-0.4zM391.9,630.8h0.4v0.4h-0.4zM389.4,633.5h0.6v0.6h-0.6zM388.5,630.2h0.4v0.4h-0.4zM390.1,634.1h0.4v0.4h-0.4zM383.9,641.4h0.6v0.6h-0.6zM387.6,632.0h0.5v0.5h-0.5zM390.1,627.3h0.6v0.6h-0.6zM390.2,634.6h0.6v0.6h-0.6zM389.5,631.5h0.6v0.6h-0.6zM388.5,632.9h0.4v0.4h-0.4zM391.8,631.3h0.4v0.4h-0.4zM391.5,627.6h0.7v0.7h-0.7zM389.5,631.7h0.6v0.6h-0.6zM384.1,628.5h0.5v0.5h-0.5zM389.9,630.5h0.5v0.5h-0.5zM395.5,630.2h0.5v0.5h-0.5zM395.3,629.7h0.6v0.6h-0.6zM389.2,637.5h0.6v0.6h-0.6zM389.4,632.9h0.4v0.4h-0.4zM385.9,632.0h0.7v0.7h-0.7zM389.0,631.1h0.6v0.6h-0.6zM390.2,628.8h0.6v0.6h-0.6zM390.7,631.3h0.4v0.4h-0.4zM387.6,629.4h0.6v0.6h-0.6zM386.6,636.1h0.6v0.6h-0.6zM392.8,631.9h0.5v0.5h-0.5zM393.8,632.3h0.5v0.5h-0.5zM386.3,629.5h0.5v0.5h-0.5zM388.9,632.4h0.6v0.6h-0.6zM387.1,629.8h0.5v0.5h-0.5zM389.9,632.1h0.5v0.5h-0.5zM386.6,627.6h0.6v0.6h-0.6zM389.6,632.1h0.6v0.6h-0.6zM389.6,632.6h0.4v0.4h-0.4zM390.7,631.4h0.7v0.7h-0.7zM387.9,630.7h0.7v0.7h-0.7zM382.9,636.8h0.5v0.5h-0.5zM389.3,631.8h0.4v0.4h-0.4zM390.3,630.0h0.4v0.4h-0.4zM390.8,634.8h0.7v0.7h-0.7zM388.4,632.1h0.5v0.5h-0.5zM391.2,633.2h0.5v0.5h-0.5zM391.3,629.4h0.7v0.7h-0.7zM389.5,631.6h0.6v0.6h-0.6zM391.5,633.0h0.7v0.7h-0.7zM387.7,633.7h0.6v0.6h-0.6zM387.4,629.7h0.6v0.6h-0.6zM391.6,630.3h0.5v0.5h-0.5zM388.6,632.6h0.6v0.6h-0.6zM389.2,631.6h0.5v0.5h-0.5zM389.3,631.8h0.6v0.6h-0.6zM389.3,625.0h0.4v0.4h-0.4zM386.9,636.5h0.7v0.7h-0.7zM393.0,636.6h0.6v0.6h-0.6zM386.5,630.4h0.6v0.6h-0.6zM388.7,631.1h0.4v0.4h-0.4zM389.4,630.8h0.5v0.5h-0.5zM393.2,631.3h0.6v0.6h-0.6zM389.8,630.5h0.7v0.7h-0.7zM388.6,629.0h0.6v0.6h-0.6zM388.9,634.0h0.6v0.6h-0.6zM390.3,628.3h0.5v0.5h-0.5zM393.5,636.9h0.4v0.4h-0.4zM389.3,631.1h0.4v0.4h-0.4zM388.3,634.2h0.5v0.5h-0.5zM390.2,631.6h0.7v0.7h-0.7zM390.4,634.4h0.4v0.4h-0.4zM386.2,638.4h0.5v0.5h-0.5zM389.5,631.9h0.5v0.5h-0.5zM392.5,631.1h0.4v0.4h-0.4zM390.2,634.7h0.6v0.6h-0.6zM388.0,630.3h0.6v0.6h-0.6zM388.1,634.7h0.5v0.5h-0.5zM385.1,630.2h0.6v0.6h-0.6zM389.3,631.3h0.7v0.7h-0.7zM386.3,631.2h0.5v0.5h-0.5zM389.1,631.6h0.4v0.4h-0.4zM391.9,626.9h0.5v0.5h-0.5zM387.9,633.7h0.4v0.4h-0.4zM390.2,632.2h0.5v0.5h-0.5zM389.3,630.3h0.6v0.6h-0.6zM391.6,633.7h0.5v0.5h-0.5zM386.5,628.2h0.6v0.6h-0.6zM389.4,630.9h0.5v0.5h-0.5zM389.4,631.7h0.5v0.5h-0.5zM390.3,629.0h0.5v0.5h-0.5zM390.4,634.3h0.5v0.5h-0.5zM387.9,629.3h0.7v0.7h-0.7zM389.7,632.3h0.5v0.5h-0.5zM388.3,631.8h0.6v0.6h-0.6zM387.9,629.3h0.6v0.6h-0.6zM389.1,633.3h0.6v0.6h-0.6z" fill="#222" opacity="0.2025"/><circle cx="399" cy="694" r="7.800000000000001" fill="url(#col)" opacity="0.95"/><path d="M399.3,692.9h0.6v0.6h-0.6zM399.0,692.1h0.5v0.5h-0.5zM403.2,690.9h0.6v0.6h-0.6zM396.7,690.9h0.7v0.7h-0.7zM400.2,695.3h0.6v0.6h-0.6zM398.1,699.8h0.4v0.4h-0.4zM397.9,693.2h0.4v0.4h-0.4zM399.5,696.7h0.4v0.4h-0.4zM395.9,687.8h0.5v0.5h-0.5zM398.7,692.9h0.4v0.4h-0.4zM399.1,693.9h0.6v0.6h-0.6zM399.2,694.2h0.4v0.4h-0.4zM403.4,695.7h0.6v0.6h-0.6zM400.6,694.4h0.6v0.6h-0.6zM399.7,694.6h0.5v0.5h-0.5zM396.4,698.7h0.5v0.5h-0.5zM399.1,694.7h0.6v0.6h-0.6zM399.9,691.6h0.5v0.5h-0.5zM399.2,694.0h0.5v0.5h-0.5zM398.2,694.4h0.4v0.4h-0.4zM398.4,693.4h0.5v0.5h-0.5zM393.9,693.6h0.6v0.6h-0.6zM400.3,702.6h0.6v0.6h-0.6zM408.2,691.7h0.5v0.5h-0.5zM403.0,693.7h0.4v0.4h-0.4zM397.2,694.6h0.6v0.6h-0.6zM398.1,690.7h0.4v0.4h-0.4zM398.2,694.6h0.4v0.4h-0.4zM399.1,694.4h0.5v0.5h-0.5zM400.5,698.4h0.6v0.6h-0.6zM399.2,694.5h0.6v0.6h-0.6zM403.9,693.2h0.6v0.6h-0.6zM404.2,692.3h0.6v0.6h-0.6zM401.8,695.2h0.4v0.4h-0.4zM403.1,694.3h0.6v0.6h-0.6zM398.6,698.7h0.5v0.5h-0.5zM403.2,701.0h0.5v0.5h-0.5zM407.5,696.4h0.4v0.4h-0.4zM395.5,698.5h0.5v0.5h-0.5zM402.3,696.5h0.4v0.4h-0.4zM399.4,694.6h0.7v0.7h-0.7zM402.7,691.7h0.6v0.6h-0.6zM398.1,694.1h0.4v0.4h-0.4zM397.3,693.3h0.5v0.5h-0.5zM399.0,694.0h0.7v0.7h-0.7zM398.8,693.2h0.7v0.7h-0.7zM404.8,693.3h0.5v0.5h-0.5zM399.9,691.7h0.6v0.6h-0.6zM400.8,696.0h0.6v0.6h-0.6zM398.8,694.2h0.4v0.4h-0.4zM399.5,693.1h0.4v0.4h-0.4zM402.3,691.3h0.5v0.5h-0.5zM401.2,695.0h0.7v0.7h-0.7zM394.1,694.5h0.6v0.6h-0.6zM399.1,694.3h0.5v0.5h-0.5zM405.7,699.1h0.6v0.6h-0.6zM399.9,694.9h0.6v0.6h-0.6zM396.3,690.9h0.6v0.6h-0.6zM393.7,696.1h0.4v0.4h-0.4zM396.5,694.5h0.5v0.5h-0.5zM398.7,693.4h0.6v0.6h-0.6zM398.0,691.4h0.5v0.5h-0.5zM401.8,697.4h0.4v0.4h-0.4zM399.2,696.8h0.7v0.7h-0.7zM399.7,699.3h0.6v0.6h-0.6zM396.1,690.8h0.6v0.6h-0.6zM407.6,696.1h0.6v0.6h-0.6zM404.8,695.4h0.4v0.4h-0.4zM399.1,696.5h0.6v0.6h-0.6zM400.0,693.5h0.6v0.6h-0.6zM399.2,693.9h0.4v0.4h-0.4zM399.1,691.8h0.4v0.4h-0.4zM399.6,693.9h0.6v0.6h-0.6zM400.3,696.1h0.5v0.5h-0.5zM400.5,695.2h0.7v0.7h-0.7zM407.0,694.1h0.6v0.6h-0.6zM397.1,693.3h0.6v0.6h-0.6zM395.6,691.7h0.6v0.6h-0.6zM403.1,696.2h0.5v0.5h-0.5zM397.7,695.0h0.4v0.4h-0.4zM398.8,686.7h0.6v0.6h-0.6zM397.9,694.3h0.4v0.4h-0.4zM398.4,693.1h0.4v0.4h-0.4zM402.9,693.4h0.5v0.5h-0.5zM395.9,698.2h0.6v0.6h-0.6zM401.0,691.1h0.4v0.4h-0.4zM397.6,695.6h0.4v0.4h-0.4zM394.1,690.1h0.7v0.7h-0.7zM399.2,692.5h0.4v0.4h-0.4zM399.0,693.9h0.6v0.6h-0.6zM395.2,693.5h0.6v0.6h-0.6zM398.3,693.1h0.7v0.7h-0.7zM398.7,691.5h0.6v0.6h-0.6zM397.3,685.9h0.4v0.4h-0.4zM398.0,691.8h0.7v0.7h-0.7zM400.4,697.0h0.7v0.7h-0.7zM398.2,694.3h0.5v0.5h-0.5zM397.3,696.3h0.5v0.5h-0.5zM407.5,699.8h0.6v0.6h-0.6zM402.5,692.4h0.6v0.6h-0.6zM402.4,688.4h0.4v0.4h-0.4zM399.0,694.2h0.5v0.5h-0.5zM400.0,694.1h0.7v0.7h-0.7zM395.2,701.1h0.6v0.6h-0.6zM399.8,688.7h0.5v0.5h-0.5zM402.5,696.7h0.6v0.6h-0.6zM398.0,696.4h0.5v0.5h-0.5zM401.6,693.4h0.4v0.4h-0.4zM396.2,693.4h0.7v0.7h-0.7zM395.7,696.2h0.7v0.7h-0.7zM398.4,692.5h0.4v0.4h-0.4zM398.9,694.3h0.7v0.7h-0.7zM399.4,694.0h0.7v0.7h-0.7zM401.8,699.5h0.5v0.5h-0.5zM398.1,691.8h0.6v0.6h-0.6zM399.1,700.0h0.4v0.4h-0.4zM400.0,694.2h0.4v0.4h-0.4zM401.4,693.4h0.6v0.6h-0.6zM396.5,692.4h0.6v0.6h-0.6zM397.5,698.1h0.4v0.4h-0.4zM402.4,695.5h0.4v0.4h-0.4zM399.3,694.2h0.5v0.5h-0.5zM400.2,693.8h0.6v0.6h-0.6zM400.3,696.6h0.4v0.4h-0.4zM397.4,698.7h0.5v0.5h-0.5zM398.6,690.8h0.4v0.4h-0.4zM402.7,692.3h0.4v0.4h-0.4zM401.9,688.6h0.4v0.4h-0.4zM400.2,692.5h0.4v0.4h-0.4zM404.5,694.3h0.4v0.4h-0.4zM401.6,692.2h0.6v0.6h-0.6zM396.5,689.9h0.4v0.4h-0.4zM404.6,701.1h0.5v0.5h-0.5zM395.3,688.8h0.5v0.5h-0.5zM399.1,694.6h0.6v0.6h-0.6zM399.2,694.2h0.7v0.7h-0.7zM398.8,694.3h0.6v0.6h-0.6zM399.0,696.1h0.5v0.5h-0.5zM396.8,693.7h0.6v0.6h-0.6zM398.6,695.9h0.5v0.5h-0.5zM399.0,693.6h0.4v0.4h-0.4zM397.1,695.7h0.5v0.5h-0.5zM394.1,688.0h0.4v0.4h-0.4zM398.3,692.8h0.6v0.6h-0.6z" fill="#222" opacity="0.4275"/></g><text x="310.5" y="635.4" font-size="8.6" textLength="35" lengthAdjust="spacingAndGlyphs" fill="#1a1a1a" stroke="#1a1a1a" stroke-width="0.3" >scramble</text><text x="310.5" y="695.2" font-size="8.8" textLength="16.5" lengthAdjust="spacingAndGlyphs" fill="#1a1a1a" stroke="#1a1a1a" stroke-width="0.3" >2,5x</text><path d="M328.2,626.2h0.4v0.4h-0.4zM316.5,658.0h0.5v0.5h-0.5zM314.3,632.7h0.4v0.4h-0.4zM322.2,641.1h0.4v0.4h-0.4zM316.7,629.0h0.4v0.4h-0.4zM351.4,693.3h0.5v0.5h-0.5zM312.1,640.5h0.5v0.5h-0.5zM360.7,688.4h0.6v0.6h-0.6zM389.9,632.1h0.6v0.6h-0.6zM357.0,641.7h0.4v0.4h-0.4zM390.6,639.7h0.3v0.3h-0.3zM331.3,692.4h0.4v0.4h-0.4zM377.4,629.5h0.4v0.4h-0.4zM336.5,639.2h0.5v0.5h-0.5zM340.8,632.9h0.6v0.6h-0.6zM352.7,637.3h0.3v0.3h-0.3zM369.6,662.1h0.3v0.3h-0.3zM351.6,678.8h0.5v0.5h-0.5zM328.2,660.9h0.5v0.5h-0.5zM369.5,634.7h0.5v0.5h-0.5zM398.6,678.8h0.6v0.6h-0.6zM341.4,690.8h0.4v0.4h-0.4zM327.5,668.2h0.6v0.6h-0.6zM313.1,640.1h0.3v0.3h-0.3zM348.5,634.4h0.4v0.4h-0.4zM379.1,667.2h0.6v0.6h-0.6zM344.8,674.3h0.3v0.3h-0.3zM398.9,641.2h0.4v0.4h-0.4zM355.7,694.2h0.4v0.4h-0.4zM403.2,670.0h0.4v0.4h-0.4zM387.6,638.9h0.6v0.6h-0.6zM350.2,640.7h0.6v0.6h-0.6zM336.9,654.1h0.4v0.4h-0.4zM371.2,625.7h0.4v0.4h-0.4zM321.0,685.3h0.3v0.3h-0.3zM365.1,643.1h0.4v0.4h-0.4zM360.6,676.7h0.3v0.3h-0.3zM328.8,632.9h0.6v0.6h-0.6zM319.8,634.1h0.5v0.5h-0.5zM362.6,689.6h0.3v0.3h-0.3zM328.2,636.4h0.5v0.5h-0.5zM349.8,654.3h0.6v0.6h-0.6zM370.5,687.7h0.6v0.6h-0.6zM331.6,693.7h0.4v0.4h-0.4zM310.1,691.7h0.3v0.3h-0.3zM306.7,645.4h0.4v0.4h-0.4zM400.7,688.4h0.4v0.4h-0.4zM357.4,686.8h0.5v0.5h-0.5zM369.7,661.9h0.3v0.3h-0.3zM329.1,672.7h0.5v0.5h-0.5zM384.3,690.5h0.6v0.6h-0.6zM324.1,629.6h0.6v0.6h-0.6zM361.5,637.4h0.5v0.5h-0.5zM330.3,641.5h0.4v0.4h-0.4zM356.9,674.1h0.3v0.3h-0.3zM378.4,670.2h0.4v0.4h-0.4zM371.5,683.2h0.3v0.3h-0.3zM352.1,674.2h0.5v0.5h-0.5zM369.1,637.3h0.6v0.6h-0.6zM382.8,641.2h0.4v0.4h-0.4zM399.8,639.3h0.4v0.4h-0.4zM400.2,690.6h0.4v0.4h-0.4zM377.8,650.6h0.5v0.5h-0.5zM380.9,633.4h0.4v0.4h-0.4zM326.3,643.7h0.3v0.3h-0.3zM318.5,654.1h0.4v0.4h-0.4zM312.7,667.1h0.6v0.6h-0.6zM362.1,650.3h0.5v0.5h-0.5zM348.3,637.0h0.4v0.4h-0.4zM306.7,674.0h0.3v0.3h-0.3zM341.6,695.2h0.5v0.5h-0.5zM387.7,671.5h0.5v0.5h-0.5zM374.8,695.5h0.4v0.4h-0.4zM380.9,646.3h0.4v0.4h-0.4zM386.3,668.5h0.6v0.6h-0.6zM391.6,667.6h0.4v0.4h-0.4zM306.5,663.6h0.5v0.5h-0.5zM332.0,629.2h0.3v0.3h-0.3zM322.1,675.5h0.3v0.3h-0.3zM327.8,643.6h0.5v0.5h-0.5zM402.7,625.4h0.3v0.3h-0.3zM397.5,695.8h0.3v0.3h-0.3zM338.2,662.7h0.4v0.4h-0.4zM346.3,659.4h0.4v0.4h-0.4zM310.4,630.2h0.3v0.3h-0.3zM314.0,670.2h0.5v0.5h-0.5zM331.0,682.6h0.5v0.5h-0.5zM338.8,660.4h0.4v0.4h-0.4zM397.0,665.5h0.3v0.3h-0.3zM320.2,675.3h0.4v0.4h-0.4zM376.0,641.0h0.5v0.5h-0.5zM384.4,631.0h0.5v0.5h-0.5zM323.9,676.4h0.5v0.5h-0.5zM383.3,641.1h0.3v0.3h-0.3zM370.7,665.8h0.3v0.3h-0.3zM324.1,667.1h0.3v0.3h-0.3zM367.8,641.8h0.4v0.4h-0.4zM346.9,663.5h0.5v0.5h-0.5zM308.1,677.6h0.4v0.4h-0.4zM333.8,671.3h0.5v0.5h-0.5zM365.9,690.7h0.4v0.4h-0.4zM335.8,673.0h0.4v0.4h-0.4zM320.6,640.7h0.5v0.5h-0.5zM386.9,677.0h0.6v0.6h-0.6zM383.6,646.9h0.4v0.4h-0.4zM376.4,628.1h0.5v0.5h-0.5zM313.8,627.6h0.5v0.5h-0.5zM320.0,692.9h0.6v0.6h-0.6zM350.7,638.6h0.3v0.3h-0.3zM355.2,662.6h0.4v0.4h-0.4zM375.9,663.2h0.5v0.5h-0.5zM315.5,629.2h0.4v0.4h-0.4zM352.9,642.7h0.5v0.5h-0.5zM327.0,647.5h0.4v0.4h-0.4zM375.5,681.0h0.4v0.4h-0.4zM349.2,692.6h0.6v0.6h-0.6zM366.3,631.8h0.4v0.4h-0.4zM368.0,644.6h0.3v0.3h-0.3zM402.1,691.3h0.3v0.3h-0.3zM351.1,669.8h0.4v0.4h-0.4zM311.8,679.6h0.5v0.5h-0.5zM348.3,630.3h0.4v0.4h-0.4zM314.3,695.3h0.3v0.3h-0.3zM333.5,680.8h0.3v0.3h-0.3zM315.5,629.2h0.3v0.3h-0.3zM357.7,685.6h0.4v0.4h-0.4zM322.2,680.6h0.4v0.4h-0.4zM338.5,633.1h0.4v0.4h-0.4zM401.2,632.7h0.4v0.4h-0.4zM378.3,690.0h0.6v0.6h-0.6zM351.8,694.8h0.5v0.5h-0.5zM333.6,658.4h0.5v0.5h-0.5zM377.7,633.6h0.4v0.4h-0.4zM399.9,631.9h0.5v0.5h-0.5zM338.5,642.3h0.4v0.4h-0.4zM351.5,697.3h0.3v0.3h-0.3zM389.6,647.8h0.4v0.4h-0.4zM378.7,649.3h0.4v0.4h-0.4zM346.4,684.8h0.6v0.6h-0.6zM361.9,624.8h0.5v0.5h-0.5zM365.0,690.6h0.6v0.6h-0.6zM337.4,686.8h0.5v0.5h-0.5zM331.3,651.1h0.4v0.4h-0.4zM339.9,652.0h0.3v0.3h-0.3zM327.5,691.3h0.4v0.4h-0.4zM367.9,689.7h0.5v0.5h-0.5zM329.2,692.0h0.5v0.5h-0.5zM403.1,677.9h0.5v0.5h-0.5zM385.5,642.7h0.5v0.5h-0.5zM342.7,686.1h0.3v0.3h-0.3zM358.4,648.9h0.5v0.5h-0.5zM339.2,686.4h0.6v0.6h-0.6zM392.0,634.3h0.6v0.6h-0.6zM378.7,674.1h0.5v0.5h-0.5zM309.8,688.4h0.5v0.5h-0.5zM350.1,649.1h0.5v0.5h-0.5zM382.4,688.4h0.4v0.4h-0.4zM338.7,642.5h0.3v0.3h-0.3zM337.4,625.9h0.5v0.5h-0.5zM327.5,629.2h0.3v0.3h-0.3zM378.4,638.7h0.4v0.4h-0.4zM344.8,683.4h0.6v0.6h-0.6zM335.7,670.8h0.6v0.6h-0.6zM351.6,690.6h0.5v0.5h-0.5zM335.8,688.7h0.5v0.5h-0.5zM315.5,667.5h0.5v0.5h-0.5zM356.3,659.8h0.4v0.4h-0.4zM392.2,673.2h0.4v0.4h-0.4zM340.9,650.9h0.6v0.6h-0.6zM373.9,633.2h0.6v0.6h-0.6zM308.5,667.7h0.4v0.4h-0.4zM376.0,655.8h0.3v0.3h-0.3zM356.8,684.7h0.5v0.5h-0.5zM340.3,640.5h0.5v0.5h-0.5zM384.4,640.2h0.6v0.6h-0.6zM403.3,656.1h0.4v0.4h-0.4zM375.3,692.8h0.4v0.4h-0.4zM334.9,648.3h0.5v0.5h-0.5zM323.5,664.5h0.5v0.5h-0.5zM371.2,634.6h0.6v0.6h-0.6zM404.0,665.5h0.5v0.5h-0.5zM323.2,691.4h0.5v0.5h-0.5zM380.2,688.3h0.4v0.4h-0.4z" fill="#333" opacity="0.25"/><g clip-path="url(#clip414)"><rect x="414" y="624" width="98.4" height="73.5" fill="url(#bg2)"/><rect x="414" y="624" width="98.4" height="73.5" fill="url(#vl)"/><rect x="414" y="624" width="98.4" height="73.5" fill="url(#vbl)"/><rect x="414" y="624" width="98.4" height="73.5" fill="url(#vr)"/><circle cx="454.2" cy="655" r="6.5" fill="url(#col)" opacity="0.95"/><path d="M454.4,654.9h0.5v0.5h-0.5zM454.7,654.6h0.7v0.7h-0.7zM461.4,652.9h0.5v0.5h-0.5zM454.5,655.4h0.6v0.6h-0.6zM455.5,651.3h0.4v0.4h-0.4zM453.9,657.0h0.5v0.5h-0.5zM452.8,654.9h0.4v0.4h-0.4zM454.0,655.2h0.6v0.6h-0.6zM454.2,654.8h0.5v0.5h-0.5zM455.3,657.2h0.6v0.6h-0.6zM455.3,654.3h0.6v0.6h-0.6zM454.2,650.9h0.6v0.6h-0.6zM454.0,654.2h0.7v0.7h-0.7zM460.0,657.0h0.7v0.7h-0.7zM453.2,655.4h0.6v0.6h-0.6zM453.9,654.4h0.4v0.4h-0.4zM447.2,656.8h0.5v0.5h-0.5zM455.1,646.4h0.4v0.4h-0.4zM454.8,656.7h0.6v0.6h-0.6zM453.3,657.7h0.4v0.4h-0.4zM454.6,656.8h0.5v0.5h-0.5zM453.1,655.0h0.4v0.4h-0.4zM446.1,656.0h0.5v0.5h-0.5zM457.2,653.9h0.5v0.5h-0.5zM454.7,656.4h0.4v0.4h-0.4zM455.1,655.4h0.6v0.6h-0.6zM456.6,654.5h0.5v0.5h-0.5zM453.2,656.4h0.6v0.6h-0.6zM451.3,657.4h0.6v0.6h-0.6zM459.5,655.2h0.6v0.6h-0.6zM453.8,652.2h0.7v0.7h-0.7zM451.2,657.1h0.5v0.5h-0.5zM452.9,659.3h0.6v0.6h-0.6zM455.7,654.5h0.4v0.4h-0.4zM451.9,657.6h0.6v0.6h-0.6zM452.2,650.9h0.5v0.5h-0.5zM457.2,653.9h0.4v0.4h-0.4zM455.0,655.7h0.7v0.7h-0.7zM455.1,652.3h0.5v0.5h-0.5zM453.7,655.0h0.5v0.5h-0.5zM456.1,653.6h0.7v0.7h-0.7zM452.1,652.5h0.5v0.5h-0.5zM452.5,657.9h0.6v0.6h-0.6zM454.0,657.9h0.5v0.5h-0.5zM450.6,658.0h0.5v0.5h-0.5zM453.3,660.4h0.5v0.5h-0.5zM455.4,652.6h0.4v0.4h-0.4zM455.7,658.9h0.4v0.4h-0.4zM454.7,653.7h0.4v0.4h-0.4zM454.0,656.9h0.6v0.6h-0.6zM453.0,648.5h0.5v0.5h-0.5zM457.9,653.0h0.4v0.4h-0.4zM455.9,654.1h0.6v0.6h-0.6zM454.7,654.3h0.5v0.5h-0.5zM457.4,657.1h0.6v0.6h-0.6zM458.1,654.4h0.4v0.4h-0.4zM454.7,655.2h0.6v0.6h-0.6zM453.9,654.6h0.4v0.4h-0.4zM455.2,656.6h0.6v0.6h-0.6zM458.2,654.2h0.5v0.5h-0.5zM457.1,654.6h0.4v0.4h-0.4zM454.3,656.3h0.7v0.7h-0.7zM454.8,655.0h0.4v0.4h-0.4zM455.3,656.6h0.5v0.5h-0.5zM453.9,651.3h0.6v0.6h-0.6zM455.6,655.3h0.5v0.5h-0.5zM455.0,651.9h0.7v0.7h-0.7zM452.9,654.0h0.5v0.5h-0.5zM449.4,658.7h0.7v0.7h-0.7zM452.1,654.2h0.4v0.4h-0.4zM455.9,658.3h0.4v0.4h-0.4zM455.3,651.8h0.6v0.6h-0.6zM448.4,654.5h0.5v0.5h-0.5zM454.1,654.8h0.5v0.5h-0.5zM453.3,648.1h0.7v0.7h-0.7zM458.2,653.1h0.6v0.6h-0.6zM453.5,656.7h0.7v0.7h-0.7zM454.7,653.3h0.6v0.6h-0.6zM456.3,650.5h0.5v0.5h-0.5zM454.2,654.7h0.4v0.4h-0.4zM451.5,652.8h0.5v0.5h-0.5zM453.4,660.3h0.7v0.7h-0.7zM458.5,657.5h0.4v0.4h-0.4zM454.4,652.7h0.6v0.6h-0.6zM456.7,653.4h0.7v0.7h-0.7zM455.7,655.9h0.6v0.6h-0.6zM454.4,655.2h0.7v0.7h-0.7zM452.7,655.6h0.6v0.6h-0.6zM454.2,655.6h0.4v0.4h-0.4zM449.5,655.2h0.6v0.6h-0.6zM454.5,656.4h0.5v0.5h-0.5zM456.1,654.0h0.7v0.7h-0.7zM458.0,654.9h0.6v0.6h-0.6zM454.3,653.1h0.5v0.5h-0.5zM458.4,650.1h0.5v0.5h-0.5zM457.6,658.1h0.6v0.6h-0.6zM454.5,655.4h0.7v0.7h-0.7zM453.3,654.8h0.6v0.6h-0.6zM455.6,656.5h0.4v0.4h-0.4zM455.1,652.8h0.4v0.4h-0.4z" fill="#222" opacity="0.4275"/><circle cx="437.5" cy="650.4" r="10.4" fill="url(#col)" opacity="0.25"/><path d="M428.9,651.6h0.7v0.7h-0.7zM442.6,651.5h0.5v0.5h-0.5zM435.9,650.7h0.5v0.5h-0.5zM445.0,647.0h0.4v0.4h-0.4zM438.2,651.2h0.4v0.4h-0.4zM435.1,650.4h0.5v0.5h-0.5zM440.2,655.0h0.6v0.6h-0.6zM437.5,652.9h0.7v0.7h-0.7zM438.6,656.3h0.7v0.7h-0.7zM438.0,646.5h0.6v0.6h-0.6zM434.1,649.7h0.4v0.4h-0.4zM441.3,648.1h0.6v0.6h-0.6zM437.4,650.3h0.5v0.5h-0.5zM439.2,647.0h0.7v0.7h-0.7zM441.2,648.4h0.5v0.5h-0.5zM432.0,654.1h0.4v0.4h-0.4zM441.4,654.9h0.4v0.4h-0.4zM436.7,651.2h0.5v0.5h-0.5zM437.7,647.8h0.7v0.7h-0.7zM436.4,651.6h0.7v0.7h-0.7zM441.8,649.9h0.7v0.7h-0.7zM433.5,653.9h0.5v0.5h-0.5zM436.1,653.6h0.4v0.4h-0.4zM437.4,651.0h0.6v0.6h-0.6zM430.6,647.5h0.5v0.5h-0.5zM439.9,649.6h0.6v0.6h-0.6zM432.7,649.1h0.5v0.5h-0.5zM432.8,646.8h0.5v0.5h-0.5zM438.0,650.3h0.4v0.4h-0.4zM451.4,651.3h0.5v0.5h-0.5zM438.2,652.9h0.6v0.6h-0.6zM437.4,650.3h0.6v0.6h-0.6zM444.5,646.9h0.6v0.6h-0.6zM437.9,650.4h0.4v0.4h-0.4zM433.5,652.4h0.5v0.5h-0.5zM438.4,650.4h0.5v0.5h-0.5zM444.2,645.7h0.4v0.4h-0.4zM439.0,655.3h0.4v0.4h-0.4zM442.3,642.0h0.4v0.4h-0.4zM442.8,645.5h0.5v0.5h-0.5zM435.2,655.0h0.6v0.6h-0.6zM438.5,650.9h0.6v0.6h-0.6zM444.1,649.6h0.4v0.4h-0.4zM440.8,654.8h0.5v0.5h-0.5zM429.1,636.9h0.7v0.7h-0.7zM434.1,647.1h0.6v0.6h-0.6zM438.0,651.2h0.5v0.5h-0.5zM442.8,646.6h0.4v0.4h-0.4zM438.5,651.7h0.6v0.6h-0.6zM438.3,648.0h0.4v0.4h-0.4zM431.5,650.3h0.5v0.5h-0.5zM434.6,649.6h0.4v0.4h-0.4zM440.7,651.6h0.6v0.6h-0.6zM437.6,652.2h0.6v0.6h-0.6zM437.8,655.3h0.5v0.5h-0.5zM435.8,653.2h0.6v0.6h-0.6zM438.3,655.1h0.5v0.5h-0.5zM428.9,650.2h0.7v0.7h-0.7zM436.8,649.9h0.4v0.4h-0.4zM436.6,652.0h0.4v0.4h-0.4zM435.1,647.2h0.5v0.5h-0.5zM439.4,649.6h0.4v0.4h-0.4zM438.4,651.7h0.7v0.7h-0.7zM436.3,646.2h0.5v0.5h-0.5zM438.8,652.6h0.6v0.6h-0.6zM437.1,649.8h0.4v0.4h-0.4zM433.4,646.3h0.5v0.5h-0.5zM439.3,651.7h0.6v0.6h-0.6zM436.8,647.3h0.6v0.6h-0.6zM437.3,650.5h0.6v0.6h-0.6zM437.8,650.6h0.4v0.4h-0.4zM437.3,650.6h0.4v0.4h-0.4zM442.9,653.7h0.5v0.5h-0.5zM435.9,665.6h0.6v0.6h-0.6zM438.6,656.8h0.5v0.5h-0.5zM440.1,654.2h0.4v0.4h-0.4zM426.3,647.3h0.4v0.4h-0.4zM436.8,650.4h0.5v0.5h-0.5zM438.5,653.2h0.6v0.6h-0.6zM436.1,655.5h0.7v0.7h-0.7zM438.6,647.8h0.5v0.5h-0.5zM437.8,650.7h0.6v0.6h-0.6zM433.4,638.5h0.4v0.4h-0.4zM436.0,643.9h0.6v0.6h-0.6zM438.1,650.9h0.6v0.6h-0.6zM437.2,648.9h0.5v0.5h-0.5zM435.7,645.2h0.4v0.4h-0.4zM443.5,649.6h0.5v0.5h-0.5zM444.5,650.6h0.7v0.7h-0.7zM434.5,647.0h0.4v0.4h-0.4zM437.9,650.0h0.5v0.5h-0.5zM436.3,648.2h0.4v0.4h-0.4zM443.7,652.1h0.7v0.7h-0.7zM434.0,658.1h0.7v0.7h-0.7zM438.5,645.9h0.7v0.7h-0.7zM434.3,646.3h0.7v0.7h-0.7zM435.6,649.6h0.5v0.5h-0.5zM434.4,655.5h0.5v0.5h-0.5zM434.4,650.2h0.4v0.4h-0.4zM435.6,650.4h0.5v0.5h-0.5zM436.0,651.2h0.5v0.5h-0.5zM437.0,653.2h0.6v0.6h-0.6zM437.2,649.2h0.4v0.4h-0.4zM443.0,647.6h0.5v0.5h-0.5zM436.6,651.3h0.6v0.6h-0.6zM439.6,645.8h0.5v0.5h-0.5zM437.3,649.1h0.5v0.5h-0.5zM435.6,655.6h0.5v0.5h-0.5zM437.5,650.0h0.4v0.4h-0.4zM438.3,647.0h0.6v0.6h-0.6zM435.1,645.7h0.4v0.4h-0.4zM443.1,652.6h0.5v0.5h-0.5zM443.5,651.6h0.6v0.6h-0.6zM439.0,650.1h0.6v0.6h-0.6zM437.7,651.7h0.6v0.6h-0.6zM437.3,648.3h0.5v0.5h-0.5zM437.0,650.9h0.6v0.6h-0.6zM442.2,646.8h0.6v0.6h-0.6zM440.9,646.7h0.5v0.5h-0.5zM439.5,650.1h0.4v0.4h-0.4zM438.7,652.3h0.6v0.6h-0.6zM431.9,660.4h0.6v0.6h-0.6zM439.9,648.5h0.6v0.6h-0.6zM436.4,651.5h0.4v0.4h-0.4zM441.5,647.6h0.6v0.6h-0.6zM437.4,652.3h0.4v0.4h-0.4zM437.1,650.8h0.5v0.5h-0.5zM437.5,649.9h0.5v0.5h-0.5zM436.5,648.2h0.4v0.4h-0.4zM436.4,648.3h0.6v0.6h-0.6zM436.6,653.4h0.7v0.7h-0.7zM438.5,660.1h0.6v0.6h-0.6zM436.9,650.1h0.5v0.5h-0.5zM436.7,649.4h0.6v0.6h-0.6zM434.9,650.2h0.5v0.5h-0.5zM435.3,651.7h0.5v0.5h-0.5zM446.8,643.8h0.4v0.4h-0.4zM443.8,642.4h0.4v0.4h-0.4zM436.6,649.9h0.6v0.6h-0.6zM437.9,649.5h0.4v0.4h-0.4zM440.0,635.4h0.4v0.4h-0.4zM436.0,651.8h0.4v0.4h-0.4zM436.3,649.2h0.5v0.5h-0.5zM430.0,656.8h0.6v0.6h-0.6zM437.9,650.7h0.5v0.5h-0.5zM446.2,650.0h0.4v0.4h-0.4zM437.4,650.4h0.4v0.4h-0.4zM437.8,650.6h0.5v0.5h-0.5zM433.6,652.2h0.6v0.6h-0.6zM437.3,650.4h0.7v0.7h-0.7zM440.4,655.7h0.5v0.5h-0.5zM437.8,650.1h0.4v0.4h-0.4zM439.6,648.4h0.6v0.6h-0.6zM434.1,649.0h0.4v0.4h-0.4zM441.6,652.8h0.4v0.4h-0.4zM436.7,649.2h0.5v0.5h-0.5zM435.3,654.6h0.5v0.5h-0.5zM429.8,654.8h0.7v0.7h-0.7zM435.9,652.3h0.6v0.6h-0.6zM436.6,648.9h0.5v0.5h-0.5zM436.7,651.0h0.5v0.5h-0.5zM442.0,642.4h0.5v0.5h-0.5zM437.1,646.8h0.7v0.7h-0.7zM437.2,649.8h0.6v0.6h-0.6zM434.1,650.5h0.4v0.4h-0.4zM437.1,649.9h0.6v0.6h-0.6zM437.4,652.1h0.6v0.6h-0.6zM438.5,652.4h0.5v0.5h-0.5zM436.5,652.8h0.5v0.5h-0.5zM436.9,649.8h0.4v0.4h-0.4zM436.5,653.0h0.6v0.6h-0.6zM438.6,644.6h0.6v0.6h-0.6zM439.1,659.4h0.5v0.5h-0.5zM437.6,646.9h0.5v0.5h-0.5zM428.5,653.4h0.6v0.6h-0.6zM438.9,651.5h0.6v0.6h-0.6zM450.0,653.0h0.6v0.6h-0.6zM436.9,656.0h0.6v0.6h-0.6zM438.8,653.1h0.4v0.4h-0.4zM441.8,646.9h0.5v0.5h-0.5zM438.7,648.3h0.7v0.7h-0.7zM439.2,656.1h0.7v0.7h-0.7zM435.0,654.3h0.4v0.4h-0.4zM438.2,650.7h0.6v0.6h-0.6zM439.2,652.0h0.4v0.4h-0.4zM440.7,648.6h0.7v0.7h-0.7zM441.3,646.3h0.6v0.6h-0.6zM437.4,650.8h0.7v0.7h-0.7zM437.7,650.0h0.4v0.4h-0.4zM440.8,648.7h0.5v0.5h-0.5zM436.1,649.2h0.6v0.6h-0.6zM435.3,650.9h0.6v0.6h-0.6zM433.4,651.6h0.4v0.4h-0.4zM437.1,638.1h0.6v0.6h-0.6zM437.5,652.2h0.4v0.4h-0.4zM438.5,655.2h0.7v0.7h-0.7zM433.4,654.9h0.4v0.4h-0.4zM437.5,650.0h0.6v0.6h-0.6zM439.1,648.8h0.5v0.5h-0.5zM437.2,647.6h0.6v0.6h-0.6zM435.0,652.1h0.7v0.7h-0.7zM437.0,650.5h0.5v0.5h-0.5zM438.1,647.8h0.5v0.5h-0.5zM440.5,643.1h0.4v0.4h-0.4zM436.9,654.3h0.5v0.5h-0.5zM433.5,648.3h0.4v0.4h-0.4zM428.9,654.0h0.4v0.4h-0.4zM437.6,650.3h0.5v0.5h-0.5zM436.0,649.3h0.6v0.6h-0.6zM437.0,652.2h0.7v0.7h-0.7zM438.4,646.3h0.5v0.5h-0.5zM433.5,642.8h0.7v0.7h-0.7zM439.1,654.4h0.5v0.5h-0.5zM439.4,653.0h0.4v0.4h-0.4zM439.0,648.7h0.4v0.4h-0.4zM435.8,649.5h0.4v0.4h-0.4zM432.1,651.3h0.5v0.5h-0.5zM438.2,649.3h0.4v0.4h-0.4zM437.9,650.2h0.6v0.6h-0.6zM436.3,649.8h0.5v0.5h-0.5zM437.7,651.2h0.6v0.6h-0.6zM438.1,654.7h0.6v0.6h-0.6zM435.0,647.1h0.4v0.4h-0.4zM434.8,647.0h0.6v0.6h-0.6zM442.1,657.0h0.4v0.4h-0.4zM438.9,648.2h0.7v0.7h-0.7zM437.5,650.4h0.4v0.4h-0.4zM439.4,651.5h0.5v0.5h-0.5zM437.5,652.2h0.5v0.5h-0.5zM438.8,645.1h0.6v0.6h-0.6zM437.6,650.5h0.5v0.5h-0.5zM438.0,650.8h0.6v0.6h-0.6zM438.2,646.9h0.4v0.4h-0.4zM437.5,650.3h0.5v0.5h-0.5zM440.7,648.9h0.4v0.4h-0.4zM440.2,649.5h0.5v0.5h-0.5zM429.9,653.4h0.6v0.6h-0.6zM434.1,650.9h0.4v0.4h-0.4zM434.1,652.7h0.6v0.6h-0.6zM434.4,649.2h0.5v0.5h-0.5zM437.3,650.3h0.7v0.7h-0.7zM443.3,653.6h0.5v0.5h-0.5zM438.1,649.8h0.6v0.6h-0.6zM437.4,650.3h0.6v0.6h-0.6zM434.6,651.0h0.6v0.6h-0.6zM437.1,647.2h0.4v0.4h-0.4zM434.9,647.1h0.4v0.4h-0.4zM431.6,652.7h0.5v0.5h-0.5zM436.3,649.6h0.6v0.6h-0.6zM437.0,652.7h0.6v0.6h-0.6zM434.4,658.9h0.4v0.4h-0.4zM437.2,647.7h0.4v0.4h-0.4zM445.1,647.2h0.5v0.5h-0.5zM438.1,651.6h0.5v0.5h-0.5zM435.2,650.4h0.5v0.5h-0.5zM437.1,651.7h0.7v0.7h-0.7z" fill="#222" opacity="0.1125"/><circle cx="487.5" cy="660.2" r="6.5" fill="url(#col)" opacity="0.5"/><path d="M485.9,661.6h0.7v0.7h-0.7zM487.1,661.0h0.6v0.6h-0.6zM489.6,656.5h0.4v0.4h-0.4zM490.1,662.4h0.4v0.4h-0.4zM486.0,660.7h0.5v0.5h-0.5zM487.6,658.6h0.4v0.4h-0.4zM489.5,663.0h0.7v0.7h-0.7zM487.8,660.0h0.4v0.4h-0.4zM486.8,659.9h0.5v0.5h-0.5zM487.9,660.0h0.5v0.5h-0.5zM487.3,660.1h0.7v0.7h-0.7zM488.4,660.9h0.5v0.5h-0.5zM486.8,657.1h0.4v0.4h-0.4zM487.1,660.3h0.4v0.4h-0.4zM487.6,660.4h0.4v0.4h-0.4zM488.0,661.4h0.5v0.5h-0.5zM488.5,661.3h0.4v0.4h-0.4zM487.7,663.2h0.6v0.6h-0.6zM487.6,660.2h0.7v0.7h-0.7zM486.3,661.0h0.6v0.6h-0.6zM488.1,659.5h0.6v0.6h-0.6zM486.9,659.8h0.6v0.6h-0.6zM487.1,662.3h0.5v0.5h-0.5zM487.5,660.2h0.6v0.6h-0.6zM487.3,660.9h0.4v0.4h-0.4zM489.0,655.8h0.5v0.5h-0.5zM487.9,663.1h0.5v0.5h-0.5zM487.0,657.7h0.5v0.5h-0.5zM485.8,661.3h0.7v0.7h-0.7zM488.8,659.2h0.7v0.7h-0.7zM487.8,660.1h0.6v0.6h-0.6zM489.2,665.9h0.7v0.7h-0.7zM486.6,659.0h0.4v0.4h-0.4zM490.0,657.3h0.4v0.4h-0.4zM487.4,661.8h0.5v0.5h-0.5zM487.2,658.8h0.4v0.4h-0.4zM485.9,657.7h0.6v0.6h-0.6zM486.6,658.1h0.4v0.4h-0.4zM488.6,663.1h0.5v0.5h-0.5zM486.9,660.8h0.6v0.6h-0.6zM487.4,658.3h0.5v0.5h-0.5zM484.8,659.9h0.4v0.4h-0.4zM492.7,658.5h0.7v0.7h-0.7zM486.3,660.5h0.6v0.6h-0.6zM487.5,660.4h0.7v0.7h-0.7zM490.1,655.7h0.7v0.7h-0.7zM487.4,661.1h0.5v0.5h-0.5zM485.1,662.8h0.6v0.6h-0.6zM489.0,657.9h0.4v0.4h-0.4zM489.7,663.5h0.5v0.5h-0.5zM487.7,661.0h0.4v0.4h-0.4zM487.2,658.9h0.4v0.4h-0.4zM489.2,657.7h0.5v0.5h-0.5zM486.9,665.7h0.5v0.5h-0.5zM490.4,660.4h0.4v0.4h-0.4zM488.3,659.2h0.5v0.5h-0.5zM489.8,660.2h0.4v0.4h-0.4zM488.1,660.3h0.4v0.4h-0.4zM486.7,657.0h0.4v0.4h-0.4zM487.1,662.0h0.7v0.7h-0.7zM482.8,665.1h0.4v0.4h-0.4zM487.8,659.8h0.4v0.4h-0.4zM487.1,658.4h0.5v0.5h-0.5zM489.3,655.9h0.4v0.4h-0.4zM487.2,660.1h0.4v0.4h-0.4zM486.7,657.0h0.6v0.6h-0.6zM488.1,657.2h0.7v0.7h-0.7zM488.7,657.3h0.5v0.5h-0.5zM486.2,662.7h0.4v0.4h-0.4zM486.8,661.4h0.6v0.6h-0.6zM490.2,659.0h0.7v0.7h-0.7zM488.2,656.5h0.5v0.5h-0.5zM487.3,660.2h0.4v0.4h-0.4zM485.4,658.3h0.6v0.6h-0.6zM487.5,663.0h0.4v0.4h-0.4zM491.6,664.9h0.5v0.5h-0.5zM482.2,669.2h0.5v0.5h-0.5zM488.4,656.9h0.6v0.6h-0.6zM488.4,662.0h0.4v0.4h-0.4zM487.2,660.3h0.4v0.4h-0.4zM480.7,661.0h0.5v0.5h-0.5zM490.0,656.8h0.6v0.6h-0.6zM487.3,660.1h0.5v0.5h-0.5zM485.3,661.9h0.6v0.6h-0.6zM485.5,660.1h0.7v0.7h-0.7zM488.7,664.0h0.5v0.5h-0.5zM488.4,660.3h0.5v0.5h-0.5zM487.8,659.7h0.6v0.6h-0.6zM489.7,659.7h0.6v0.6h-0.6zM491.2,660.5h0.5v0.5h-0.5zM487.4,661.1h0.5v0.5h-0.5zM486.9,660.8h0.5v0.5h-0.5zM484.0,662.6h0.6v0.6h-0.6zM484.9,658.4h0.4v0.4h-0.4zM482.2,656.4h0.6v0.6h-0.6zM494.1,662.2h0.7v0.7h-0.7zM486.9,659.2h0.6v0.6h-0.6zM493.2,655.8h0.4v0.4h-0.4zM485.8,659.3h0.6v0.6h-0.6zM486.1,658.9h0.5v0.5h-0.5z" fill="#222" opacity="0.225"/><circle cx="487.5" cy="680.8" r="6.5" fill="url(#col)" opacity="0.8"/><path d="M483.9,679.8h0.7v0.7h-0.7zM485.8,680.1h0.7v0.7h-0.7zM491.4,681.5h0.6v0.6h-0.6zM488.5,680.6h0.6v0.6h-0.6zM484.9,681.2h0.6v0.6h-0.6zM490.3,679.8h0.4v0.4h-0.4zM487.2,681.5h0.6v0.6h-0.6zM488.3,681.0h0.6v0.6h-0.6zM487.6,680.6h0.4v0.4h-0.4zM486.6,677.8h0.5v0.5h-0.5zM485.9,679.6h0.7v0.7h-0.7zM488.2,677.0h0.7v0.7h-0.7zM487.6,684.0h0.5v0.5h-0.5zM487.6,680.5h0.4v0.4h-0.4zM486.4,680.4h0.4v0.4h-0.4zM486.5,688.3h0.5v0.5h-0.5zM490.5,679.5h0.5v0.5h-0.5zM482.4,679.2h0.7v0.7h-0.7zM488.3,681.2h0.4v0.4h-0.4zM487.0,682.4h0.6v0.6h-0.6zM483.8,678.8h0.5v0.5h-0.5zM490.0,684.0h0.6v0.6h-0.6zM488.2,679.4h0.6v0.6h-0.6zM488.5,688.3h0.4v0.4h-0.4zM488.0,680.3h0.6v0.6h-0.6zM487.7,679.5h0.6v0.6h-0.6zM488.9,678.3h0.6v0.6h-0.6zM487.7,680.7h0.5v0.5h-0.5zM486.5,678.5h0.5v0.5h-0.5zM486.6,686.5h0.4v0.4h-0.4zM483.4,679.7h0.7v0.7h-0.7zM487.7,685.6h0.6v0.6h-0.6zM485.6,677.2h0.6v0.6h-0.6zM486.1,684.5h0.4v0.4h-0.4zM487.4,681.3h0.6v0.6h-0.6zM489.4,683.8h0.4v0.4h-0.4zM486.7,681.9h0.4v0.4h-0.4zM487.5,679.5h0.4v0.4h-0.4zM486.5,679.0h0.6v0.6h-0.6zM488.4,679.9h0.5v0.5h-0.5zM484.7,681.7h0.4v0.4h-0.4zM487.6,680.2h0.6v0.6h-0.6zM488.6,676.0h0.4v0.4h-0.4zM486.8,681.5h0.5v0.5h-0.5zM487.5,680.9h0.5v0.5h-0.5zM487.0,683.0h0.7v0.7h-0.7zM485.5,678.4h0.7v0.7h-0.7zM487.9,680.7h0.5v0.5h-0.5zM486.0,680.1h0.4v0.4h-0.4zM489.0,681.9h0.5v0.5h-0.5zM487.7,678.9h0.7v0.7h-0.7zM484.6,681.1h0.5v0.5h-0.5zM488.8,678.7h0.4v0.4h-0.4zM486.2,679.3h0.6v0.6h-0.6zM488.8,680.1h0.5v0.5h-0.5zM486.9,683.1h0.5v0.5h-0.5zM481.6,682.0h0.7v0.7h-0.7zM483.8,681.3h0.7v0.7h-0.7zM490.1,683.9h0.7v0.7h-0.7zM485.6,681.9h0.7v0.7h-0.7zM490.9,681.3h0.5v0.5h-0.5zM489.8,676.5h0.4v0.4h-0.4zM487.6,677.5h0.4v0.4h-0.4zM487.7,680.2h0.6v0.6h-0.6zM489.4,682.0h0.5v0.5h-0.5zM487.2,681.0h0.6v0.6h-0.6zM490.8,678.0h0.5v0.5h-0.5zM488.7,681.8h0.4v0.4h-0.4zM484.5,680.4h0.7v0.7h-0.7zM486.0,681.7h0.5v0.5h-0.5zM484.3,682.6h0.6v0.6h-0.6zM481.0,679.0h0.5v0.5h-0.5zM487.5,682.3h0.5v0.5h-0.5zM490.9,680.3h0.5v0.5h-0.5zM488.0,682.5h0.5v0.5h-0.5zM487.6,680.2h0.7v0.7h-0.7zM487.6,681.5h0.5v0.5h-0.5zM484.1,680.1h0.4v0.4h-0.4zM489.8,681.8h0.5v0.5h-0.5zM491.3,678.7h0.6v0.6h-0.6zM486.3,684.4h0.6v0.6h-0.6zM487.8,682.5h0.4v0.4h-0.4zM482.3,681.2h0.6v0.6h-0.6zM487.3,681.9h0.5v0.5h-0.5zM487.6,681.6h0.6v0.6h-0.6zM485.7,681.3h0.6v0.6h-0.6zM486.6,682.1h0.6v0.6h-0.6zM484.3,683.4h0.5v0.5h-0.5zM489.2,685.3h0.5v0.5h-0.5zM487.0,680.2h0.4v0.4h-0.4zM487.1,681.5h0.4v0.4h-0.4zM481.7,682.9h0.7v0.7h-0.7zM487.6,680.3h0.4v0.4h-0.4zM486.7,678.2h0.5v0.5h-0.5zM487.0,677.6h0.6v0.6h-0.6zM489.3,676.7h0.7v0.7h-0.7zM487.2,681.1h0.7v0.7h-0.7zM487.5,680.8h0.5v0.5h-0.5zM487.2,681.0h0.4v0.4h-0.4zM488.1,678.1h0.5v0.5h-0.5z" fill="#222" opacity="0.36000000000000004"/><circle cx="480.6" cy="624.9" r="2.6" fill="url(#col)" opacity="0.95"/><path d="M480.6,624.5h0.6v0.6h-0.6zM480.6,624.9h0.5v0.5h-0.5zM480.7,624.9h0.6v0.6h-0.6zM479.3,623.4h0.5v0.5h-0.5zM480.6,624.5h0.5v0.5h-0.5zM480.0,624.5h0.6v0.6h-0.6zM480.7,625.3h0.4v0.4h-0.4zM480.0,625.8h0.6v0.6h-0.6zM479.7,624.4h0.4v0.4h-0.4zM480.6,623.0h0.4v0.4h-0.4zM480.6,624.9h0.4v0.4h-0.4zM481.8,623.9h0.7v0.7h-0.7zM480.6,624.9h0.5v0.5h-0.5zM480.5,626.9h0.7v0.7h-0.7zM481.7,624.6h0.5v0.5h-0.5zM480.6,625.0h0.5v0.5h-0.5z" fill="#222" opacity="0.4275"/><circle cx="435.5" cy="625.5" r="2.6" fill="url(#col)" opacity="0.5"/><path d="M437.5,624.0h0.5v0.5h-0.5zM435.9,625.5h0.7v0.7h-0.7zM435.5,625.7h0.5v0.5h-0.5zM436.0,625.9h0.4v0.4h-0.4zM435.5,626.7h0.5v0.5h-0.5zM434.8,625.4h0.6v0.6h-0.6zM435.2,623.9h0.6v0.6h-0.6zM433.3,624.6h0.5v0.5h-0.5zM434.6,627.1h0.6v0.6h-0.6zM437.1,626.7h0.7v0.7h-0.7zM437.0,624.2h0.4v0.4h-0.4zM435.1,625.4h0.6v0.6h-0.6zM434.4,627.1h0.4v0.4h-0.4zM435.5,625.5h0.5v0.5h-0.5zM436.3,625.4h0.4v0.4h-0.4zM435.2,627.4h0.4v0.4h-0.4z" fill="#222" opacity="0.225"/></g><text x="419.5" y="635.4" font-size="8.6" textLength="62.3" lengthAdjust="spacingAndGlyphs" fill="#1a1a1a" stroke="#1a1a1a" stroke-width="0.3" >SNORD42A KO</text><text x="419.5" y="695.2" font-size="8.8" textLength="16.5" lengthAdjust="spacingAndGlyphs" fill="#1a1a1a" stroke="#1a1a1a" stroke-width="0.3" >2,5x</text><path d="M428.7,662.8h0.4v0.4h-0.4zM492.2,631.1h0.5v0.5h-0.5zM498.7,633.3h0.4v0.4h-0.4zM489.3,658.6h0.6v0.6h-0.6zM447.3,653.3h0.6v0.6h-0.6zM447.8,695.0h0.6v0.6h-0.6zM433.7,664.1h0.6v0.6h-0.6zM425.5,686.4h0.5v0.5h-0.5zM487.7,668.2h0.3v0.3h-0.3zM508.3,631.5h0.5v0.5h-0.5zM485.2,647.3h0.5v0.5h-0.5zM454.4,679.2h0.3v0.3h-0.3zM505.9,652.3h0.5v0.5h-0.5zM460.4,683.7h0.4v0.4h-0.4zM467.6,625.9h0.4v0.4h-0.4zM421.8,687.2h0.5v0.5h-0.5zM455.8,695.6h0.6v0.6h-0.6zM508.1,630.1h0.5v0.5h-0.5zM485.6,668.5h0.3v0.3h-0.3zM504.9,656.2h0.5v0.5h-0.5zM494.2,644.2h0.3v0.3h-0.3zM504.9,643.9h0.3v0.3h-0.3zM427.4,697.1h0.5v0.5h-0.5zM434.7,634.8h0.6v0.6h-0.6zM479.4,666.9h0.3v0.3h-0.3zM454.7,693.6h0.3v0.3h-0.3zM455.2,628.2h0.6v0.6h-0.6zM424.3,694.1h0.6v0.6h-0.6zM486.0,627.1h0.5v0.5h-0.5zM462.5,660.1h0.3v0.3h-0.3zM464.4,682.9h0.3v0.3h-0.3zM500.2,654.9h0.4v0.4h-0.4zM437.5,657.8h0.5v0.5h-0.5zM470.1,689.4h0.5v0.5h-0.5zM464.4,696.7h0.4v0.4h-0.4zM415.6,648.1h0.4v0.4h-0.4zM426.2,654.7h0.3v0.3h-0.3zM504.6,659.6h0.6v0.6h-0.6zM482.6,677.6h0.5v0.5h-0.5zM443.7,677.6h0.4v0.4h-0.4zM468.6,667.8h0.5v0.5h-0.5zM430.5,649.3h0.5v0.5h-0.5zM493.2,695.9h0.3v0.3h-0.3zM434.7,631.8h0.5v0.5h-0.5zM487.4,671.6h0.5v0.5h-0.5zM464.8,665.3h0.6v0.6h-0.6zM477.8,672.2h0.5v0.5h-0.5zM462.6,679.6h0.5v0.5h-0.5zM426.7,655.3h0.4v0.4h-0.4zM456.5,665.2h0.4v0.4h-0.4zM452.5,655.4h0.4v0.4h-0.4zM509.6,630.6h0.3v0.3h-0.3zM485.0,653.0h0.4v0.4h-0.4zM472.2,651.0h0.4v0.4h-0.4zM415.5,688.2h0.6v0.6h-0.6zM442.1,658.2h0.4v0.4h-0.4zM419.7,689.6h0.6v0.6h-0.6zM437.7,642.7h0.5v0.5h-0.5zM492.4,658.5h0.4v0.4h-0.4zM437.0,682.7h0.6v0.6h-0.6zM498.4,632.4h0.5v0.5h-0.5zM510.9,676.6h0.4v0.4h-0.4zM428.3,628.4h0.5v0.5h-0.5zM420.8,683.5h0.5v0.5h-0.5zM460.6,689.5h0.6v0.6h-0.6zM474.7,631.3h0.5v0.5h-0.5zM455.4,642.3h0.6v0.6h-0.6zM485.9,632.9h0.4v0.4h-0.4zM447.7,666.1h0.4v0.4h-0.4zM457.3,683.8h0.4v0.4h-0.4zM484.9,648.3h0.6v0.6h-0.6zM507.7,648.1h0.5v0.5h-0.5zM424.9,654.2h0.5v0.5h-0.5zM476.8,649.2h0.3v0.3h-0.3zM426.2,665.2h0.4v0.4h-0.4zM444.1,669.5h0.6v0.6h-0.6zM464.7,642.7h0.5v0.5h-0.5zM441.1,681.5h0.3v0.3h-0.3zM439.8,656.2h0.6v0.6h-0.6zM430.3,638.1h0.3v0.3h-0.3zM435.0,648.4h0.4v0.4h-0.4zM488.7,653.7h0.4v0.4h-0.4zM453.0,680.9h0.6v0.6h-0.6zM455.9,691.7h0.4v0.4h-0.4zM510.2,662.6h0.5v0.5h-0.5zM451.5,644.0h0.3v0.3h-0.3zM501.1,650.4h0.5v0.5h-0.5zM459.3,662.7h0.4v0.4h-0.4zM431.4,648.7h0.5v0.5h-0.5zM467.5,624.2h0.5v0.5h-0.5zM456.6,629.1h0.4v0.4h-0.4zM434.8,684.5h0.5v0.5h-0.5zM446.2,642.3h0.4v0.4h-0.4zM441.6,649.5h0.5v0.5h-0.5zM491.6,675.3h0.6v0.6h-0.6zM478.3,632.3h0.3v0.3h-0.3zM430.2,643.0h0.5v0.5h-0.5zM494.9,667.1h0.4v0.4h-0.4zM437.8,696.2h0.5v0.5h-0.5zM447.6,627.4h0.6v0.6h-0.6zM439.2,686.3h0.3v0.3h-0.3zM478.3,650.2h0.6v0.6h-0.6zM443.2,631.4h0.4v0.4h-0.4zM493.3,695.9h0.5v0.5h-0.5zM481.1,644.7h0.4v0.4h-0.4zM422.5,696.4h0.3v0.3h-0.3zM474.3,649.7h0.4v0.4h-0.4zM456.9,692.4h0.4v0.4h-0.4zM430.2,670.3h0.5v0.5h-0.5zM464.2,637.2h0.6v0.6h-0.6zM424.9,636.8h0.4v0.4h-0.4zM464.6,659.0h0.5v0.5h-0.5zM485.5,689.7h0.4v0.4h-0.4zM418.1,685.1h0.3v0.3h-0.3zM445.3,634.5h0.5v0.5h-0.5zM490.9,633.5h0.4v0.4h-0.4zM497.7,674.6h0.3v0.3h-0.3zM481.5,682.4h0.4v0.4h-0.4zM429.3,672.4h0.4v0.4h-0.4zM427.2,636.1h0.4v0.4h-0.4zM426.5,652.3h0.5v0.5h-0.5zM468.3,653.7h0.5v0.5h-0.5zM422.6,648.2h0.6v0.6h-0.6zM499.0,691.7h0.5v0.5h-0.5zM466.7,681.9h0.5v0.5h-0.5zM425.6,642.8h0.3v0.3h-0.3zM500.1,647.7h0.4v0.4h-0.4zM467.0,631.4h0.5v0.5h-0.5zM492.3,682.5h0.6v0.6h-0.6zM445.2,634.7h0.5v0.5h-0.5zM482.2,651.3h0.4v0.4h-0.4zM429.1,685.1h0.4v0.4h-0.4zM493.9,649.0h0.4v0.4h-0.4zM464.5,678.8h0.6v0.6h-0.6zM448.8,675.0h0.4v0.4h-0.4zM498.8,679.9h0.5v0.5h-0.5zM449.7,644.1h0.6v0.6h-0.6zM492.8,646.4h0.3v0.3h-0.3zM433.2,694.9h0.3v0.3h-0.3zM493.7,662.9h0.5v0.5h-0.5zM467.1,654.2h0.5v0.5h-0.5zM422.9,691.6h0.3v0.3h-0.3zM427.7,673.4h0.5v0.5h-0.5zM493.4,674.9h0.6v0.6h-0.6zM419.1,624.8h0.4v0.4h-0.4zM490.6,635.2h0.5v0.5h-0.5zM489.8,635.5h0.5v0.5h-0.5zM502.6,678.9h0.4v0.4h-0.4zM461.1,644.4h0.6v0.6h-0.6zM491.0,674.0h0.4v0.4h-0.4zM486.0,659.8h0.5v0.5h-0.5zM449.8,688.8h0.5v0.5h-0.5zM458.3,665.4h0.5v0.5h-0.5zM466.1,694.6h0.3v0.3h-0.3zM502.3,676.5h0.4v0.4h-0.4zM497.6,634.9h0.4v0.4h-0.4zM484.2,684.5h0.4v0.4h-0.4zM511.8,671.7h0.3v0.3h-0.3zM426.1,629.6h0.5v0.5h-0.5zM445.7,643.2h0.4v0.4h-0.4zM421.7,690.8h0.6v0.6h-0.6zM469.0,656.7h0.4v0.4h-0.4zM473.3,649.5h0.6v0.6h-0.6zM508.1,677.4h0.5v0.5h-0.5zM421.4,633.1h0.4v0.4h-0.4zM426.4,655.1h0.6v0.6h-0.6zM496.1,694.5h0.4v0.4h-0.4zM435.8,625.7h0.4v0.4h-0.4zM419.6,662.8h0.4v0.4h-0.4zM480.3,665.2h0.5v0.5h-0.5zM443.5,678.0h0.5v0.5h-0.5zM484.3,658.6h0.4v0.4h-0.4zM442.1,626.9h0.4v0.4h-0.4zM474.6,637.7h0.6v0.6h-0.6zM500.5,686.7h0.5v0.5h-0.5zM462.1,636.9h0.4v0.4h-0.4zM486.6,696.4h0.3v0.3h-0.3zM414.6,650.0h0.4v0.4h-0.4zM472.8,632.3h0.6v0.6h-0.6zM447.3,690.8h0.4v0.4h-0.4z" fill="#333" opacity="0.25"/>
<rect x="0.5" y="0.5" width="519" height="704" fill="none" stroke="#000" stroke-width="1"/>
</svg>
</body></html>
